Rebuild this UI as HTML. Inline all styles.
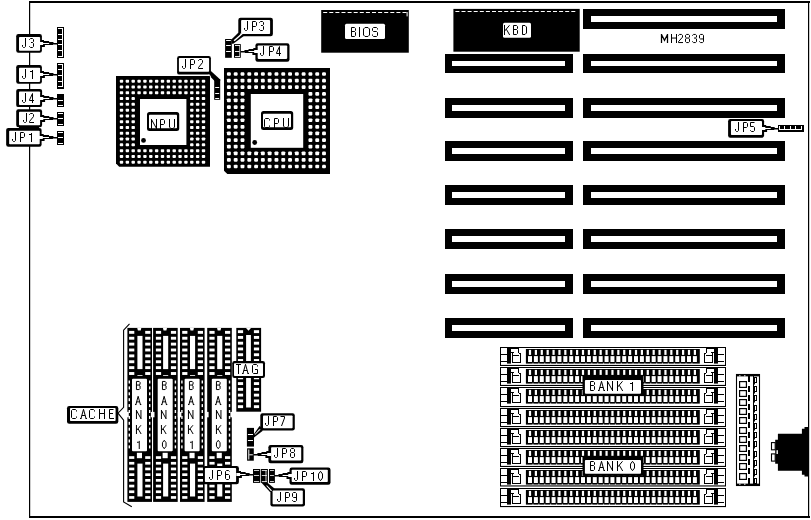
<!DOCTYPE html>
<html><head><meta charset="utf-8"><style>
html,body{margin:0;padding:0;background:#fff;width:811px;height:520px;overflow:hidden}
svg{display:block}
</style></head><body>
<svg width="811" height="520" viewBox="0 0 811 520">
<rect x="0" y="0" width="811" height="520" fill="#fff"/>
<rect x="29" y="1" width="781" height="2" fill="#000" />
<rect x="29" y="1" width="1.2" height="517" fill="#000" />
<rect x="808" y="1" width="1.2" height="517" fill="#000" />
<rect x="29" y="516" width="781" height="2" fill="#000" />
<rect x="57" y="27" width="7" height="31" fill="#000" />
<rect x="62" y="28" width="1" height="29" fill="#fff" />
<rect x="58" y="28" width="5" height="1" fill="#fff" />
<rect x="58" y="34" width="5" height="1" fill="#fff" />
<rect x="58" y="39" width="5" height="1" fill="#fff" />
<rect x="58" y="44" width="5" height="1" fill="#fff" />
<rect x="58" y="50" width="5" height="1" fill="#fff" />
<rect x="58" y="56" width="5" height="1" fill="#fff" />
<rect x="57" y="63" width="7" height="26" fill="#000" />
<rect x="62" y="64" width="1" height="23" fill="#fff" />
<rect x="58" y="64" width="5" height="1" fill="#fff" />
<rect x="58" y="69" width="5" height="1" fill="#fff" />
<rect x="58" y="75" width="5" height="1" fill="#fff" />
<rect x="58" y="81" width="5" height="1" fill="#fff" />
<rect x="58" y="86" width="5" height="1" fill="#fff" />
<rect x="57" y="94" width="7" height="13" fill="#000" />
<rect x="58" y="100" width="5" height="1" fill="#fff" />
<rect x="58" y="105" width="5" height="1" fill="#fff" />
<rect x="57" y="112" width="7" height="14" fill="#000" />
<rect x="58" y="113" width="5" height="1" fill="#fff" />
<rect x="58" y="118" width="5" height="1" fill="#fff" />
<rect x="58" y="124" width="5" height="1" fill="#fff" />
<rect x="57" y="131" width="7" height="14" fill="#000" />
<rect x="58" y="132" width="5" height="1" fill="#fff" />
<rect x="58" y="137" width="5" height="1" fill="#fff" />
<rect x="58" y="143" width="5" height="1" fill="#fff" />
<path d="M40.9 40 L44 40 L44 41 L49.14 41 L49.14 42 L53.45 42 L53.45 42.9 L57.3 42.9 L57.3 44.4 L52.99 44.4 L52.99 45 L44.9 45 L44.9 47 L40.9 47 Z" fill="#000"/>
<rect x="16.2" y="34.1" width="25.7" height="18.6" rx="2.2" fill="#000"/>
<rect x="19" y="36.9" width="21.1" height="13.9" rx="0.8" fill="#fff"/>
<path d="M3.5 0 V8.5 L2.5 9.5 H1.5 L0.5 8.5 V7" transform="translate(22 38) scale(1)" fill="none" stroke="#000" stroke-width="1" stroke-linecap="butt" stroke-linejoin="miter"/>
<path d="M0.5 2 V1.5 L1.5 0.5 H3.5 L4.5 1.5 V3.5 L3.5 4.5 H2 M3.5 4.5 L4.5 5.5 V8.5 L3.5 9.5 H1.5 L0.5 8.5 V8" transform="translate(29 38) scale(1)" fill="none" stroke="#000" stroke-width="1" stroke-linecap="butt" stroke-linejoin="miter"/>
<path d="M39.3 42 L43.1 42 L43.1 43 L49.14 43 L49.14 44 L43.1 44 L43.1 45 L39.3 45 Z" fill="#fff"/>
<path d="M40.9 71 L44 71 L44 72 L49.14 72 L49.14 73 L53.45 73 L53.45 73.9 L57.3 73.9 L57.3 75.4 L52.99 75.4 L52.99 76 L44.9 76 L44.9 78 L40.9 78 Z" fill="#000"/>
<rect x="16.2" y="65" width="25.7" height="18.8" rx="2.2" fill="#000"/>
<rect x="19" y="67.8" width="21.1" height="14.1" rx="0.8" fill="#fff"/>
<path d="M3.5 0 V8.5 L2.5 9.5 H1.5 L0.5 8.5 V7" transform="translate(22 69) scale(1)" fill="none" stroke="#000" stroke-width="1" stroke-linecap="butt" stroke-linejoin="miter"/>
<path d="M0 2.5 H2 M2.5 1 V10" transform="translate(30 69) scale(1)" fill="none" stroke="#000" stroke-width="1" stroke-linecap="butt" stroke-linejoin="miter"/>
<path d="M39.3 73 L43.1 73 L43.1 74 L49.14 74 L49.14 75 L43.1 75 L43.1 76 L39.3 76 Z" fill="#fff"/>
<path d="M41.1 95 L44.2 95 L44.2 96 L49.24 96 L49.24 97 L53.5 97 L53.5 97.9 L57.3 97.9 L57.3 99.4 L53.04 99.4 L53.04 100 L45.1 100 L45.1 102 L41.1 102 Z" fill="#000"/>
<rect x="16.2" y="88.9" width="25.9" height="18.2" rx="2.2" fill="#000"/>
<rect x="19" y="91.5" width="21.1" height="13.6" rx="0.8" fill="#fff"/>
<path d="M3.5 0 V8.5 L2.5 9.5 H1.5 L0.5 8.5 V7" transform="translate(22 93) scale(1)" fill="none" stroke="#000" stroke-width="1" stroke-linecap="butt" stroke-linejoin="miter"/>
<path d="M3.5 10 V0.5 L0.5 7 V7.5 H5" transform="translate(29 93) scale(1)" fill="none" stroke="#000" stroke-width="1" stroke-linecap="butt" stroke-linejoin="miter"/>
<path d="M39.5 97 L43.3 97 L43.3 98 L49.24 98 L49.24 99 L43.3 99 L43.3 100 L39.5 100 Z" fill="#fff"/>
<rect x="19" y="125" width="20" height="3.5" fill="#000" />
<path d="M41.1 115 L44.2 115 L44.2 116 L49.24 116 L49.24 117 L53.5 117 L53.5 117.9 L57.3 117.9 L57.3 119.4 L53.04 119.4 L53.04 120 L45.1 120 L45.1 122 L41.1 122 Z" fill="#000"/>
<rect x="16.2" y="109.2" width="25.9" height="18" rx="2.2" fill="#000"/>
<rect x="19" y="111.8" width="21.1" height="13.4" rx="0.8" fill="#fff"/>
<path d="M3.5 0 V8.5 L2.5 9.5 H1.5 L0.5 8.5 V7" transform="translate(23 113) scale(1)" fill="none" stroke="#000" stroke-width="1" stroke-linecap="butt" stroke-linejoin="miter"/>
<path d="M0.5 2 V1.5 L1.5 0.5 H3.5 L4.5 1.5 V3.5 L0.5 8.5 V9.5 H5" transform="translate(29 113) scale(1)" fill="none" stroke="#000" stroke-width="1" stroke-linecap="butt" stroke-linejoin="miter"/>
<path d="M39.5 117 L43.3 117 L43.3 118 L49.24 118 L49.24 119 L43.3 119 L43.3 120 L39.5 120 Z" fill="#fff"/>
<path d="M40.6 134 L43.7 134 L43.7 135 L48.98 135 L48.98 136 L53.38 136 L53.38 136.9 L57.3 136.9 L57.3 138.4 L52.9 138.4 L52.9 139 L44.6 139 L44.6 141 L40.6 141 Z" fill="#000"/>
<rect x="6.15" y="127.9" width="35.45" height="18.8" rx="2.2" fill="#000"/>
<rect x="9.15" y="130.8" width="30.55" height="13.5" rx="0.8" fill="#fff"/>
<path d="M3.5 0 V8.5 L2.5 9.5 H1.5 L0.5 8.5 V7" transform="translate(12 132) scale(1)" fill="none" stroke="#000" stroke-width="1" stroke-linecap="butt" stroke-linejoin="miter"/>
<path d="M0.5 10 V0.5 H3.5 L4.5 1.5 V4.5 L3.5 5.5 H0.5" transform="translate(20 132) scale(1)" fill="none" stroke="#000" stroke-width="1" stroke-linecap="butt" stroke-linejoin="miter"/>
<path d="M0 2.5 H2 M2.5 1 V10" transform="translate(29 132) scale(1)" fill="none" stroke="#000" stroke-width="1" stroke-linecap="butt" stroke-linejoin="miter"/>
<path d="M39 136 L42.8 136 L42.8 137 L48.98 137 L48.98 138 L42.8 138 L42.8 139 L39 139 Z" fill="#fff"/>
<path d="M116 76 L210 76 L210 166.8 L119.2 166.8 L116 163.6 Z" fill="#000"/>
<path d="M120.4 79.7 L122.6 79.7 L123.2 80.3 L123.2 82.1 L122.6 82.7 L120.4 82.7 L119.8 82.1 L119.8 80.3 Z" fill="#fff"/>
<path d="M120.4 85.49 L122.6 85.49 L123.2 86.09 L123.2 87.89 L122.6 88.49 L120.4 88.49 L119.8 87.89 L119.8 86.09 Z" fill="#fff"/>
<path d="M120.4 91.27 L122.6 91.27 L123.2 91.87 L123.2 93.67 L122.6 94.27 L120.4 94.27 L119.8 93.67 L119.8 91.87 Z" fill="#fff"/>
<path d="M120.4 97.06 L122.6 97.06 L123.2 97.66 L123.2 99.46 L122.6 100.06 L120.4 100.06 L119.8 99.46 L119.8 97.66 Z" fill="#fff"/>
<path d="M120.4 102.84 L122.6 102.84 L123.2 103.44 L123.2 105.24 L122.6 105.84 L120.4 105.84 L119.8 105.24 L119.8 103.44 Z" fill="#fff"/>
<path d="M120.4 108.63 L122.6 108.63 L123.2 109.23 L123.2 111.03 L122.6 111.63 L120.4 111.63 L119.8 111.03 L119.8 109.23 Z" fill="#fff"/>
<path d="M120.4 114.41 L122.6 114.41 L123.2 115.01 L123.2 116.81 L122.6 117.41 L120.4 117.41 L119.8 116.81 L119.8 115.01 Z" fill="#fff"/>
<path d="M120.4 120.2 L122.6 120.2 L123.2 120.8 L123.2 122.6 L122.6 123.2 L120.4 123.2 L119.8 122.6 L119.8 120.8 Z" fill="#fff"/>
<path d="M120.4 125.99 L122.6 125.99 L123.2 126.59 L123.2 128.39 L122.6 128.99 L120.4 128.99 L119.8 128.39 L119.8 126.59 Z" fill="#fff"/>
<path d="M120.4 131.77 L122.6 131.77 L123.2 132.37 L123.2 134.17 L122.6 134.77 L120.4 134.77 L119.8 134.17 L119.8 132.37 Z" fill="#fff"/>
<path d="M120.4 137.56 L122.6 137.56 L123.2 138.16 L123.2 139.96 L122.6 140.56 L120.4 140.56 L119.8 139.96 L119.8 138.16 Z" fill="#fff"/>
<path d="M120.4 143.34 L122.6 143.34 L123.2 143.94 L123.2 145.74 L122.6 146.34 L120.4 146.34 L119.8 145.74 L119.8 143.94 Z" fill="#fff"/>
<path d="M120.4 149.13 L122.6 149.13 L123.2 149.73 L123.2 151.53 L122.6 152.13 L120.4 152.13 L119.8 151.53 L119.8 149.73 Z" fill="#fff"/>
<path d="M120.4 154.91 L122.6 154.91 L123.2 155.51 L123.2 157.31 L122.6 157.91 L120.4 157.91 L119.8 157.31 L119.8 155.51 Z" fill="#fff"/>
<path d="M120.4 160.7 L122.6 160.7 L123.2 161.3 L123.2 163.1 L122.6 163.7 L120.4 163.7 L119.8 163.1 L119.8 161.3 Z" fill="#fff"/>
<path d="M126.26 79.7 L128.46 79.7 L129.06 80.3 L129.06 82.1 L128.46 82.7 L126.26 82.7 L125.66 82.1 L125.66 80.3 Z" fill="#fff"/>
<path d="M126.26 85.49 L128.46 85.49 L129.06 86.09 L129.06 87.89 L128.46 88.49 L126.26 88.49 L125.66 87.89 L125.66 86.09 Z" fill="#fff"/>
<path d="M126.26 91.27 L128.46 91.27 L129.06 91.87 L129.06 93.67 L128.46 94.27 L126.26 94.27 L125.66 93.67 L125.66 91.87 Z" fill="#fff"/>
<path d="M126.26 97.06 L128.46 97.06 L129.06 97.66 L129.06 99.46 L128.46 100.06 L126.26 100.06 L125.66 99.46 L125.66 97.66 Z" fill="#fff"/>
<path d="M126.26 102.84 L128.46 102.84 L129.06 103.44 L129.06 105.24 L128.46 105.84 L126.26 105.84 L125.66 105.24 L125.66 103.44 Z" fill="#fff"/>
<path d="M126.26 108.63 L128.46 108.63 L129.06 109.23 L129.06 111.03 L128.46 111.63 L126.26 111.63 L125.66 111.03 L125.66 109.23 Z" fill="#fff"/>
<path d="M126.26 114.41 L128.46 114.41 L129.06 115.01 L129.06 116.81 L128.46 117.41 L126.26 117.41 L125.66 116.81 L125.66 115.01 Z" fill="#fff"/>
<path d="M126.26 120.2 L128.46 120.2 L129.06 120.8 L129.06 122.6 L128.46 123.2 L126.26 123.2 L125.66 122.6 L125.66 120.8 Z" fill="#fff"/>
<path d="M126.26 125.99 L128.46 125.99 L129.06 126.59 L129.06 128.39 L128.46 128.99 L126.26 128.99 L125.66 128.39 L125.66 126.59 Z" fill="#fff"/>
<path d="M126.26 131.77 L128.46 131.77 L129.06 132.37 L129.06 134.17 L128.46 134.77 L126.26 134.77 L125.66 134.17 L125.66 132.37 Z" fill="#fff"/>
<path d="M126.26 137.56 L128.46 137.56 L129.06 138.16 L129.06 139.96 L128.46 140.56 L126.26 140.56 L125.66 139.96 L125.66 138.16 Z" fill="#fff"/>
<path d="M126.26 143.34 L128.46 143.34 L129.06 143.94 L129.06 145.74 L128.46 146.34 L126.26 146.34 L125.66 145.74 L125.66 143.94 Z" fill="#fff"/>
<path d="M126.26 149.13 L128.46 149.13 L129.06 149.73 L129.06 151.53 L128.46 152.13 L126.26 152.13 L125.66 151.53 L125.66 149.73 Z" fill="#fff"/>
<path d="M126.26 154.91 L128.46 154.91 L129.06 155.51 L129.06 157.31 L128.46 157.91 L126.26 157.91 L125.66 157.31 L125.66 155.51 Z" fill="#fff"/>
<path d="M126.26 160.7 L128.46 160.7 L129.06 161.3 L129.06 163.1 L128.46 163.7 L126.26 163.7 L125.66 163.1 L125.66 161.3 Z" fill="#fff"/>
<path d="M132.11 79.7 L134.31 79.7 L134.91 80.3 L134.91 82.1 L134.31 82.7 L132.11 82.7 L131.51 82.1 L131.51 80.3 Z" fill="#fff"/>
<path d="M132.11 85.49 L134.31 85.49 L134.91 86.09 L134.91 87.89 L134.31 88.49 L132.11 88.49 L131.51 87.89 L131.51 86.09 Z" fill="#fff"/>
<path d="M132.11 91.27 L134.31 91.27 L134.91 91.87 L134.91 93.67 L134.31 94.27 L132.11 94.27 L131.51 93.67 L131.51 91.87 Z" fill="#fff"/>
<path d="M132.11 97.06 L134.31 97.06 L134.91 97.66 L134.91 99.46 L134.31 100.06 L132.11 100.06 L131.51 99.46 L131.51 97.66 Z" fill="#fff"/>
<path d="M132.11 102.84 L134.31 102.84 L134.91 103.44 L134.91 105.24 L134.31 105.84 L132.11 105.84 L131.51 105.24 L131.51 103.44 Z" fill="#fff"/>
<path d="M132.11 108.63 L134.31 108.63 L134.91 109.23 L134.91 111.03 L134.31 111.63 L132.11 111.63 L131.51 111.03 L131.51 109.23 Z" fill="#fff"/>
<path d="M132.11 114.41 L134.31 114.41 L134.91 115.01 L134.91 116.81 L134.31 117.41 L132.11 117.41 L131.51 116.81 L131.51 115.01 Z" fill="#fff"/>
<path d="M132.11 120.2 L134.31 120.2 L134.91 120.8 L134.91 122.6 L134.31 123.2 L132.11 123.2 L131.51 122.6 L131.51 120.8 Z" fill="#fff"/>
<path d="M132.11 125.99 L134.31 125.99 L134.91 126.59 L134.91 128.39 L134.31 128.99 L132.11 128.99 L131.51 128.39 L131.51 126.59 Z" fill="#fff"/>
<path d="M132.11 131.77 L134.31 131.77 L134.91 132.37 L134.91 134.17 L134.31 134.77 L132.11 134.77 L131.51 134.17 L131.51 132.37 Z" fill="#fff"/>
<path d="M132.11 137.56 L134.31 137.56 L134.91 138.16 L134.91 139.96 L134.31 140.56 L132.11 140.56 L131.51 139.96 L131.51 138.16 Z" fill="#fff"/>
<path d="M132.11 143.34 L134.31 143.34 L134.91 143.94 L134.91 145.74 L134.31 146.34 L132.11 146.34 L131.51 145.74 L131.51 143.94 Z" fill="#fff"/>
<path d="M132.11 149.13 L134.31 149.13 L134.91 149.73 L134.91 151.53 L134.31 152.13 L132.11 152.13 L131.51 151.53 L131.51 149.73 Z" fill="#fff"/>
<path d="M132.11 154.91 L134.31 154.91 L134.91 155.51 L134.91 157.31 L134.31 157.91 L132.11 157.91 L131.51 157.31 L131.51 155.51 Z" fill="#fff"/>
<path d="M132.11 160.7 L134.31 160.7 L134.91 161.3 L134.91 163.1 L134.31 163.7 L132.11 163.7 L131.51 163.1 L131.51 161.3 Z" fill="#fff"/>
<path d="M137.97 79.7 L140.17 79.7 L140.77 80.3 L140.77 82.1 L140.17 82.7 L137.97 82.7 L137.37 82.1 L137.37 80.3 Z" fill="#fff"/>
<path d="M137.97 85.49 L140.17 85.49 L140.77 86.09 L140.77 87.89 L140.17 88.49 L137.97 88.49 L137.37 87.89 L137.37 86.09 Z" fill="#fff"/>
<path d="M137.97 91.27 L140.17 91.27 L140.77 91.87 L140.77 93.67 L140.17 94.27 L137.97 94.27 L137.37 93.67 L137.37 91.87 Z" fill="#fff"/>
<path d="M137.97 149.13 L140.17 149.13 L140.77 149.73 L140.77 151.53 L140.17 152.13 L137.97 152.13 L137.37 151.53 L137.37 149.73 Z" fill="#fff"/>
<path d="M137.97 154.91 L140.17 154.91 L140.77 155.51 L140.77 157.31 L140.17 157.91 L137.97 157.91 L137.37 157.31 L137.37 155.51 Z" fill="#fff"/>
<path d="M137.97 160.7 L140.17 160.7 L140.77 161.3 L140.77 163.1 L140.17 163.7 L137.97 163.7 L137.37 163.1 L137.37 161.3 Z" fill="#fff"/>
<path d="M143.83 79.7 L146.03 79.7 L146.63 80.3 L146.63 82.1 L146.03 82.7 L143.83 82.7 L143.23 82.1 L143.23 80.3 Z" fill="#fff"/>
<path d="M143.83 85.49 L146.03 85.49 L146.63 86.09 L146.63 87.89 L146.03 88.49 L143.83 88.49 L143.23 87.89 L143.23 86.09 Z" fill="#fff"/>
<path d="M143.83 91.27 L146.03 91.27 L146.63 91.87 L146.63 93.67 L146.03 94.27 L143.83 94.27 L143.23 93.67 L143.23 91.87 Z" fill="#fff"/>
<path d="M143.83 149.13 L146.03 149.13 L146.63 149.73 L146.63 151.53 L146.03 152.13 L143.83 152.13 L143.23 151.53 L143.23 149.73 Z" fill="#fff"/>
<path d="M143.83 154.91 L146.03 154.91 L146.63 155.51 L146.63 157.31 L146.03 157.91 L143.83 157.91 L143.23 157.31 L143.23 155.51 Z" fill="#fff"/>
<path d="M143.83 160.7 L146.03 160.7 L146.63 161.3 L146.63 163.1 L146.03 163.7 L143.83 163.7 L143.23 163.1 L143.23 161.3 Z" fill="#fff"/>
<path d="M149.69 79.7 L151.89 79.7 L152.49 80.3 L152.49 82.1 L151.89 82.7 L149.69 82.7 L149.09 82.1 L149.09 80.3 Z" fill="#fff"/>
<path d="M149.69 85.49 L151.89 85.49 L152.49 86.09 L152.49 87.89 L151.89 88.49 L149.69 88.49 L149.09 87.89 L149.09 86.09 Z" fill="#fff"/>
<path d="M149.69 91.27 L151.89 91.27 L152.49 91.87 L152.49 93.67 L151.89 94.27 L149.69 94.27 L149.09 93.67 L149.09 91.87 Z" fill="#fff"/>
<path d="M149.69 149.13 L151.89 149.13 L152.49 149.73 L152.49 151.53 L151.89 152.13 L149.69 152.13 L149.09 151.53 L149.09 149.73 Z" fill="#fff"/>
<path d="M149.69 154.91 L151.89 154.91 L152.49 155.51 L152.49 157.31 L151.89 157.91 L149.69 157.91 L149.09 157.31 L149.09 155.51 Z" fill="#fff"/>
<path d="M149.69 160.7 L151.89 160.7 L152.49 161.3 L152.49 163.1 L151.89 163.7 L149.69 163.7 L149.09 163.1 L149.09 161.3 Z" fill="#fff"/>
<path d="M155.54 79.7 L157.74 79.7 L158.34 80.3 L158.34 82.1 L157.74 82.7 L155.54 82.7 L154.94 82.1 L154.94 80.3 Z" fill="#fff"/>
<path d="M155.54 85.49 L157.74 85.49 L158.34 86.09 L158.34 87.89 L157.74 88.49 L155.54 88.49 L154.94 87.89 L154.94 86.09 Z" fill="#fff"/>
<path d="M155.54 91.27 L157.74 91.27 L158.34 91.87 L158.34 93.67 L157.74 94.27 L155.54 94.27 L154.94 93.67 L154.94 91.87 Z" fill="#fff"/>
<path d="M155.54 149.13 L157.74 149.13 L158.34 149.73 L158.34 151.53 L157.74 152.13 L155.54 152.13 L154.94 151.53 L154.94 149.73 Z" fill="#fff"/>
<path d="M155.54 154.91 L157.74 154.91 L158.34 155.51 L158.34 157.31 L157.74 157.91 L155.54 157.91 L154.94 157.31 L154.94 155.51 Z" fill="#fff"/>
<path d="M155.54 160.7 L157.74 160.7 L158.34 161.3 L158.34 163.1 L157.74 163.7 L155.54 163.7 L154.94 163.1 L154.94 161.3 Z" fill="#fff"/>
<path d="M161.4 79.7 L163.6 79.7 L164.2 80.3 L164.2 82.1 L163.6 82.7 L161.4 82.7 L160.8 82.1 L160.8 80.3 Z" fill="#fff"/>
<path d="M161.4 85.49 L163.6 85.49 L164.2 86.09 L164.2 87.89 L163.6 88.49 L161.4 88.49 L160.8 87.89 L160.8 86.09 Z" fill="#fff"/>
<path d="M161.4 91.27 L163.6 91.27 L164.2 91.87 L164.2 93.67 L163.6 94.27 L161.4 94.27 L160.8 93.67 L160.8 91.87 Z" fill="#fff"/>
<path d="M161.4 149.13 L163.6 149.13 L164.2 149.73 L164.2 151.53 L163.6 152.13 L161.4 152.13 L160.8 151.53 L160.8 149.73 Z" fill="#fff"/>
<path d="M161.4 154.91 L163.6 154.91 L164.2 155.51 L164.2 157.31 L163.6 157.91 L161.4 157.91 L160.8 157.31 L160.8 155.51 Z" fill="#fff"/>
<path d="M161.4 160.7 L163.6 160.7 L164.2 161.3 L164.2 163.1 L163.6 163.7 L161.4 163.7 L160.8 163.1 L160.8 161.3 Z" fill="#fff"/>
<path d="M167.26 79.7 L169.46 79.7 L170.06 80.3 L170.06 82.1 L169.46 82.7 L167.26 82.7 L166.66 82.1 L166.66 80.3 Z" fill="#fff"/>
<path d="M167.26 85.49 L169.46 85.49 L170.06 86.09 L170.06 87.89 L169.46 88.49 L167.26 88.49 L166.66 87.89 L166.66 86.09 Z" fill="#fff"/>
<path d="M167.26 91.27 L169.46 91.27 L170.06 91.87 L170.06 93.67 L169.46 94.27 L167.26 94.27 L166.66 93.67 L166.66 91.87 Z" fill="#fff"/>
<path d="M167.26 149.13 L169.46 149.13 L170.06 149.73 L170.06 151.53 L169.46 152.13 L167.26 152.13 L166.66 151.53 L166.66 149.73 Z" fill="#fff"/>
<path d="M167.26 154.91 L169.46 154.91 L170.06 155.51 L170.06 157.31 L169.46 157.91 L167.26 157.91 L166.66 157.31 L166.66 155.51 Z" fill="#fff"/>
<path d="M167.26 160.7 L169.46 160.7 L170.06 161.3 L170.06 163.1 L169.46 163.7 L167.26 163.7 L166.66 163.1 L166.66 161.3 Z" fill="#fff"/>
<path d="M173.11 79.7 L175.31 79.7 L175.91 80.3 L175.91 82.1 L175.31 82.7 L173.11 82.7 L172.51 82.1 L172.51 80.3 Z" fill="#fff"/>
<path d="M173.11 85.49 L175.31 85.49 L175.91 86.09 L175.91 87.89 L175.31 88.49 L173.11 88.49 L172.51 87.89 L172.51 86.09 Z" fill="#fff"/>
<path d="M173.11 91.27 L175.31 91.27 L175.91 91.87 L175.91 93.67 L175.31 94.27 L173.11 94.27 L172.51 93.67 L172.51 91.87 Z" fill="#fff"/>
<path d="M173.11 149.13 L175.31 149.13 L175.91 149.73 L175.91 151.53 L175.31 152.13 L173.11 152.13 L172.51 151.53 L172.51 149.73 Z" fill="#fff"/>
<path d="M173.11 154.91 L175.31 154.91 L175.91 155.51 L175.91 157.31 L175.31 157.91 L173.11 157.91 L172.51 157.31 L172.51 155.51 Z" fill="#fff"/>
<path d="M173.11 160.7 L175.31 160.7 L175.91 161.3 L175.91 163.1 L175.31 163.7 L173.11 163.7 L172.51 163.1 L172.51 161.3 Z" fill="#fff"/>
<path d="M178.97 79.7 L181.17 79.7 L181.77 80.3 L181.77 82.1 L181.17 82.7 L178.97 82.7 L178.37 82.1 L178.37 80.3 Z" fill="#fff"/>
<path d="M178.97 85.49 L181.17 85.49 L181.77 86.09 L181.77 87.89 L181.17 88.49 L178.97 88.49 L178.37 87.89 L178.37 86.09 Z" fill="#fff"/>
<path d="M178.97 91.27 L181.17 91.27 L181.77 91.87 L181.77 93.67 L181.17 94.27 L178.97 94.27 L178.37 93.67 L178.37 91.87 Z" fill="#fff"/>
<path d="M178.97 149.13 L181.17 149.13 L181.77 149.73 L181.77 151.53 L181.17 152.13 L178.97 152.13 L178.37 151.53 L178.37 149.73 Z" fill="#fff"/>
<path d="M178.97 154.91 L181.17 154.91 L181.77 155.51 L181.77 157.31 L181.17 157.91 L178.97 157.91 L178.37 157.31 L178.37 155.51 Z" fill="#fff"/>
<path d="M178.97 160.7 L181.17 160.7 L181.77 161.3 L181.77 163.1 L181.17 163.7 L178.97 163.7 L178.37 163.1 L178.37 161.3 Z" fill="#fff"/>
<path d="M184.83 79.7 L187.03 79.7 L187.63 80.3 L187.63 82.1 L187.03 82.7 L184.83 82.7 L184.23 82.1 L184.23 80.3 Z" fill="#fff"/>
<path d="M184.83 85.49 L187.03 85.49 L187.63 86.09 L187.63 87.89 L187.03 88.49 L184.83 88.49 L184.23 87.89 L184.23 86.09 Z" fill="#fff"/>
<path d="M184.83 91.27 L187.03 91.27 L187.63 91.87 L187.63 93.67 L187.03 94.27 L184.83 94.27 L184.23 93.67 L184.23 91.87 Z" fill="#fff"/>
<path d="M184.83 149.13 L187.03 149.13 L187.63 149.73 L187.63 151.53 L187.03 152.13 L184.83 152.13 L184.23 151.53 L184.23 149.73 Z" fill="#fff"/>
<path d="M184.83 154.91 L187.03 154.91 L187.63 155.51 L187.63 157.31 L187.03 157.91 L184.83 157.91 L184.23 157.31 L184.23 155.51 Z" fill="#fff"/>
<path d="M184.83 160.7 L187.03 160.7 L187.63 161.3 L187.63 163.1 L187.03 163.7 L184.83 163.7 L184.23 163.1 L184.23 161.3 Z" fill="#fff"/>
<path d="M190.69 79.7 L192.89 79.7 L193.49 80.3 L193.49 82.1 L192.89 82.7 L190.69 82.7 L190.09 82.1 L190.09 80.3 Z" fill="#fff"/>
<path d="M190.69 85.49 L192.89 85.49 L193.49 86.09 L193.49 87.89 L192.89 88.49 L190.69 88.49 L190.09 87.89 L190.09 86.09 Z" fill="#fff"/>
<path d="M190.69 91.27 L192.89 91.27 L193.49 91.87 L193.49 93.67 L192.89 94.27 L190.69 94.27 L190.09 93.67 L190.09 91.87 Z" fill="#fff"/>
<path d="M190.69 97.06 L192.89 97.06 L193.49 97.66 L193.49 99.46 L192.89 100.06 L190.69 100.06 L190.09 99.46 L190.09 97.66 Z" fill="#fff"/>
<path d="M190.69 102.84 L192.89 102.84 L193.49 103.44 L193.49 105.24 L192.89 105.84 L190.69 105.84 L190.09 105.24 L190.09 103.44 Z" fill="#fff"/>
<path d="M190.69 108.63 L192.89 108.63 L193.49 109.23 L193.49 111.03 L192.89 111.63 L190.69 111.63 L190.09 111.03 L190.09 109.23 Z" fill="#fff"/>
<path d="M190.69 114.41 L192.89 114.41 L193.49 115.01 L193.49 116.81 L192.89 117.41 L190.69 117.41 L190.09 116.81 L190.09 115.01 Z" fill="#fff"/>
<path d="M190.69 120.2 L192.89 120.2 L193.49 120.8 L193.49 122.6 L192.89 123.2 L190.69 123.2 L190.09 122.6 L190.09 120.8 Z" fill="#fff"/>
<path d="M190.69 125.99 L192.89 125.99 L193.49 126.59 L193.49 128.39 L192.89 128.99 L190.69 128.99 L190.09 128.39 L190.09 126.59 Z" fill="#fff"/>
<path d="M190.69 131.77 L192.89 131.77 L193.49 132.37 L193.49 134.17 L192.89 134.77 L190.69 134.77 L190.09 134.17 L190.09 132.37 Z" fill="#fff"/>
<path d="M190.69 137.56 L192.89 137.56 L193.49 138.16 L193.49 139.96 L192.89 140.56 L190.69 140.56 L190.09 139.96 L190.09 138.16 Z" fill="#fff"/>
<path d="M190.69 143.34 L192.89 143.34 L193.49 143.94 L193.49 145.74 L192.89 146.34 L190.69 146.34 L190.09 145.74 L190.09 143.94 Z" fill="#fff"/>
<path d="M190.69 149.13 L192.89 149.13 L193.49 149.73 L193.49 151.53 L192.89 152.13 L190.69 152.13 L190.09 151.53 L190.09 149.73 Z" fill="#fff"/>
<path d="M190.69 154.91 L192.89 154.91 L193.49 155.51 L193.49 157.31 L192.89 157.91 L190.69 157.91 L190.09 157.31 L190.09 155.51 Z" fill="#fff"/>
<path d="M190.69 160.7 L192.89 160.7 L193.49 161.3 L193.49 163.1 L192.89 163.7 L190.69 163.7 L190.09 163.1 L190.09 161.3 Z" fill="#fff"/>
<path d="M196.54 79.7 L198.74 79.7 L199.34 80.3 L199.34 82.1 L198.74 82.7 L196.54 82.7 L195.94 82.1 L195.94 80.3 Z" fill="#fff"/>
<path d="M196.54 85.49 L198.74 85.49 L199.34 86.09 L199.34 87.89 L198.74 88.49 L196.54 88.49 L195.94 87.89 L195.94 86.09 Z" fill="#fff"/>
<path d="M196.54 91.27 L198.74 91.27 L199.34 91.87 L199.34 93.67 L198.74 94.27 L196.54 94.27 L195.94 93.67 L195.94 91.87 Z" fill="#fff"/>
<path d="M196.54 97.06 L198.74 97.06 L199.34 97.66 L199.34 99.46 L198.74 100.06 L196.54 100.06 L195.94 99.46 L195.94 97.66 Z" fill="#fff"/>
<path d="M196.54 102.84 L198.74 102.84 L199.34 103.44 L199.34 105.24 L198.74 105.84 L196.54 105.84 L195.94 105.24 L195.94 103.44 Z" fill="#fff"/>
<path d="M196.54 108.63 L198.74 108.63 L199.34 109.23 L199.34 111.03 L198.74 111.63 L196.54 111.63 L195.94 111.03 L195.94 109.23 Z" fill="#fff"/>
<path d="M196.54 114.41 L198.74 114.41 L199.34 115.01 L199.34 116.81 L198.74 117.41 L196.54 117.41 L195.94 116.81 L195.94 115.01 Z" fill="#fff"/>
<path d="M196.54 120.2 L198.74 120.2 L199.34 120.8 L199.34 122.6 L198.74 123.2 L196.54 123.2 L195.94 122.6 L195.94 120.8 Z" fill="#fff"/>
<path d="M196.54 125.99 L198.74 125.99 L199.34 126.59 L199.34 128.39 L198.74 128.99 L196.54 128.99 L195.94 128.39 L195.94 126.59 Z" fill="#fff"/>
<path d="M196.54 131.77 L198.74 131.77 L199.34 132.37 L199.34 134.17 L198.74 134.77 L196.54 134.77 L195.94 134.17 L195.94 132.37 Z" fill="#fff"/>
<path d="M196.54 137.56 L198.74 137.56 L199.34 138.16 L199.34 139.96 L198.74 140.56 L196.54 140.56 L195.94 139.96 L195.94 138.16 Z" fill="#fff"/>
<path d="M196.54 143.34 L198.74 143.34 L199.34 143.94 L199.34 145.74 L198.74 146.34 L196.54 146.34 L195.94 145.74 L195.94 143.94 Z" fill="#fff"/>
<path d="M196.54 149.13 L198.74 149.13 L199.34 149.73 L199.34 151.53 L198.74 152.13 L196.54 152.13 L195.94 151.53 L195.94 149.73 Z" fill="#fff"/>
<path d="M196.54 154.91 L198.74 154.91 L199.34 155.51 L199.34 157.31 L198.74 157.91 L196.54 157.91 L195.94 157.31 L195.94 155.51 Z" fill="#fff"/>
<path d="M196.54 160.7 L198.74 160.7 L199.34 161.3 L199.34 163.1 L198.74 163.7 L196.54 163.7 L195.94 163.1 L195.94 161.3 Z" fill="#fff"/>
<path d="M202.4 79.7 L204.6 79.7 L205.2 80.3 L205.2 82.1 L204.6 82.7 L202.4 82.7 L201.8 82.1 L201.8 80.3 Z" fill="#fff"/>
<path d="M202.4 85.49 L204.6 85.49 L205.2 86.09 L205.2 87.89 L204.6 88.49 L202.4 88.49 L201.8 87.89 L201.8 86.09 Z" fill="#fff"/>
<path d="M202.4 91.27 L204.6 91.27 L205.2 91.87 L205.2 93.67 L204.6 94.27 L202.4 94.27 L201.8 93.67 L201.8 91.87 Z" fill="#fff"/>
<path d="M202.4 97.06 L204.6 97.06 L205.2 97.66 L205.2 99.46 L204.6 100.06 L202.4 100.06 L201.8 99.46 L201.8 97.66 Z" fill="#fff"/>
<path d="M202.4 102.84 L204.6 102.84 L205.2 103.44 L205.2 105.24 L204.6 105.84 L202.4 105.84 L201.8 105.24 L201.8 103.44 Z" fill="#fff"/>
<path d="M202.4 108.63 L204.6 108.63 L205.2 109.23 L205.2 111.03 L204.6 111.63 L202.4 111.63 L201.8 111.03 L201.8 109.23 Z" fill="#fff"/>
<path d="M202.4 114.41 L204.6 114.41 L205.2 115.01 L205.2 116.81 L204.6 117.41 L202.4 117.41 L201.8 116.81 L201.8 115.01 Z" fill="#fff"/>
<path d="M202.4 120.2 L204.6 120.2 L205.2 120.8 L205.2 122.6 L204.6 123.2 L202.4 123.2 L201.8 122.6 L201.8 120.8 Z" fill="#fff"/>
<path d="M202.4 125.99 L204.6 125.99 L205.2 126.59 L205.2 128.39 L204.6 128.99 L202.4 128.99 L201.8 128.39 L201.8 126.59 Z" fill="#fff"/>
<path d="M202.4 131.77 L204.6 131.77 L205.2 132.37 L205.2 134.17 L204.6 134.77 L202.4 134.77 L201.8 134.17 L201.8 132.37 Z" fill="#fff"/>
<path d="M202.4 137.56 L204.6 137.56 L205.2 138.16 L205.2 139.96 L204.6 140.56 L202.4 140.56 L201.8 139.96 L201.8 138.16 Z" fill="#fff"/>
<path d="M202.4 143.34 L204.6 143.34 L205.2 143.94 L205.2 145.74 L204.6 146.34 L202.4 146.34 L201.8 145.74 L201.8 143.94 Z" fill="#fff"/>
<path d="M202.4 149.13 L204.6 149.13 L205.2 149.73 L205.2 151.53 L204.6 152.13 L202.4 152.13 L201.8 151.53 L201.8 149.73 Z" fill="#fff"/>
<path d="M202.4 154.91 L204.6 154.91 L205.2 155.51 L205.2 157.31 L204.6 157.91 L202.4 157.91 L201.8 157.31 L201.8 155.51 Z" fill="#fff"/>
<path d="M202.4 160.7 L204.6 160.7 L205.2 161.3 L205.2 163.1 L204.6 163.7 L202.4 163.7 L201.8 163.1 L201.8 161.3 Z" fill="#fff"/>
<rect x="140" y="99" width="46.4" height="46" fill="#fff" />
<rect x="147" y="112" width="32.2" height="18.9" rx="2.5" fill="#000"/>
<rect x="149" y="114.8" width="28" height="13.5" rx="0.8" fill="#fff"/>
<path d="M0.5 10 V0 M0.5 0.5 L5.5 9.5 M5.5 10 V0" transform="translate(151 119) scale(1)" fill="none" stroke="#000" stroke-width="1" stroke-linecap="butt" stroke-linejoin="miter"/>
<path d="M0.5 10 V0.5 H3.5 L4.5 1.5 V4.5 L3.5 5.5 H0.5" transform="translate(160 119) scale(1)" fill="none" stroke="#000" stroke-width="1" stroke-linecap="butt" stroke-linejoin="miter"/>
<path d="M0.5 0 V8 L1.8 9.5 H4.2 L5.5 8 V0" transform="translate(169 119) scale(1)" fill="none" stroke="#000" stroke-width="1" stroke-linecap="butt" stroke-linejoin="miter"/>
<circle cx="143.5" cy="140.4" r="2.4" fill="#000"/>
<path d="M224 68 L330 68 L330 174 L227.3 174 L224 170.7 Z" fill="#000"/>
<path d="M227.69 72.15 L230.11 72.15 L230.85 72.89 L230.85 75.11 L230.11 75.85 L227.69 75.85 L226.95 75.11 L226.95 72.89 Z" fill="#fff"/>
<path d="M227.69 78.76 L230.11 78.76 L230.85 79.5 L230.85 81.72 L230.11 82.46 L227.69 82.46 L226.95 81.72 L226.95 79.5 Z" fill="#fff"/>
<path d="M227.69 85.36 L230.11 85.36 L230.85 86.1 L230.85 88.32 L230.11 89.06 L227.69 89.06 L226.95 88.32 L226.95 86.1 Z" fill="#fff"/>
<path d="M227.69 91.97 L230.11 91.97 L230.85 92.71 L230.85 94.93 L230.11 95.67 L227.69 95.67 L226.95 94.93 L226.95 92.71 Z" fill="#fff"/>
<path d="M227.69 98.58 L230.11 98.58 L230.85 99.32 L230.85 101.54 L230.11 102.28 L227.69 102.28 L226.95 101.54 L226.95 99.32 Z" fill="#fff"/>
<path d="M227.69 105.19 L230.11 105.19 L230.85 105.93 L230.85 108.15 L230.11 108.89 L227.69 108.89 L226.95 108.15 L226.95 105.93 Z" fill="#fff"/>
<path d="M227.69 111.79 L230.11 111.79 L230.85 112.53 L230.85 114.75 L230.11 115.49 L227.69 115.49 L226.95 114.75 L226.95 112.53 Z" fill="#fff"/>
<path d="M227.69 118.4 L230.11 118.4 L230.85 119.14 L230.85 121.36 L230.11 122.1 L227.69 122.1 L226.95 121.36 L226.95 119.14 Z" fill="#fff"/>
<path d="M227.69 125.01 L230.11 125.01 L230.85 125.75 L230.85 127.97 L230.11 128.71 L227.69 128.71 L226.95 127.97 L226.95 125.75 Z" fill="#fff"/>
<path d="M227.69 131.61 L230.11 131.61 L230.85 132.35 L230.85 134.57 L230.11 135.31 L227.69 135.31 L226.95 134.57 L226.95 132.35 Z" fill="#fff"/>
<path d="M227.69 138.22 L230.11 138.22 L230.85 138.96 L230.85 141.18 L230.11 141.92 L227.69 141.92 L226.95 141.18 L226.95 138.96 Z" fill="#fff"/>
<path d="M227.69 144.83 L230.11 144.83 L230.85 145.57 L230.85 147.79 L230.11 148.53 L227.69 148.53 L226.95 147.79 L226.95 145.57 Z" fill="#fff"/>
<path d="M227.69 151.44 L230.11 151.44 L230.85 152.18 L230.85 154.4 L230.11 155.14 L227.69 155.14 L226.95 154.4 L226.95 152.18 Z" fill="#fff"/>
<path d="M227.69 158.04 L230.11 158.04 L230.85 158.78 L230.85 161 L230.11 161.74 L227.69 161.74 L226.95 161 L226.95 158.78 Z" fill="#fff"/>
<path d="M227.69 164.65 L230.11 164.65 L230.85 165.39 L230.85 167.61 L230.11 168.35 L227.69 168.35 L226.95 167.61 L226.95 165.39 Z" fill="#fff"/>
<path d="M234.48 72.15 L236.9 72.15 L237.64 72.89 L237.64 75.11 L236.9 75.85 L234.48 75.85 L233.74 75.11 L233.74 72.89 Z" fill="#fff"/>
<path d="M234.48 78.76 L236.9 78.76 L237.64 79.5 L237.64 81.72 L236.9 82.46 L234.48 82.46 L233.74 81.72 L233.74 79.5 Z" fill="#fff"/>
<path d="M234.48 85.36 L236.9 85.36 L237.64 86.1 L237.64 88.32 L236.9 89.06 L234.48 89.06 L233.74 88.32 L233.74 86.1 Z" fill="#fff"/>
<path d="M234.48 91.97 L236.9 91.97 L237.64 92.71 L237.64 94.93 L236.9 95.67 L234.48 95.67 L233.74 94.93 L233.74 92.71 Z" fill="#fff"/>
<path d="M234.48 98.58 L236.9 98.58 L237.64 99.32 L237.64 101.54 L236.9 102.28 L234.48 102.28 L233.74 101.54 L233.74 99.32 Z" fill="#fff"/>
<path d="M234.48 105.19 L236.9 105.19 L237.64 105.93 L237.64 108.15 L236.9 108.89 L234.48 108.89 L233.74 108.15 L233.74 105.93 Z" fill="#fff"/>
<path d="M234.48 111.79 L236.9 111.79 L237.64 112.53 L237.64 114.75 L236.9 115.49 L234.48 115.49 L233.74 114.75 L233.74 112.53 Z" fill="#fff"/>
<path d="M234.48 118.4 L236.9 118.4 L237.64 119.14 L237.64 121.36 L236.9 122.1 L234.48 122.1 L233.74 121.36 L233.74 119.14 Z" fill="#fff"/>
<path d="M234.48 125.01 L236.9 125.01 L237.64 125.75 L237.64 127.97 L236.9 128.71 L234.48 128.71 L233.74 127.97 L233.74 125.75 Z" fill="#fff"/>
<path d="M234.48 131.61 L236.9 131.61 L237.64 132.35 L237.64 134.57 L236.9 135.31 L234.48 135.31 L233.74 134.57 L233.74 132.35 Z" fill="#fff"/>
<path d="M234.48 138.22 L236.9 138.22 L237.64 138.96 L237.64 141.18 L236.9 141.92 L234.48 141.92 L233.74 141.18 L233.74 138.96 Z" fill="#fff"/>
<path d="M234.48 144.83 L236.9 144.83 L237.64 145.57 L237.64 147.79 L236.9 148.53 L234.48 148.53 L233.74 147.79 L233.74 145.57 Z" fill="#fff"/>
<path d="M234.48 151.44 L236.9 151.44 L237.64 152.18 L237.64 154.4 L236.9 155.14 L234.48 155.14 L233.74 154.4 L233.74 152.18 Z" fill="#fff"/>
<path d="M234.48 158.04 L236.9 158.04 L237.64 158.78 L237.64 161 L236.9 161.74 L234.48 161.74 L233.74 161 L233.74 158.78 Z" fill="#fff"/>
<path d="M234.48 164.65 L236.9 164.65 L237.64 165.39 L237.64 167.61 L236.9 168.35 L234.48 168.35 L233.74 167.61 L233.74 165.39 Z" fill="#fff"/>
<path d="M241.28 72.15 L243.7 72.15 L244.44 72.89 L244.44 75.11 L243.7 75.85 L241.28 75.85 L240.54 75.11 L240.54 72.89 Z" fill="#fff"/>
<path d="M241.28 78.76 L243.7 78.76 L244.44 79.5 L244.44 81.72 L243.7 82.46 L241.28 82.46 L240.54 81.72 L240.54 79.5 Z" fill="#fff"/>
<path d="M241.28 85.36 L243.7 85.36 L244.44 86.1 L244.44 88.32 L243.7 89.06 L241.28 89.06 L240.54 88.32 L240.54 86.1 Z" fill="#fff"/>
<path d="M241.28 91.97 L243.7 91.97 L244.44 92.71 L244.44 94.93 L243.7 95.67 L241.28 95.67 L240.54 94.93 L240.54 92.71 Z" fill="#fff"/>
<path d="M241.28 98.58 L243.7 98.58 L244.44 99.32 L244.44 101.54 L243.7 102.28 L241.28 102.28 L240.54 101.54 L240.54 99.32 Z" fill="#fff"/>
<path d="M241.28 105.19 L243.7 105.19 L244.44 105.93 L244.44 108.15 L243.7 108.89 L241.28 108.89 L240.54 108.15 L240.54 105.93 Z" fill="#fff"/>
<path d="M241.28 111.79 L243.7 111.79 L244.44 112.53 L244.44 114.75 L243.7 115.49 L241.28 115.49 L240.54 114.75 L240.54 112.53 Z" fill="#fff"/>
<path d="M241.28 118.4 L243.7 118.4 L244.44 119.14 L244.44 121.36 L243.7 122.1 L241.28 122.1 L240.54 121.36 L240.54 119.14 Z" fill="#fff"/>
<path d="M241.28 125.01 L243.7 125.01 L244.44 125.75 L244.44 127.97 L243.7 128.71 L241.28 128.71 L240.54 127.97 L240.54 125.75 Z" fill="#fff"/>
<path d="M241.28 131.61 L243.7 131.61 L244.44 132.35 L244.44 134.57 L243.7 135.31 L241.28 135.31 L240.54 134.57 L240.54 132.35 Z" fill="#fff"/>
<path d="M241.28 138.22 L243.7 138.22 L244.44 138.96 L244.44 141.18 L243.7 141.92 L241.28 141.92 L240.54 141.18 L240.54 138.96 Z" fill="#fff"/>
<path d="M241.28 144.83 L243.7 144.83 L244.44 145.57 L244.44 147.79 L243.7 148.53 L241.28 148.53 L240.54 147.79 L240.54 145.57 Z" fill="#fff"/>
<path d="M241.28 151.44 L243.7 151.44 L244.44 152.18 L244.44 154.4 L243.7 155.14 L241.28 155.14 L240.54 154.4 L240.54 152.18 Z" fill="#fff"/>
<path d="M241.28 158.04 L243.7 158.04 L244.44 158.78 L244.44 161 L243.7 161.74 L241.28 161.74 L240.54 161 L240.54 158.78 Z" fill="#fff"/>
<path d="M241.28 164.65 L243.7 164.65 L244.44 165.39 L244.44 167.61 L243.7 168.35 L241.28 168.35 L240.54 167.61 L240.54 165.39 Z" fill="#fff"/>
<path d="M248.07 72.15 L250.49 72.15 L251.23 72.89 L251.23 75.11 L250.49 75.85 L248.07 75.85 L247.33 75.11 L247.33 72.89 Z" fill="#fff"/>
<path d="M248.07 78.76 L250.49 78.76 L251.23 79.5 L251.23 81.72 L250.49 82.46 L248.07 82.46 L247.33 81.72 L247.33 79.5 Z" fill="#fff"/>
<path d="M248.07 85.36 L250.49 85.36 L251.23 86.1 L251.23 88.32 L250.49 89.06 L248.07 89.06 L247.33 88.32 L247.33 86.1 Z" fill="#fff"/>
<path d="M248.07 151.44 L250.49 151.44 L251.23 152.18 L251.23 154.4 L250.49 155.14 L248.07 155.14 L247.33 154.4 L247.33 152.18 Z" fill="#fff"/>
<path d="M248.07 158.04 L250.49 158.04 L251.23 158.78 L251.23 161 L250.49 161.74 L248.07 161.74 L247.33 161 L247.33 158.78 Z" fill="#fff"/>
<path d="M248.07 164.65 L250.49 164.65 L251.23 165.39 L251.23 167.61 L250.49 168.35 L248.07 168.35 L247.33 167.61 L247.33 165.39 Z" fill="#fff"/>
<path d="M254.86 72.15 L257.28 72.15 L258.02 72.89 L258.02 75.11 L257.28 75.85 L254.86 75.85 L254.12 75.11 L254.12 72.89 Z" fill="#fff"/>
<path d="M254.86 78.76 L257.28 78.76 L258.02 79.5 L258.02 81.72 L257.28 82.46 L254.86 82.46 L254.12 81.72 L254.12 79.5 Z" fill="#fff"/>
<path d="M254.86 85.36 L257.28 85.36 L258.02 86.1 L258.02 88.32 L257.28 89.06 L254.86 89.06 L254.12 88.32 L254.12 86.1 Z" fill="#fff"/>
<path d="M254.86 151.44 L257.28 151.44 L258.02 152.18 L258.02 154.4 L257.28 155.14 L254.86 155.14 L254.12 154.4 L254.12 152.18 Z" fill="#fff"/>
<path d="M254.86 158.04 L257.28 158.04 L258.02 158.78 L258.02 161 L257.28 161.74 L254.86 161.74 L254.12 161 L254.12 158.78 Z" fill="#fff"/>
<path d="M254.86 164.65 L257.28 164.65 L258.02 165.39 L258.02 167.61 L257.28 168.35 L254.86 168.35 L254.12 167.61 L254.12 165.39 Z" fill="#fff"/>
<path d="M261.65 72.15 L264.07 72.15 L264.81 72.89 L264.81 75.11 L264.07 75.85 L261.65 75.85 L260.91 75.11 L260.91 72.89 Z" fill="#fff"/>
<path d="M261.65 78.76 L264.07 78.76 L264.81 79.5 L264.81 81.72 L264.07 82.46 L261.65 82.46 L260.91 81.72 L260.91 79.5 Z" fill="#fff"/>
<path d="M261.65 85.36 L264.07 85.36 L264.81 86.1 L264.81 88.32 L264.07 89.06 L261.65 89.06 L260.91 88.32 L260.91 86.1 Z" fill="#fff"/>
<path d="M261.65 151.44 L264.07 151.44 L264.81 152.18 L264.81 154.4 L264.07 155.14 L261.65 155.14 L260.91 154.4 L260.91 152.18 Z" fill="#fff"/>
<path d="M261.65 158.04 L264.07 158.04 L264.81 158.78 L264.81 161 L264.07 161.74 L261.65 161.74 L260.91 161 L260.91 158.78 Z" fill="#fff"/>
<path d="M261.65 164.65 L264.07 164.65 L264.81 165.39 L264.81 167.61 L264.07 168.35 L261.65 168.35 L260.91 167.61 L260.91 165.39 Z" fill="#fff"/>
<path d="M268.45 72.15 L270.87 72.15 L271.61 72.89 L271.61 75.11 L270.87 75.85 L268.45 75.85 L267.71 75.11 L267.71 72.89 Z" fill="#fff"/>
<path d="M268.45 78.76 L270.87 78.76 L271.61 79.5 L271.61 81.72 L270.87 82.46 L268.45 82.46 L267.71 81.72 L267.71 79.5 Z" fill="#fff"/>
<path d="M268.45 85.36 L270.87 85.36 L271.61 86.1 L271.61 88.32 L270.87 89.06 L268.45 89.06 L267.71 88.32 L267.71 86.1 Z" fill="#fff"/>
<path d="M268.45 151.44 L270.87 151.44 L271.61 152.18 L271.61 154.4 L270.87 155.14 L268.45 155.14 L267.71 154.4 L267.71 152.18 Z" fill="#fff"/>
<path d="M268.45 158.04 L270.87 158.04 L271.61 158.78 L271.61 161 L270.87 161.74 L268.45 161.74 L267.71 161 L267.71 158.78 Z" fill="#fff"/>
<path d="M268.45 164.65 L270.87 164.65 L271.61 165.39 L271.61 167.61 L270.87 168.35 L268.45 168.35 L267.71 167.61 L267.71 165.39 Z" fill="#fff"/>
<path d="M275.24 72.15 L277.66 72.15 L278.4 72.89 L278.4 75.11 L277.66 75.85 L275.24 75.85 L274.5 75.11 L274.5 72.89 Z" fill="#fff"/>
<path d="M275.24 78.76 L277.66 78.76 L278.4 79.5 L278.4 81.72 L277.66 82.46 L275.24 82.46 L274.5 81.72 L274.5 79.5 Z" fill="#fff"/>
<path d="M275.24 85.36 L277.66 85.36 L278.4 86.1 L278.4 88.32 L277.66 89.06 L275.24 89.06 L274.5 88.32 L274.5 86.1 Z" fill="#fff"/>
<path d="M275.24 151.44 L277.66 151.44 L278.4 152.18 L278.4 154.4 L277.66 155.14 L275.24 155.14 L274.5 154.4 L274.5 152.18 Z" fill="#fff"/>
<path d="M275.24 158.04 L277.66 158.04 L278.4 158.78 L278.4 161 L277.66 161.74 L275.24 161.74 L274.5 161 L274.5 158.78 Z" fill="#fff"/>
<path d="M275.24 164.65 L277.66 164.65 L278.4 165.39 L278.4 167.61 L277.66 168.35 L275.24 168.35 L274.5 167.61 L274.5 165.39 Z" fill="#fff"/>
<path d="M282.03 72.15 L284.45 72.15 L285.19 72.89 L285.19 75.11 L284.45 75.85 L282.03 75.85 L281.29 75.11 L281.29 72.89 Z" fill="#fff"/>
<path d="M282.03 78.76 L284.45 78.76 L285.19 79.5 L285.19 81.72 L284.45 82.46 L282.03 82.46 L281.29 81.72 L281.29 79.5 Z" fill="#fff"/>
<path d="M282.03 85.36 L284.45 85.36 L285.19 86.1 L285.19 88.32 L284.45 89.06 L282.03 89.06 L281.29 88.32 L281.29 86.1 Z" fill="#fff"/>
<path d="M282.03 151.44 L284.45 151.44 L285.19 152.18 L285.19 154.4 L284.45 155.14 L282.03 155.14 L281.29 154.4 L281.29 152.18 Z" fill="#fff"/>
<path d="M282.03 158.04 L284.45 158.04 L285.19 158.78 L285.19 161 L284.45 161.74 L282.03 161.74 L281.29 161 L281.29 158.78 Z" fill="#fff"/>
<path d="M282.03 164.65 L284.45 164.65 L285.19 165.39 L285.19 167.61 L284.45 168.35 L282.03 168.35 L281.29 167.61 L281.29 165.39 Z" fill="#fff"/>
<path d="M288.83 72.15 L291.25 72.15 L291.99 72.89 L291.99 75.11 L291.25 75.85 L288.83 75.85 L288.09 75.11 L288.09 72.89 Z" fill="#fff"/>
<path d="M288.83 78.76 L291.25 78.76 L291.99 79.5 L291.99 81.72 L291.25 82.46 L288.83 82.46 L288.09 81.72 L288.09 79.5 Z" fill="#fff"/>
<path d="M288.83 85.36 L291.25 85.36 L291.99 86.1 L291.99 88.32 L291.25 89.06 L288.83 89.06 L288.09 88.32 L288.09 86.1 Z" fill="#fff"/>
<path d="M288.83 151.44 L291.25 151.44 L291.99 152.18 L291.99 154.4 L291.25 155.14 L288.83 155.14 L288.09 154.4 L288.09 152.18 Z" fill="#fff"/>
<path d="M288.83 158.04 L291.25 158.04 L291.99 158.78 L291.99 161 L291.25 161.74 L288.83 161.74 L288.09 161 L288.09 158.78 Z" fill="#fff"/>
<path d="M288.83 164.65 L291.25 164.65 L291.99 165.39 L291.99 167.61 L291.25 168.35 L288.83 168.35 L288.09 167.61 L288.09 165.39 Z" fill="#fff"/>
<path d="M295.62 72.15 L298.04 72.15 L298.78 72.89 L298.78 75.11 L298.04 75.85 L295.62 75.85 L294.88 75.11 L294.88 72.89 Z" fill="#fff"/>
<path d="M295.62 78.76 L298.04 78.76 L298.78 79.5 L298.78 81.72 L298.04 82.46 L295.62 82.46 L294.88 81.72 L294.88 79.5 Z" fill="#fff"/>
<path d="M295.62 85.36 L298.04 85.36 L298.78 86.1 L298.78 88.32 L298.04 89.06 L295.62 89.06 L294.88 88.32 L294.88 86.1 Z" fill="#fff"/>
<path d="M295.62 151.44 L298.04 151.44 L298.78 152.18 L298.78 154.4 L298.04 155.14 L295.62 155.14 L294.88 154.4 L294.88 152.18 Z" fill="#fff"/>
<path d="M295.62 158.04 L298.04 158.04 L298.78 158.78 L298.78 161 L298.04 161.74 L295.62 161.74 L294.88 161 L294.88 158.78 Z" fill="#fff"/>
<path d="M295.62 164.65 L298.04 164.65 L298.78 165.39 L298.78 167.61 L298.04 168.35 L295.62 168.35 L294.88 167.61 L294.88 165.39 Z" fill="#fff"/>
<path d="M302.41 72.15 L304.83 72.15 L305.57 72.89 L305.57 75.11 L304.83 75.85 L302.41 75.85 L301.67 75.11 L301.67 72.89 Z" fill="#fff"/>
<path d="M302.41 78.76 L304.83 78.76 L305.57 79.5 L305.57 81.72 L304.83 82.46 L302.41 82.46 L301.67 81.72 L301.67 79.5 Z" fill="#fff"/>
<path d="M302.41 85.36 L304.83 85.36 L305.57 86.1 L305.57 88.32 L304.83 89.06 L302.41 89.06 L301.67 88.32 L301.67 86.1 Z" fill="#fff"/>
<path d="M302.41 151.44 L304.83 151.44 L305.57 152.18 L305.57 154.4 L304.83 155.14 L302.41 155.14 L301.67 154.4 L301.67 152.18 Z" fill="#fff"/>
<path d="M302.41 158.04 L304.83 158.04 L305.57 158.78 L305.57 161 L304.83 161.74 L302.41 161.74 L301.67 161 L301.67 158.78 Z" fill="#fff"/>
<path d="M302.41 164.65 L304.83 164.65 L305.57 165.39 L305.57 167.61 L304.83 168.35 L302.41 168.35 L301.67 167.61 L301.67 165.39 Z" fill="#fff"/>
<path d="M309.2 72.15 L311.62 72.15 L312.36 72.89 L312.36 75.11 L311.62 75.85 L309.2 75.85 L308.46 75.11 L308.46 72.89 Z" fill="#fff"/>
<path d="M309.2 78.76 L311.62 78.76 L312.36 79.5 L312.36 81.72 L311.62 82.46 L309.2 82.46 L308.46 81.72 L308.46 79.5 Z" fill="#fff"/>
<path d="M309.2 85.36 L311.62 85.36 L312.36 86.1 L312.36 88.32 L311.62 89.06 L309.2 89.06 L308.46 88.32 L308.46 86.1 Z" fill="#fff"/>
<path d="M309.2 91.97 L311.62 91.97 L312.36 92.71 L312.36 94.93 L311.62 95.67 L309.2 95.67 L308.46 94.93 L308.46 92.71 Z" fill="#fff"/>
<path d="M309.2 98.58 L311.62 98.58 L312.36 99.32 L312.36 101.54 L311.62 102.28 L309.2 102.28 L308.46 101.54 L308.46 99.32 Z" fill="#fff"/>
<path d="M309.2 105.19 L311.62 105.19 L312.36 105.93 L312.36 108.15 L311.62 108.89 L309.2 108.89 L308.46 108.15 L308.46 105.93 Z" fill="#fff"/>
<path d="M309.2 111.79 L311.62 111.79 L312.36 112.53 L312.36 114.75 L311.62 115.49 L309.2 115.49 L308.46 114.75 L308.46 112.53 Z" fill="#fff"/>
<path d="M309.2 118.4 L311.62 118.4 L312.36 119.14 L312.36 121.36 L311.62 122.1 L309.2 122.1 L308.46 121.36 L308.46 119.14 Z" fill="#fff"/>
<path d="M309.2 125.01 L311.62 125.01 L312.36 125.75 L312.36 127.97 L311.62 128.71 L309.2 128.71 L308.46 127.97 L308.46 125.75 Z" fill="#fff"/>
<path d="M309.2 131.61 L311.62 131.61 L312.36 132.35 L312.36 134.57 L311.62 135.31 L309.2 135.31 L308.46 134.57 L308.46 132.35 Z" fill="#fff"/>
<path d="M309.2 138.22 L311.62 138.22 L312.36 138.96 L312.36 141.18 L311.62 141.92 L309.2 141.92 L308.46 141.18 L308.46 138.96 Z" fill="#fff"/>
<path d="M309.2 144.83 L311.62 144.83 L312.36 145.57 L312.36 147.79 L311.62 148.53 L309.2 148.53 L308.46 147.79 L308.46 145.57 Z" fill="#fff"/>
<path d="M309.2 151.44 L311.62 151.44 L312.36 152.18 L312.36 154.4 L311.62 155.14 L309.2 155.14 L308.46 154.4 L308.46 152.18 Z" fill="#fff"/>
<path d="M309.2 158.04 L311.62 158.04 L312.36 158.78 L312.36 161 L311.62 161.74 L309.2 161.74 L308.46 161 L308.46 158.78 Z" fill="#fff"/>
<path d="M309.2 164.65 L311.62 164.65 L312.36 165.39 L312.36 167.61 L311.62 168.35 L309.2 168.35 L308.46 167.61 L308.46 165.39 Z" fill="#fff"/>
<path d="M316 72.15 L318.42 72.15 L319.16 72.89 L319.16 75.11 L318.42 75.85 L316 75.85 L315.26 75.11 L315.26 72.89 Z" fill="#fff"/>
<path d="M316 78.76 L318.42 78.76 L319.16 79.5 L319.16 81.72 L318.42 82.46 L316 82.46 L315.26 81.72 L315.26 79.5 Z" fill="#fff"/>
<path d="M316 85.36 L318.42 85.36 L319.16 86.1 L319.16 88.32 L318.42 89.06 L316 89.06 L315.26 88.32 L315.26 86.1 Z" fill="#fff"/>
<path d="M316 91.97 L318.42 91.97 L319.16 92.71 L319.16 94.93 L318.42 95.67 L316 95.67 L315.26 94.93 L315.26 92.71 Z" fill="#fff"/>
<path d="M316 98.58 L318.42 98.58 L319.16 99.32 L319.16 101.54 L318.42 102.28 L316 102.28 L315.26 101.54 L315.26 99.32 Z" fill="#fff"/>
<path d="M316 105.19 L318.42 105.19 L319.16 105.93 L319.16 108.15 L318.42 108.89 L316 108.89 L315.26 108.15 L315.26 105.93 Z" fill="#fff"/>
<path d="M316 111.79 L318.42 111.79 L319.16 112.53 L319.16 114.75 L318.42 115.49 L316 115.49 L315.26 114.75 L315.26 112.53 Z" fill="#fff"/>
<path d="M316 118.4 L318.42 118.4 L319.16 119.14 L319.16 121.36 L318.42 122.1 L316 122.1 L315.26 121.36 L315.26 119.14 Z" fill="#fff"/>
<path d="M316 125.01 L318.42 125.01 L319.16 125.75 L319.16 127.97 L318.42 128.71 L316 128.71 L315.26 127.97 L315.26 125.75 Z" fill="#fff"/>
<path d="M316 131.61 L318.42 131.61 L319.16 132.35 L319.16 134.57 L318.42 135.31 L316 135.31 L315.26 134.57 L315.26 132.35 Z" fill="#fff"/>
<path d="M316 138.22 L318.42 138.22 L319.16 138.96 L319.16 141.18 L318.42 141.92 L316 141.92 L315.26 141.18 L315.26 138.96 Z" fill="#fff"/>
<path d="M316 144.83 L318.42 144.83 L319.16 145.57 L319.16 147.79 L318.42 148.53 L316 148.53 L315.26 147.79 L315.26 145.57 Z" fill="#fff"/>
<path d="M316 151.44 L318.42 151.44 L319.16 152.18 L319.16 154.4 L318.42 155.14 L316 155.14 L315.26 154.4 L315.26 152.18 Z" fill="#fff"/>
<path d="M316 158.04 L318.42 158.04 L319.16 158.78 L319.16 161 L318.42 161.74 L316 161.74 L315.26 161 L315.26 158.78 Z" fill="#fff"/>
<path d="M316 164.65 L318.42 164.65 L319.16 165.39 L319.16 167.61 L318.42 168.35 L316 168.35 L315.26 167.61 L315.26 165.39 Z" fill="#fff"/>
<path d="M322.79 72.15 L325.21 72.15 L325.95 72.89 L325.95 75.11 L325.21 75.85 L322.79 75.85 L322.05 75.11 L322.05 72.89 Z" fill="#fff"/>
<path d="M322.79 78.76 L325.21 78.76 L325.95 79.5 L325.95 81.72 L325.21 82.46 L322.79 82.46 L322.05 81.72 L322.05 79.5 Z" fill="#fff"/>
<path d="M322.79 85.36 L325.21 85.36 L325.95 86.1 L325.95 88.32 L325.21 89.06 L322.79 89.06 L322.05 88.32 L322.05 86.1 Z" fill="#fff"/>
<path d="M322.79 91.97 L325.21 91.97 L325.95 92.71 L325.95 94.93 L325.21 95.67 L322.79 95.67 L322.05 94.93 L322.05 92.71 Z" fill="#fff"/>
<path d="M322.79 98.58 L325.21 98.58 L325.95 99.32 L325.95 101.54 L325.21 102.28 L322.79 102.28 L322.05 101.54 L322.05 99.32 Z" fill="#fff"/>
<path d="M322.79 105.19 L325.21 105.19 L325.95 105.93 L325.95 108.15 L325.21 108.89 L322.79 108.89 L322.05 108.15 L322.05 105.93 Z" fill="#fff"/>
<path d="M322.79 111.79 L325.21 111.79 L325.95 112.53 L325.95 114.75 L325.21 115.49 L322.79 115.49 L322.05 114.75 L322.05 112.53 Z" fill="#fff"/>
<path d="M322.79 118.4 L325.21 118.4 L325.95 119.14 L325.95 121.36 L325.21 122.1 L322.79 122.1 L322.05 121.36 L322.05 119.14 Z" fill="#fff"/>
<path d="M322.79 125.01 L325.21 125.01 L325.95 125.75 L325.95 127.97 L325.21 128.71 L322.79 128.71 L322.05 127.97 L322.05 125.75 Z" fill="#fff"/>
<path d="M322.79 131.61 L325.21 131.61 L325.95 132.35 L325.95 134.57 L325.21 135.31 L322.79 135.31 L322.05 134.57 L322.05 132.35 Z" fill="#fff"/>
<path d="M322.79 138.22 L325.21 138.22 L325.95 138.96 L325.95 141.18 L325.21 141.92 L322.79 141.92 L322.05 141.18 L322.05 138.96 Z" fill="#fff"/>
<path d="M322.79 144.83 L325.21 144.83 L325.95 145.57 L325.95 147.79 L325.21 148.53 L322.79 148.53 L322.05 147.79 L322.05 145.57 Z" fill="#fff"/>
<path d="M322.79 151.44 L325.21 151.44 L325.95 152.18 L325.95 154.4 L325.21 155.14 L322.79 155.14 L322.05 154.4 L322.05 152.18 Z" fill="#fff"/>
<path d="M322.79 158.04 L325.21 158.04 L325.95 158.78 L325.95 161 L325.21 161.74 L322.79 161.74 L322.05 161 L322.05 158.78 Z" fill="#fff"/>
<path d="M322.79 164.65 L325.21 164.65 L325.95 165.39 L325.95 167.61 L325.21 168.35 L322.79 168.35 L322.05 167.61 L322.05 165.39 Z" fill="#fff"/>
<rect x="250.8" y="94" width="52.4" height="53.8" fill="#fff" />
<rect x="261" y="111" width="32.2" height="18.9" rx="2.5" fill="#000"/>
<rect x="263" y="113.8" width="28" height="13.5" rx="0.8" fill="#fff"/>
<path d="M5.5 2.5 V1.5 L4.5 0.5 H1.5 L0.5 1.5 V8.5 L1.5 9.5 H4.5 L5.5 8.5 V7.5" transform="translate(264 118) scale(1)" fill="none" stroke="#000" stroke-width="1" stroke-linecap="butt" stroke-linejoin="miter"/>
<path d="M0.5 10 V0.5 H3.5 L4.5 1.5 V4.5 L3.5 5.5 H0.5" transform="translate(274 118) scale(1)" fill="none" stroke="#000" stroke-width="1" stroke-linecap="butt" stroke-linejoin="miter"/>
<path d="M0.5 0 V8 L1.8 9.5 H4.2 L5.5 8 V0" transform="translate(283 118) scale(1)" fill="none" stroke="#000" stroke-width="1" stroke-linecap="butt" stroke-linejoin="miter"/>
<circle cx="254.7" cy="142.5" r="2.4" fill="#000"/>
<rect x="214.2" y="79" width="6" height="20.8" fill="#000" />
<rect x="215.2" y="87" width="4" height="1" fill="#fff" />
<rect x="215.2" y="93" width="4" height="1" fill="#fff" />
<rect x="215.2" y="98" width="4" height="1" fill="#fff" />
<path d="M208.9 71.2 L211.2 71.2 L220.2 79.4 L220.2 81 L214.6 81 L209.5 75.8 Z" fill="#000"/>
<rect x="177.1" y="56" width="33.8" height="18.6" rx="2.2" fill="#000"/>
<rect x="178.9" y="58" width="30.2" height="13.8" rx="0.8" fill="#fff"/>
<path d="M3.5 0 V8.5 L2.5 9.5 H1.5 L0.5 8.5 V7" transform="translate(182 59) scale(1)" fill="none" stroke="#000" stroke-width="1" stroke-linecap="butt" stroke-linejoin="miter"/>
<path d="M0.5 10 V0.5 H3.5 L4.5 1.5 V4.5 L3.5 5.5 H0.5" transform="translate(190 59) scale(1)" fill="none" stroke="#000" stroke-width="1" stroke-linecap="butt" stroke-linejoin="miter"/>
<path d="M0.5 2 V1.5 L1.5 0.5 H3.5 L4.5 1.5 V3.5 L0.5 8.5 V9.5 H5" transform="translate(198 59) scale(1)" fill="none" stroke="#000" stroke-width="1" stroke-linecap="butt" stroke-linejoin="miter"/>
<path d="M208.3 74.6 L209.4 74.6 L211.2 76.4 L210.4 76.9 Z" fill="#fff"/>
<rect x="225.1" y="39" width="6.7" height="18.8" fill="#000" />
<rect x="226.1" y="40" width="4.7" height="1" fill="#fff" />
<rect x="226.1" y="45" width="4.7" height="1" fill="#fff" />
<rect x="226.1" y="51" width="4.7" height="1" fill="#fff" />
<path d="M238.3 32.8 L231.6 39.2 L231.8 43.8 L233.2 43.8 L243.5 36.3 L243.5 33.5 Z" fill="#000"/>
<rect x="238.3" y="17.8" width="34.6" height="18.5" rx="2.2" fill="#000"/>
<rect x="241.1" y="20.1" width="29" height="13.9" rx="0.8" fill="#fff"/>
<path d="M3.5 0 V8.5 L2.5 9.5 H1.5 L0.5 8.5 V7" transform="translate(244 21) scale(1)" fill="none" stroke="#000" stroke-width="1" stroke-linecap="butt" stroke-linejoin="miter"/>
<path d="M0.5 10 V0.5 H3.5 L4.5 1.5 V4.5 L3.5 5.5 H0.5" transform="translate(252 21) scale(1)" fill="none" stroke="#000" stroke-width="1" stroke-linecap="butt" stroke-linejoin="miter"/>
<path d="M0.5 2 V1.5 L1.5 0.5 H3.5 L4.5 1.5 V3.5 L3.5 4.5 H2 M3.5 4.5 L4.5 5.5 V8.5 L3.5 9.5 H1.5 L0.5 8.5 V8" transform="translate(259 21) scale(1)" fill="none" stroke="#000" stroke-width="1" stroke-linecap="butt" stroke-linejoin="miter"/>
<path d="M240.2 33.5 L242.5 33.5 L242.5 34.2 L234.6 41.3 L233.6 40.3 L240.2 34.5 Z" fill="#fff"/>
<rect x="234" y="44.1" width="6.8" height="13.7" fill="#000" />
<rect x="235" y="45" width="5" height="0.9" fill="#fff" />
<rect x="235" y="51" width="4.5" height="0.9" fill="#fff" />
<rect x="235" y="56" width="5" height="0.9" fill="#fff" />
<rect x="239.4" y="45" width="0.6" height="11.9" fill="#fff" />
<path d="M256.4 48 L253.3 48 L253.3 49 L248.54 49 L248.54 50 L244.45 50 L244.45 50.9 L240.8 50.9 L240.8 52.4 L244.89 52.4 L244.89 53 L252.4 53 L252.4 55 L256.4 55 Z" fill="#000"/>
<rect x="255.4" y="43.2" width="34.1" height="18.5" rx="2.2" fill="#000"/>
<rect x="257.7" y="45.5" width="29.5" height="13.4" rx="0.8" fill="#fff"/>
<path d="M3.5 0 V8.5 L2.5 9.5 H1.5 L0.5 8.5 V7" transform="translate(260 46) scale(1)" fill="none" stroke="#000" stroke-width="1" stroke-linecap="butt" stroke-linejoin="miter"/>
<path d="M0.5 10 V0.5 H3.5 L4.5 1.5 V4.5 L3.5 5.5 H0.5" transform="translate(269 46) scale(1)" fill="none" stroke="#000" stroke-width="1" stroke-linecap="butt" stroke-linejoin="miter"/>
<path d="M3.5 10 V0.5 L0.5 7 V7.5 H5" transform="translate(276 46) scale(1)" fill="none" stroke="#000" stroke-width="1" stroke-linecap="butt" stroke-linejoin="miter"/>
<path d="M258 50 L254.2 50 L254.2 51 L248.54 51 L248.54 52 L254.2 52 L254.2 53 L258 53 Z" fill="#fff"/>
<rect x="321.2" y="10" width="87.6" height="42.7" fill="#000" />
<rect x="323.2" y="12" width="4" height="1" fill="#fff" />
<rect x="329.3" y="12" width="4" height="1" fill="#fff" />
<rect x="335.4" y="12" width="4" height="1" fill="#fff" />
<rect x="341.5" y="12" width="4" height="1" fill="#fff" />
<rect x="347.6" y="12" width="4" height="1" fill="#fff" />
<rect x="353.7" y="12" width="4" height="1" fill="#fff" />
<rect x="359.8" y="12" width="4" height="1" fill="#fff" />
<rect x="365.9" y="12" width="4" height="1" fill="#fff" />
<rect x="372" y="12" width="4" height="1" fill="#fff" />
<rect x="378.1" y="12" width="4" height="1" fill="#fff" />
<rect x="384.2" y="12" width="4" height="1" fill="#fff" />
<rect x="390.3" y="12" width="4" height="1" fill="#fff" />
<rect x="396.4" y="12" width="4" height="1" fill="#fff" />
<rect x="402.5" y="12" width="4" height="1" fill="#fff" />
<rect x="345" y="23.8" width="40" height="15.1" fill="#fff"  rx="1.5"/>
<path d="M0.5 0.5 H3.5 L4.5 1.5 V3.5 L3.5 4.5 H0.5 M3.5 4.5 L4.5 5.5 V8.5 L3.5 9.5 H0.5 V0.5" transform="translate(351 27) scale(1)" fill="none" stroke="#000" stroke-width="1" stroke-linecap="butt" stroke-linejoin="miter"/>
<path d="M0.5 0 V10" transform="translate(359 27) scale(1)" fill="none" stroke="#000" stroke-width="1" stroke-linecap="butt" stroke-linejoin="miter"/>
<path d="M2 0.5 H5 L6.5 2 V8 L5 9.5 H2 L0.5 8 V2 Z" transform="translate(363 27) scale(1)" fill="none" stroke="#000" stroke-width="1" stroke-linecap="butt" stroke-linejoin="miter"/>
<path d="M5.5 2.5 V1.5 L4.5 0.5 H1.5 L0.5 1.5 V3.5 L1.5 4.5 H4.5 L5.5 5.5 V8.5 L4.5 9.5 H1.5 L0.5 8.5 V7.5" transform="translate(372 27) scale(1)" fill="none" stroke="#000" stroke-width="1" stroke-linecap="butt" stroke-linejoin="miter"/>
<rect x="406.6" y="12" width="1" height="4.4" fill="#fff" />
<rect x="453.4" y="8.9" width="126.3" height="42.8" fill="#000" />
<rect x="455.4" y="11" width="4" height="1" fill="#fff" />
<rect x="461.5" y="11" width="4" height="1" fill="#fff" />
<rect x="467.6" y="11" width="4" height="1" fill="#fff" />
<rect x="473.7" y="11" width="4" height="1" fill="#fff" />
<rect x="479.8" y="11" width="4" height="1" fill="#fff" />
<rect x="485.9" y="11" width="4" height="1" fill="#fff" />
<rect x="492" y="11" width="4" height="1" fill="#fff" />
<rect x="498.1" y="11" width="4" height="1" fill="#fff" />
<rect x="504.2" y="11" width="4" height="1" fill="#fff" />
<rect x="510.3" y="11" width="4" height="1" fill="#fff" />
<rect x="516.4" y="11" width="4" height="1" fill="#fff" />
<rect x="522.5" y="11" width="4" height="1" fill="#fff" />
<rect x="528.6" y="11" width="4" height="1" fill="#fff" />
<rect x="534.7" y="11" width="4" height="1" fill="#fff" />
<rect x="540.8" y="11" width="4" height="1" fill="#fff" />
<rect x="546.9" y="11" width="4" height="1" fill="#fff" />
<rect x="553" y="11" width="4" height="1" fill="#fff" />
<rect x="559.1" y="11" width="4" height="1" fill="#fff" />
<rect x="565.2" y="11" width="4" height="1" fill="#fff" />
<rect x="571.3" y="11" width="4" height="1" fill="#fff" />
<rect x="503" y="22.8" width="28" height="14.9" fill="#fff"  rx="1.5"/>
<path d="M0.5 0 V10 M5.5 0.3 L0.5 6.2 M2.3 4.2 L5.7 10" transform="translate(504 25) scale(1)" fill="none" stroke="#000" stroke-width="1" stroke-linecap="butt" stroke-linejoin="miter"/>
<path d="M0.5 0.5 H3.5 L4.5 1.5 V3.5 L3.5 4.5 H0.5 M3.5 4.5 L4.5 5.5 V8.5 L3.5 9.5 H0.5 V0.5" transform="translate(513 25) scale(1)" fill="none" stroke="#000" stroke-width="1" stroke-linecap="butt" stroke-linejoin="miter"/>
<path d="M0.5 0.5 H3 L4.5 2 V8 L3 9.5 H0.5 Z" transform="translate(522 25) scale(1)" fill="none" stroke="#000" stroke-width="1" stroke-linecap="butt" stroke-linejoin="miter"/>
<rect x="583" y="9" width="202" height="20" fill="#000" />
<rect x="591" y="16" width="186" height="6" fill="#fff" />
<rect x="583" y="54" width="202" height="19" fill="#000" />
<rect x="591" y="61" width="186" height="5" fill="#fff" />
<rect x="583" y="98" width="202" height="20" fill="#000" />
<rect x="591" y="105" width="186" height="6" fill="#fff" />
<rect x="583" y="141" width="202" height="20" fill="#000" />
<rect x="591" y="148" width="186" height="6" fill="#fff" />
<rect x="583" y="185" width="202" height="20" fill="#000" />
<rect x="591" y="192" width="186" height="6" fill="#fff" />
<rect x="583" y="229" width="202" height="20" fill="#000" />
<rect x="591" y="236" width="186" height="6" fill="#fff" />
<rect x="583" y="274" width="202" height="20" fill="#000" />
<rect x="591" y="281" width="186" height="6" fill="#fff" />
<rect x="583" y="318" width="202" height="20" fill="#000" />
<rect x="591" y="325" width="186" height="6" fill="#fff" />
<rect x="445" y="54" width="128" height="19" fill="#000" />
<rect x="452" y="61" width="113" height="5" fill="#fff" />
<rect x="445" y="98" width="128" height="20" fill="#000" />
<rect x="452" y="105" width="113" height="6" fill="#fff" />
<rect x="445" y="141" width="128" height="20" fill="#000" />
<rect x="452" y="148" width="113" height="6" fill="#fff" />
<rect x="445" y="185" width="128" height="20" fill="#000" />
<rect x="452" y="192" width="113" height="6" fill="#fff" />
<rect x="445" y="229" width="128" height="20" fill="#000" />
<rect x="452" y="236" width="113" height="6" fill="#fff" />
<rect x="445" y="274" width="128" height="20" fill="#000" />
<rect x="452" y="281" width="113" height="6" fill="#fff" />
<rect x="445" y="318" width="128" height="20" fill="#000" />
<rect x="452" y="325" width="113" height="6" fill="#fff" />
<path d="M0.5 10 V0 M6.5 10 V0 M0.5 0.5 L3.5 7 L6.5 0.5" transform="translate(661 34) scale(1 0.9)" fill="none" stroke="#000" stroke-width="1.25" vector-effect="non-scaling-stroke" stroke-linecap="butt" stroke-linejoin="miter"/>
<path d="M0.5 0 V10 M5.5 0 V10 M0.5 4.5 H5.5" transform="translate(671 34) scale(1 0.9)" fill="none" stroke="#000" stroke-width="1" vector-effect="non-scaling-stroke" stroke-linecap="butt" stroke-linejoin="miter"/>
<path d="M0.5 2 V1.5 L1.5 0.5 H3.5 L4.5 1.5 V3.5 L0.5 8.5 V9.5 H5" transform="translate(678 34) scale(1 0.9)" fill="none" stroke="#000" stroke-width="1" vector-effect="non-scaling-stroke" stroke-linecap="butt" stroke-linejoin="miter"/>
<path d="M1.5 0.5 H3.5 L4.5 1.5 V3.5 L3.5 4.5 H1.5 L0.5 3.5 V1.5 Z M1.5 4.5 L0.5 5.5 V8.5 L1.5 9.5 H3.5 L4.5 8.5 V5.5 L3.5 4.5" transform="translate(685 34) scale(1 0.9)" fill="none" stroke="#000" stroke-width="1" vector-effect="non-scaling-stroke" stroke-linecap="butt" stroke-linejoin="miter"/>
<path d="M0.5 2 V1.5 L1.5 0.5 H3.5 L4.5 1.5 V3.5 L3.5 4.5 H2 M3.5 4.5 L4.5 5.5 V8.5 L3.5 9.5 H1.5 L0.5 8.5 V8" transform="translate(692 34) scale(1 0.9)" fill="none" stroke="#000" stroke-width="1" vector-effect="non-scaling-stroke" stroke-linecap="butt" stroke-linejoin="miter"/>
<path d="M0.5 8 V8.5 L1.5 9.5 H3.5 L4.5 8.5 V1.5 L3.5 0.5 H1.5 L0.5 1.5 V4.5 L1.5 5.5 H4.5" transform="translate(699 34) scale(1 0.9)" fill="none" stroke="#000" stroke-width="1" vector-effect="non-scaling-stroke" stroke-linecap="butt" stroke-linejoin="miter"/>
<rect x="778" y="125" width="26" height="7" fill="#000" />
<rect x="779" y="126" width="1" height="4" fill="#fff" />
<rect x="784" y="126" width="1" height="4" fill="#fff" />
<rect x="790" y="126" width="1" height="4" fill="#fff" />
<rect x="795" y="126" width="1" height="4" fill="#fff" />
<rect x="801" y="126" width="1" height="4" fill="#fff" />
<rect x="779" y="129" width="23" height="1" fill="#fff" />
<path d="M763.1 125 L766.2 125 L766.2 126 L770.73 126 L770.73 127 L774.68 127 L774.68 127.9 L778.2 127.9 L778.2 129.4 L774.25 129.4 L774.25 130 L767.1 130 L767.1 132 L763.1 132 Z" fill="#000"/>
<rect x="728.1" y="119.1" width="36" height="18.7" rx="2.2" fill="#000"/>
<rect x="730.95" y="120.9" width="31.05" height="14.05" rx="0.8" fill="#fff"/>
<path d="M3.5 0 V8.5 L2.5 9.5 H1.5 L0.5 8.5 V7" transform="translate(735 122) scale(1)" fill="none" stroke="#000" stroke-width="1" stroke-linecap="butt" stroke-linejoin="miter"/>
<path d="M0.5 10 V0.5 H3.5 L4.5 1.5 V4.5 L3.5 5.5 H0.5" transform="translate(743 122) scale(1)" fill="none" stroke="#000" stroke-width="1" stroke-linecap="butt" stroke-linejoin="miter"/>
<path d="M4.5 0.5 H0.5 V4.5 H3.5 L4.5 5.5 V8.5 L3.5 9.5 H1.5 L0.5 8.5 V8" transform="translate(750 122) scale(1)" fill="none" stroke="#000" stroke-width="1" stroke-linecap="butt" stroke-linejoin="miter"/>
<path d="M761.5 127 L765.3 127 L765.3 128 L770.73 128 L770.73 129 L765.3 129 L765.3 130 L761.5 130 Z" fill="#fff"/>
<rect x="127.4" y="327.9" width="24.6" height="174" fill="#000" />
<path d="M137.2 327.8 L137.9 330.5 L140.7 330.5 L141.4 327.8 Z" fill="#fff"/>
<rect x="129.1" y="330.9" width="5.2" height="2.9" fill="#fff" />
<rect x="145.2" y="330.9" width="5.2" height="2.9" fill="#fff" />
<rect x="129.1" y="336.78" width="5.2" height="2.9" fill="#fff" />
<rect x="145.2" y="336.78" width="5.2" height="2.9" fill="#fff" />
<rect x="129.1" y="342.66" width="5.2" height="2.9" fill="#fff" />
<rect x="145.2" y="342.66" width="5.2" height="2.9" fill="#fff" />
<rect x="129.1" y="348.54" width="5.2" height="2.9" fill="#fff" />
<rect x="145.2" y="348.54" width="5.2" height="2.9" fill="#fff" />
<rect x="129.1" y="354.42" width="5.2" height="2.9" fill="#fff" />
<rect x="145.2" y="354.42" width="5.2" height="2.9" fill="#fff" />
<rect x="129.1" y="360.3" width="5.2" height="2.9" fill="#fff" />
<rect x="145.2" y="360.3" width="5.2" height="2.9" fill="#fff" />
<rect x="129.1" y="366.18" width="5.2" height="2.9" fill="#fff" />
<rect x="145.2" y="366.18" width="5.2" height="2.9" fill="#fff" />
<rect x="129.1" y="372.06" width="5.2" height="2.9" fill="#fff" />
<rect x="145.2" y="372.06" width="5.2" height="2.9" fill="#fff" />
<rect x="137.4" y="335.9" width="5.1" height="33.2" fill="#fff" />
<rect x="137.4" y="375.2" width="5.1" height="0.8" fill="#fff" />
<rect x="132" y="378.8" width="15" height="72.4" fill="#fff"  rx="1"/>
<rect x="128.6" y="380.5" width="1.4" height="3" fill="#fff" />
<rect x="149" y="380.5" width="1.4" height="3" fill="#fff" />
<rect x="128.6" y="386.4" width="1.4" height="3" fill="#fff" />
<rect x="149" y="386.4" width="1.4" height="3" fill="#fff" />
<rect x="128.6" y="392.3" width="1.4" height="3" fill="#fff" />
<rect x="149" y="392.3" width="1.4" height="3" fill="#fff" />
<rect x="128.6" y="398.2" width="1.4" height="3" fill="#fff" />
<rect x="149" y="398.2" width="1.4" height="3" fill="#fff" />
<rect x="128.6" y="404.1" width="1.4" height="3" fill="#fff" />
<rect x="149" y="404.1" width="1.4" height="3" fill="#fff" />
<rect x="128.6" y="410" width="1.4" height="3" fill="#fff" />
<rect x="149" y="410" width="1.4" height="3" fill="#fff" />
<rect x="128.6" y="415.9" width="1.4" height="3" fill="#fff" />
<rect x="149" y="415.9" width="1.4" height="3" fill="#fff" />
<rect x="128.6" y="421.8" width="1.4" height="3" fill="#fff" />
<rect x="149" y="421.8" width="1.4" height="3" fill="#fff" />
<rect x="128.6" y="427.7" width="1.4" height="3" fill="#fff" />
<rect x="149" y="427.7" width="1.4" height="3" fill="#fff" />
<rect x="128.6" y="433.6" width="1.4" height="3" fill="#fff" />
<rect x="149" y="433.6" width="1.4" height="3" fill="#fff" />
<rect x="128.6" y="439.5" width="1.4" height="3" fill="#fff" />
<rect x="149" y="439.5" width="1.4" height="3" fill="#fff" />
<rect x="128.6" y="445.4" width="1.4" height="3" fill="#fff" />
<rect x="149" y="445.4" width="1.4" height="3" fill="#fff" />
<rect x="136.9" y="452.8" width="5.1" height="5.4" fill="#fff" />
<rect x="129.1" y="456.2" width="5.2" height="2.7" fill="#fff" />
<rect x="145.2" y="456.2" width="5.2" height="2.7" fill="#fff" />
<rect x="129.1" y="461.9" width="5.2" height="2.7" fill="#fff" />
<rect x="145.2" y="461.9" width="5.2" height="2.7" fill="#fff" />
<rect x="129.1" y="467.6" width="5.2" height="2.7" fill="#fff" />
<rect x="145.2" y="467.6" width="5.2" height="2.7" fill="#fff" />
<rect x="129.1" y="473.3" width="5.2" height="2.7" fill="#fff" />
<rect x="145.2" y="473.3" width="5.2" height="2.7" fill="#fff" />
<rect x="129.1" y="479" width="5.2" height="2.7" fill="#fff" />
<rect x="145.2" y="479" width="5.2" height="2.7" fill="#fff" />
<rect x="129.1" y="484.7" width="5.2" height="2.7" fill="#fff" />
<rect x="145.2" y="484.7" width="5.2" height="2.7" fill="#fff" />
<rect x="129.1" y="490.4" width="5.2" height="2.7" fill="#fff" />
<rect x="145.2" y="490.4" width="5.2" height="2.7" fill="#fff" />
<rect x="129.1" y="496.1" width="5.2" height="2.7" fill="#fff" />
<rect x="145.2" y="496.1" width="5.2" height="2.7" fill="#fff" />
<rect x="137.4" y="463.6" width="5.1" height="32.9" fill="#fff" />
<path d="M0.5 0.5 H3.5 L4.5 1.5 V3.5 L3.5 4.5 H0.5 M3.5 4.5 L4.5 5.5 V8.5 L3.5 9.5 H0.5 V0.5" transform="translate(136 381) scale(0.9)" fill="none" stroke="#000" stroke-width="1.11" stroke-linecap="butt" stroke-linejoin="miter"/>
<path d="M0 9.5 H1.5 M1 9.5 L3.5 0.3 L6 9.5 M5.5 9.5 H7 M1.8 6.5 H5.2" transform="translate(135 396) scale(0.9)" fill="none" stroke="#000" stroke-width="1.11" stroke-linecap="butt" stroke-linejoin="miter"/>
<path d="M0.5 10 V0 M0.5 0.5 L5.5 9.5 M5.5 10 V0" transform="translate(136 410) scale(0.9)" fill="none" stroke="#000" stroke-width="1.11" stroke-linecap="butt" stroke-linejoin="miter"/>
<path d="M0.5 0 V10 M5.5 0.3 L0.5 6.2 M2.3 4.2 L5.7 10" transform="translate(136 425) scale(0.9)" fill="none" stroke="#000" stroke-width="1.11" stroke-linecap="butt" stroke-linejoin="miter"/>
<path d="M0 2.5 H2 M2.5 1 V10" transform="translate(137 440) scale(0.9)" fill="none" stroke="#000" stroke-width="1.11" stroke-linecap="butt" stroke-linejoin="miter"/>
<rect x="153.1" y="327.9" width="24.6" height="174" fill="#000" />
<path d="M162.9 327.8 L163.6 330.5 L166.4 330.5 L167.1 327.8 Z" fill="#fff"/>
<rect x="155.9" y="330.9" width="5.2" height="2.9" fill="#fff" />
<rect x="170.9" y="330.9" width="5.2" height="2.9" fill="#fff" />
<rect x="155.9" y="336.78" width="5.2" height="2.9" fill="#fff" />
<rect x="170.9" y="336.78" width="5.2" height="2.9" fill="#fff" />
<rect x="155.9" y="342.66" width="5.2" height="2.9" fill="#fff" />
<rect x="170.9" y="342.66" width="5.2" height="2.9" fill="#fff" />
<rect x="155.9" y="348.54" width="5.2" height="2.9" fill="#fff" />
<rect x="170.9" y="348.54" width="5.2" height="2.9" fill="#fff" />
<rect x="155.9" y="354.42" width="5.2" height="2.9" fill="#fff" />
<rect x="170.9" y="354.42" width="5.2" height="2.9" fill="#fff" />
<rect x="155.9" y="360.3" width="5.2" height="2.9" fill="#fff" />
<rect x="170.9" y="360.3" width="5.2" height="2.9" fill="#fff" />
<rect x="155.9" y="366.18" width="5.2" height="2.9" fill="#fff" />
<rect x="170.9" y="366.18" width="5.2" height="2.9" fill="#fff" />
<rect x="155.9" y="372.06" width="5.2" height="2.9" fill="#fff" />
<rect x="170.9" y="372.06" width="5.2" height="2.9" fill="#fff" />
<rect x="163.1" y="335.9" width="5.1" height="33.2" fill="#fff" />
<rect x="163.1" y="375.2" width="5.1" height="0.8" fill="#fff" />
<rect x="157.7" y="378.8" width="15" height="72.4" fill="#fff"  rx="1"/>
<rect x="174.7" y="380.5" width="1.4" height="3" fill="#fff" />
<rect x="174.7" y="386.4" width="1.4" height="3" fill="#fff" />
<rect x="174.7" y="392.3" width="1.4" height="3" fill="#fff" />
<rect x="174.7" y="398.2" width="1.4" height="3" fill="#fff" />
<rect x="174.7" y="404.1" width="1.4" height="3" fill="#fff" />
<rect x="174.7" y="410" width="1.4" height="3" fill="#fff" />
<rect x="174.7" y="415.9" width="1.4" height="3" fill="#fff" />
<rect x="174.7" y="421.8" width="1.4" height="3" fill="#fff" />
<rect x="174.7" y="427.7" width="1.4" height="3" fill="#fff" />
<rect x="174.7" y="433.6" width="1.4" height="3" fill="#fff" />
<rect x="174.7" y="439.5" width="1.4" height="3" fill="#fff" />
<rect x="174.7" y="445.4" width="1.4" height="3" fill="#fff" />
<rect x="162.6" y="452.8" width="5.1" height="5.4" fill="#fff" />
<rect x="155.9" y="456.2" width="5.2" height="2.7" fill="#fff" />
<rect x="170.9" y="456.2" width="5.2" height="2.7" fill="#fff" />
<rect x="155.9" y="461.9" width="5.2" height="2.7" fill="#fff" />
<rect x="170.9" y="461.9" width="5.2" height="2.7" fill="#fff" />
<rect x="155.9" y="467.6" width="5.2" height="2.7" fill="#fff" />
<rect x="170.9" y="467.6" width="5.2" height="2.7" fill="#fff" />
<rect x="155.9" y="473.3" width="5.2" height="2.7" fill="#fff" />
<rect x="170.9" y="473.3" width="5.2" height="2.7" fill="#fff" />
<rect x="155.9" y="479" width="5.2" height="2.7" fill="#fff" />
<rect x="170.9" y="479" width="5.2" height="2.7" fill="#fff" />
<rect x="155.9" y="484.7" width="5.2" height="2.7" fill="#fff" />
<rect x="170.9" y="484.7" width="5.2" height="2.7" fill="#fff" />
<rect x="155.9" y="490.4" width="5.2" height="2.7" fill="#fff" />
<rect x="170.9" y="490.4" width="5.2" height="2.7" fill="#fff" />
<rect x="155.9" y="496.1" width="5.2" height="2.7" fill="#fff" />
<rect x="170.9" y="496.1" width="5.2" height="2.7" fill="#fff" />
<rect x="163.1" y="463.6" width="5.1" height="32.9" fill="#fff" />
<path d="M0.5 0.5 H3.5 L4.5 1.5 V3.5 L3.5 4.5 H0.5 M3.5 4.5 L4.5 5.5 V8.5 L3.5 9.5 H0.5 V0.5" transform="translate(162 381) scale(0.9)" fill="none" stroke="#000" stroke-width="1.11" stroke-linecap="butt" stroke-linejoin="miter"/>
<path d="M0 9.5 H1.5 M1 9.5 L3.5 0.3 L6 9.5 M5.5 9.5 H7 M1.8 6.5 H5.2" transform="translate(161 396) scale(0.9)" fill="none" stroke="#000" stroke-width="1.11" stroke-linecap="butt" stroke-linejoin="miter"/>
<path d="M0.5 10 V0 M0.5 0.5 L5.5 9.5 M5.5 10 V0" transform="translate(161 410) scale(0.9)" fill="none" stroke="#000" stroke-width="1.11" stroke-linecap="butt" stroke-linejoin="miter"/>
<path d="M0.5 0 V10 M5.5 0.3 L0.5 6.2 M2.3 4.2 L5.7 10" transform="translate(161 425) scale(0.9)" fill="none" stroke="#000" stroke-width="1.11" stroke-linecap="butt" stroke-linejoin="miter"/>
<path d="M2.5 0.3 L4.5 3 V7 L2.5 9.7 L0.5 7 V3 Z" transform="translate(162 440) scale(0.9)" fill="none" stroke="#000" stroke-width="1.11" stroke-linecap="butt" stroke-linejoin="miter"/>
<rect x="180" y="327.9" width="24.6" height="174" fill="#000" />
<path d="M189.8 327.8 L190.5 330.5 L193.3 330.5 L194 327.8 Z" fill="#fff"/>
<rect x="182.2" y="330.9" width="5.2" height="2.9" fill="#fff" />
<rect x="197.8" y="330.9" width="5.2" height="2.9" fill="#fff" />
<rect x="182.2" y="336.78" width="5.2" height="2.9" fill="#fff" />
<rect x="197.8" y="336.78" width="5.2" height="2.9" fill="#fff" />
<rect x="182.2" y="342.66" width="5.2" height="2.9" fill="#fff" />
<rect x="197.8" y="342.66" width="5.2" height="2.9" fill="#fff" />
<rect x="182.2" y="348.54" width="5.2" height="2.9" fill="#fff" />
<rect x="197.8" y="348.54" width="5.2" height="2.9" fill="#fff" />
<rect x="182.2" y="354.42" width="5.2" height="2.9" fill="#fff" />
<rect x="197.8" y="354.42" width="5.2" height="2.9" fill="#fff" />
<rect x="182.2" y="360.3" width="5.2" height="2.9" fill="#fff" />
<rect x="197.8" y="360.3" width="5.2" height="2.9" fill="#fff" />
<rect x="182.2" y="366.18" width="5.2" height="2.9" fill="#fff" />
<rect x="197.8" y="366.18" width="5.2" height="2.9" fill="#fff" />
<rect x="182.2" y="372.06" width="5.2" height="2.9" fill="#fff" />
<rect x="197.8" y="372.06" width="5.2" height="2.9" fill="#fff" />
<rect x="190" y="335.9" width="5.1" height="33.2" fill="#fff" />
<rect x="190" y="375.2" width="5.1" height="0.8" fill="#fff" />
<rect x="184.6" y="378.8" width="15" height="72.4" fill="#fff"  rx="1"/>
<rect x="181.2" y="380.5" width="1.4" height="3" fill="#fff" />
<rect x="201.6" y="380.5" width="1.4" height="3" fill="#fff" />
<rect x="181.2" y="386.4" width="1.4" height="3" fill="#fff" />
<rect x="201.6" y="386.4" width="1.4" height="3" fill="#fff" />
<rect x="181.2" y="392.3" width="1.4" height="3" fill="#fff" />
<rect x="201.6" y="392.3" width="1.4" height="3" fill="#fff" />
<rect x="181.2" y="398.2" width="1.4" height="3" fill="#fff" />
<rect x="201.6" y="398.2" width="1.4" height="3" fill="#fff" />
<rect x="181.2" y="404.1" width="1.4" height="3" fill="#fff" />
<rect x="201.6" y="404.1" width="1.4" height="3" fill="#fff" />
<rect x="181.2" y="410" width="1.4" height="3" fill="#fff" />
<rect x="201.6" y="410" width="1.4" height="3" fill="#fff" />
<rect x="181.2" y="415.9" width="1.4" height="3" fill="#fff" />
<rect x="201.6" y="415.9" width="1.4" height="3" fill="#fff" />
<rect x="181.2" y="421.8" width="1.4" height="3" fill="#fff" />
<rect x="201.6" y="421.8" width="1.4" height="3" fill="#fff" />
<rect x="181.2" y="427.7" width="1.4" height="3" fill="#fff" />
<rect x="201.6" y="427.7" width="1.4" height="3" fill="#fff" />
<rect x="181.2" y="433.6" width="1.4" height="3" fill="#fff" />
<rect x="201.6" y="433.6" width="1.4" height="3" fill="#fff" />
<rect x="181.2" y="439.5" width="1.4" height="3" fill="#fff" />
<rect x="201.6" y="439.5" width="1.4" height="3" fill="#fff" />
<rect x="181.2" y="445.4" width="1.4" height="3" fill="#fff" />
<rect x="201.6" y="445.4" width="1.4" height="3" fill="#fff" />
<rect x="189.5" y="452.8" width="5.1" height="5.4" fill="#fff" />
<rect x="182.2" y="456.2" width="5.2" height="2.7" fill="#fff" />
<rect x="197.8" y="456.2" width="5.2" height="2.7" fill="#fff" />
<rect x="182.2" y="461.9" width="5.2" height="2.7" fill="#fff" />
<rect x="197.8" y="461.9" width="5.2" height="2.7" fill="#fff" />
<rect x="182.2" y="467.6" width="5.2" height="2.7" fill="#fff" />
<rect x="197.8" y="467.6" width="5.2" height="2.7" fill="#fff" />
<rect x="182.2" y="473.3" width="5.2" height="2.7" fill="#fff" />
<rect x="197.8" y="473.3" width="5.2" height="2.7" fill="#fff" />
<rect x="182.2" y="479" width="5.2" height="2.7" fill="#fff" />
<rect x="197.8" y="479" width="5.2" height="2.7" fill="#fff" />
<rect x="182.2" y="484.7" width="5.2" height="2.7" fill="#fff" />
<rect x="197.8" y="484.7" width="5.2" height="2.7" fill="#fff" />
<rect x="182.2" y="490.4" width="5.2" height="2.7" fill="#fff" />
<rect x="197.8" y="490.4" width="5.2" height="2.7" fill="#fff" />
<rect x="182.2" y="496.1" width="5.2" height="2.7" fill="#fff" />
<rect x="197.8" y="496.1" width="5.2" height="2.7" fill="#fff" />
<rect x="190" y="463.6" width="5.1" height="32.9" fill="#fff" />
<path d="M0.5 0.5 H3.5 L4.5 1.5 V3.5 L3.5 4.5 H0.5 M3.5 4.5 L4.5 5.5 V8.5 L3.5 9.5 H0.5 V0.5" transform="translate(189 381) scale(0.9)" fill="none" stroke="#000" stroke-width="1.11" stroke-linecap="butt" stroke-linejoin="miter"/>
<path d="M0 9.5 H1.5 M1 9.5 L3.5 0.3 L6 9.5 M5.5 9.5 H7 M1.8 6.5 H5.2" transform="translate(188 396) scale(0.9)" fill="none" stroke="#000" stroke-width="1.11" stroke-linecap="butt" stroke-linejoin="miter"/>
<path d="M0.5 10 V0 M0.5 0.5 L5.5 9.5 M5.5 10 V0" transform="translate(188 410) scale(0.9)" fill="none" stroke="#000" stroke-width="1.11" stroke-linecap="butt" stroke-linejoin="miter"/>
<path d="M0.5 0 V10 M5.5 0.3 L0.5 6.2 M2.3 4.2 L5.7 10" transform="translate(188 425) scale(0.9)" fill="none" stroke="#000" stroke-width="1.11" stroke-linecap="butt" stroke-linejoin="miter"/>
<path d="M0 2.5 H2 M2.5 1 V10" transform="translate(190 440) scale(0.9)" fill="none" stroke="#000" stroke-width="1.11" stroke-linecap="butt" stroke-linejoin="miter"/>
<rect x="207.2" y="327.9" width="24.6" height="174" fill="#000" />
<path d="M217 327.8 L217.7 330.5 L220.5 330.5 L221.2 327.8 Z" fill="#fff"/>
<rect x="209.4" y="330.9" width="5.2" height="2.9" fill="#fff" />
<rect x="225" y="330.9" width="5.2" height="2.9" fill="#fff" />
<rect x="209.4" y="336.78" width="5.2" height="2.9" fill="#fff" />
<rect x="225" y="336.78" width="5.2" height="2.9" fill="#fff" />
<rect x="209.4" y="342.66" width="5.2" height="2.9" fill="#fff" />
<rect x="225" y="342.66" width="5.2" height="2.9" fill="#fff" />
<rect x="209.4" y="348.54" width="5.2" height="2.9" fill="#fff" />
<rect x="225" y="348.54" width="5.2" height="2.9" fill="#fff" />
<rect x="209.4" y="354.42" width="5.2" height="2.9" fill="#fff" />
<rect x="225" y="354.42" width="5.2" height="2.9" fill="#fff" />
<rect x="209.4" y="360.3" width="5.2" height="2.9" fill="#fff" />
<rect x="225" y="360.3" width="5.2" height="2.9" fill="#fff" />
<rect x="209.4" y="366.18" width="5.2" height="2.9" fill="#fff" />
<rect x="225" y="366.18" width="5.2" height="2.9" fill="#fff" />
<rect x="209.4" y="372.06" width="5.2" height="2.9" fill="#fff" />
<rect x="225" y="372.06" width="5.2" height="2.9" fill="#fff" />
<rect x="217.2" y="335.9" width="5.1" height="33.2" fill="#fff" />
<rect x="217.2" y="375.2" width="5.1" height="0.8" fill="#fff" />
<rect x="211.8" y="378.8" width="15" height="72.4" fill="#fff"  rx="1"/>
<rect x="228.8" y="380.5" width="1.4" height="3" fill="#fff" />
<rect x="228.8" y="386.4" width="1.4" height="3" fill="#fff" />
<rect x="228.8" y="392.3" width="1.4" height="3" fill="#fff" />
<rect x="228.8" y="398.2" width="1.4" height="3" fill="#fff" />
<rect x="228.8" y="404.1" width="1.4" height="3" fill="#fff" />
<rect x="228.8" y="410" width="1.4" height="3" fill="#fff" />
<rect x="228.8" y="415.9" width="1.4" height="3" fill="#fff" />
<rect x="228.8" y="421.8" width="1.4" height="3" fill="#fff" />
<rect x="228.8" y="427.7" width="1.4" height="3" fill="#fff" />
<rect x="228.8" y="433.6" width="1.4" height="3" fill="#fff" />
<rect x="228.8" y="439.5" width="1.4" height="3" fill="#fff" />
<rect x="228.8" y="445.4" width="1.4" height="3" fill="#fff" />
<rect x="216.7" y="452.8" width="5.1" height="5.4" fill="#fff" />
<rect x="209.4" y="456.2" width="5.2" height="2.7" fill="#fff" />
<rect x="225" y="456.2" width="5.2" height="2.7" fill="#fff" />
<rect x="209.4" y="461.9" width="5.2" height="2.7" fill="#fff" />
<rect x="225" y="461.9" width="5.2" height="2.7" fill="#fff" />
<rect x="209.4" y="467.6" width="5.2" height="2.7" fill="#fff" />
<rect x="225" y="467.6" width="5.2" height="2.7" fill="#fff" />
<rect x="209.4" y="473.3" width="5.2" height="2.7" fill="#fff" />
<rect x="225" y="473.3" width="5.2" height="2.7" fill="#fff" />
<rect x="209.4" y="479" width="5.2" height="2.7" fill="#fff" />
<rect x="225" y="479" width="5.2" height="2.7" fill="#fff" />
<rect x="209.4" y="484.7" width="5.2" height="2.7" fill="#fff" />
<rect x="225" y="484.7" width="5.2" height="2.7" fill="#fff" />
<rect x="209.4" y="490.4" width="5.2" height="2.7" fill="#fff" />
<rect x="225" y="490.4" width="5.2" height="2.7" fill="#fff" />
<rect x="209.4" y="496.1" width="5.2" height="2.7" fill="#fff" />
<rect x="225" y="496.1" width="5.2" height="2.7" fill="#fff" />
<rect x="217.2" y="463.6" width="5.1" height="32.9" fill="#fff" />
<path d="M0.5 0.5 H3.5 L4.5 1.5 V3.5 L3.5 4.5 H0.5 M3.5 4.5 L4.5 5.5 V8.5 L3.5 9.5 H0.5 V0.5" transform="translate(216 381) scale(0.9)" fill="none" stroke="#000" stroke-width="1.11" stroke-linecap="butt" stroke-linejoin="miter"/>
<path d="M0 9.5 H1.5 M1 9.5 L3.5 0.3 L6 9.5 M5.5 9.5 H7 M1.8 6.5 H5.2" transform="translate(215 396) scale(0.9)" fill="none" stroke="#000" stroke-width="1.11" stroke-linecap="butt" stroke-linejoin="miter"/>
<path d="M0.5 10 V0 M0.5 0.5 L5.5 9.5 M5.5 10 V0" transform="translate(216 410) scale(0.9)" fill="none" stroke="#000" stroke-width="1.11" stroke-linecap="butt" stroke-linejoin="miter"/>
<path d="M0.5 0 V10 M5.5 0.3 L0.5 6.2 M2.3 4.2 L5.7 10" transform="translate(216 425) scale(0.9)" fill="none" stroke="#000" stroke-width="1.11" stroke-linecap="butt" stroke-linejoin="miter"/>
<path d="M2.5 0.3 L4.5 3 V7 L2.5 9.7 L0.5 7 V3 Z" transform="translate(216 440) scale(0.9)" fill="none" stroke="#000" stroke-width="1.11" stroke-linecap="butt" stroke-linejoin="miter"/>
<rect x="125.2" y="411.9" width="3.6" height="5.4" fill="#fff" />
<rect x="150.9" y="411.9" width="3.6" height="5.4" fill="#fff" />
<rect x="177.8" y="411.9" width="3.6" height="5.4" fill="#fff" />
<rect x="205" y="411.9" width="3.6" height="5.4" fill="#fff" />
<rect x="230.4" y="411.9" width="3.1" height="5.4" fill="#fff" />
<rect x="236.3" y="327.9" width="24.8" height="83.8" fill="#000" />
<path d="M245.8 327.8 L248.5 330.8 L251.2 327.8 Z" fill="#fff"/>
<rect x="237.9" y="330.2" width="5.2" height="2.9" fill="#fff" />
<rect x="253.9" y="330.2" width="5.2" height="2.9" fill="#fff" />
<rect x="237.9" y="335.97" width="5.2" height="2.9" fill="#fff" />
<rect x="253.9" y="335.97" width="5.2" height="2.9" fill="#fff" />
<rect x="237.9" y="341.74" width="5.2" height="2.9" fill="#fff" />
<rect x="253.9" y="341.74" width="5.2" height="2.9" fill="#fff" />
<rect x="237.9" y="347.51" width="5.2" height="2.9" fill="#fff" />
<rect x="253.9" y="347.51" width="5.2" height="2.9" fill="#fff" />
<rect x="237.9" y="353.28" width="5.2" height="2.9" fill="#fff" />
<rect x="253.9" y="353.28" width="5.2" height="2.9" fill="#fff" />
<rect x="237.9" y="359.05" width="5.2" height="2.9" fill="#fff" />
<rect x="253.9" y="359.05" width="5.2" height="2.9" fill="#fff" />
<rect x="237.9" y="364.82" width="5.2" height="2.9" fill="#fff" />
<rect x="253.9" y="364.82" width="5.2" height="2.9" fill="#fff" />
<rect x="237.9" y="370.59" width="5.2" height="2.9" fill="#fff" />
<rect x="253.9" y="370.59" width="5.2" height="2.9" fill="#fff" />
<rect x="237.9" y="376.36" width="5.2" height="2.9" fill="#fff" />
<rect x="253.9" y="376.36" width="5.2" height="2.9" fill="#fff" />
<rect x="237.9" y="382.13" width="5.2" height="2.9" fill="#fff" />
<rect x="253.9" y="382.13" width="5.2" height="2.9" fill="#fff" />
<rect x="237.9" y="387.9" width="5.2" height="2.9" fill="#fff" />
<rect x="253.9" y="387.9" width="5.2" height="2.9" fill="#fff" />
<rect x="237.9" y="393.67" width="5.2" height="2.9" fill="#fff" />
<rect x="253.9" y="393.67" width="5.2" height="2.9" fill="#fff" />
<rect x="237.9" y="399.44" width="5.2" height="2.9" fill="#fff" />
<rect x="253.9" y="399.44" width="5.2" height="2.9" fill="#fff" />
<rect x="237.9" y="405.21" width="5.2" height="2.9" fill="#fff" />
<rect x="253.9" y="405.21" width="5.2" height="2.9" fill="#fff" />
<rect x="246.1" y="335" width="4.8" height="72.5" fill="#fff" />
<rect x="232.25" y="361" width="32.75" height="17" rx="2.2" fill="#000"/>
<rect x="234" y="363.25" width="29" height="12.75" rx="0.8" fill="#fff"/>
<path d="M0 0.5 H5 M2.5 0.5 V10" transform="translate(236 364) scale(1)" fill="none" stroke="#000" stroke-width="1" stroke-linecap="butt" stroke-linejoin="miter"/>
<path d="M0 9.5 H1.5 M1 9.5 L3.5 0.3 L6 9.5 M5.5 9.5 H7 M1.8 6.5 H5.2" transform="translate(242 364) scale(1)" fill="none" stroke="#000" stroke-width="1" stroke-linecap="butt" stroke-linejoin="miter"/>
<path d="M5.5 2.5 V1.5 L4.5 0.5 H1.5 L0.5 1.5 V8.5 L1.5 9.5 H5.5 V5.5 H3" transform="translate(252 364) scale(1)" fill="none" stroke="#000" stroke-width="1" stroke-linecap="butt" stroke-linejoin="miter"/>
<path d="M129.5 323.8 L123.6 330.2 L123.6 407.3 L118 413.2 L123.6 420.1 L123.6 501.9 L131.8 506.8" fill="none" stroke="#000" stroke-width="1.1" stroke-linejoin="miter"/>
<rect x="67" y="406" width="51.3" height="17.7" rx="2.2" fill="#000"/>
<rect x="70" y="408" width="45.6" height="13" rx="0.8" fill="#fff"/>
<path d="M5.5 2.5 V1.5 L4.5 0.5 H1.5 L0.5 1.5 V8.5 L1.5 9.5 H4.5 L5.5 8.5 V7.5" transform="translate(71 409) scale(1)" fill="none" stroke="#000" stroke-width="1" stroke-linecap="butt" stroke-linejoin="miter"/>
<path d="M0 9.5 H1.5 M1 9.5 L3.5 0.3 L6 9.5 M5.5 9.5 H7 M1.8 6.5 H5.2" transform="translate(80 409) scale(1)" fill="none" stroke="#000" stroke-width="1" stroke-linecap="butt" stroke-linejoin="miter"/>
<path d="M5.5 2.5 V1.5 L4.5 0.5 H1.5 L0.5 1.5 V8.5 L1.5 9.5 H4.5 L5.5 8.5 V7.5" transform="translate(89 409) scale(1)" fill="none" stroke="#000" stroke-width="1" stroke-linecap="butt" stroke-linejoin="miter"/>
<path d="M0.5 0 V10 M5.5 0 V10 M0.5 4.5 H5.5" transform="translate(99 409) scale(1)" fill="none" stroke="#000" stroke-width="1" stroke-linecap="butt" stroke-linejoin="miter"/>
<path d="M4.5 0.5 H0.5 V9.5 H5 M0.5 4.5 H4" transform="translate(109 409) scale(1)" fill="none" stroke="#000" stroke-width="1" stroke-linecap="butt" stroke-linejoin="miter"/>
<rect x="246.9" y="427.9" width="7.1" height="18.7" fill="#000" />
<rect x="247.9" y="434" width="5.1" height="1" fill="#fff" />
<rect x="247.9" y="440" width="5.1" height="1" fill="#fff" />
<path d="M259.5 426 L262.5 428 L262.5 431 L254 437.5 L254 434 Z" fill="#000"/>
<rect x="260.3" y="413.2" width="34.5" height="17.3" rx="2.2" fill="#000"/>
<rect x="263" y="415.4" width="29.6" height="12.9" rx="0.8" fill="#fff"/>
<path d="M3.5 0 V8.5 L2.5 9.5 H1.5 L0.5 8.5 V7" transform="translate(265 416) scale(1)" fill="none" stroke="#000" stroke-width="1" stroke-linecap="butt" stroke-linejoin="miter"/>
<path d="M0.5 10 V0.5 H3.5 L4.5 1.5 V4.5 L3.5 5.5 H0.5" transform="translate(273 416) scale(1)" fill="none" stroke="#000" stroke-width="1" stroke-linecap="butt" stroke-linejoin="miter"/>
<path d="M0.5 0.5 H4.5 V2 L1.5 10" transform="translate(280 416) scale(1)" fill="none" stroke="#000" stroke-width="1" stroke-linecap="butt" stroke-linejoin="miter"/>
<path d="M259.2 429.2 L260.6 429.6 L255.2 434.8 L254.6 434.4 Z" fill="#fff"/>
<rect x="247.1" y="448.3" width="6.7" height="12.4" fill="#000" />
<rect x="248.3" y="449.5" width="1" height="10" fill="#fff" />
<rect x="249.3" y="454.3" width="3.5" height="1" fill="#fff" />
<path d="M269.4 451 L266.3 451 L266.3 452 L261.49 452 L261.49 453 L257.38 453 L257.38 453.9 L253.7 453.9 L253.7 455.4 L257.82 455.4 L257.82 456 L265.4 456 L265.4 458 L269.4 458 Z" fill="#000"/>
<rect x="268.4" y="445" width="35" height="18.3" rx="2.2" fill="#000"/>
<rect x="271.1" y="447.2" width="30.1" height="13.4" rx="0.8" fill="#fff"/>
<path d="M3.5 0 V8.5 L2.5 9.5 H1.5 L0.5 8.5 V7" transform="translate(274 448) scale(1)" fill="none" stroke="#000" stroke-width="1" stroke-linecap="butt" stroke-linejoin="miter"/>
<path d="M0.5 10 V0.5 H3.5 L4.5 1.5 V4.5 L3.5 5.5 H0.5" transform="translate(282 448) scale(1)" fill="none" stroke="#000" stroke-width="1" stroke-linecap="butt" stroke-linejoin="miter"/>
<path d="M1.5 0.5 H3.5 L4.5 1.5 V3.5 L3.5 4.5 H1.5 L0.5 3.5 V1.5 Z M1.5 4.5 L0.5 5.5 V8.5 L1.5 9.5 H3.5 L4.5 8.5 V5.5 L3.5 4.5" transform="translate(290 448) scale(1)" fill="none" stroke="#000" stroke-width="1" stroke-linecap="butt" stroke-linejoin="miter"/>
<path d="M271 453 L267.2 453 L267.2 454 L261.49 454 L261.49 455 L267.2 455 L267.2 456 L271 456 Z" fill="#fff"/>
<rect x="253" y="469" width="7.1" height="13.9" fill="#000" />
<rect x="254" y="470.1" width="5.1" height="0.8" fill="#fff" />
<rect x="254" y="475.1" width="5.1" height="0.8" fill="#fff" />
<rect x="254" y="481.2" width="5.1" height="0.8" fill="#fff" />
<rect x="260.8" y="469" width="7.1" height="13.9" fill="#000" />
<rect x="261.8" y="470.1" width="5.1" height="0.8" fill="#fff" />
<rect x="261.8" y="475.1" width="5.1" height="0.8" fill="#fff" />
<rect x="261.8" y="481.2" width="5.1" height="0.8" fill="#fff" />
<rect x="269" y="469" width="5.9" height="13.9" fill="#000" />
<rect x="270" y="470.1" width="3.9" height="0.8" fill="#fff" />
<rect x="270" y="475.1" width="3.9" height="0.8" fill="#fff" />
<rect x="270" y="481.2" width="3.9" height="0.8" fill="#fff" />
<rect x="265.6" y="470.1" width="0.8" height="11.8" fill="#fff" />
<path d="M237.9 471 L241 471 L241 472 L245.62 472 L245.62 473 L249.62 473 L249.62 473.9 L253.2 473.9 L253.2 475.4 L249.2 475.4 L249.2 476 L241.9 476 L241.9 478 L237.9 478 Z" fill="#000"/>
<rect x="203" y="466.1" width="35.9" height="18.2" rx="2.2" fill="#000"/>
<rect x="204.9" y="468" width="31.2" height="14.1" rx="0.8" fill="#fff"/>
<path d="M3.5 0 V8.5 L2.5 9.5 H1.5 L0.5 8.5 V7" transform="translate(209 470) scale(1)" fill="none" stroke="#000" stroke-width="1" stroke-linecap="butt" stroke-linejoin="miter"/>
<path d="M0.5 10 V0.5 H3.5 L4.5 1.5 V4.5 L3.5 5.5 H0.5" transform="translate(217 470) scale(1)" fill="none" stroke="#000" stroke-width="1" stroke-linecap="butt" stroke-linejoin="miter"/>
<path d="M4.5 1.5 L3.5 0.5 H1.5 L0.5 1.5 V8.5 L1.5 9.5 H3.5 L4.5 8.5 V5.5 L3.5 4.5 H0.5" transform="translate(225 470) scale(1)" fill="none" stroke="#000" stroke-width="1" stroke-linecap="butt" stroke-linejoin="miter"/>
<path d="M236.3 473 L240.1 473 L240.1 474 L245.62 474 L245.62 475 L240.1 475 L240.1 476 L236.3 476 Z" fill="#fff"/>
<path d="M290.5 472 L287.4 472 L287.4 473 L282.59 473 L282.59 474 L278.48 474 L278.48 474.9 L274.8 474.9 L274.8 476.4 L278.92 476.4 L278.92 477 L286.5 477 L286.5 479 L290.5 479 Z" fill="#000"/>
<rect x="289.5" y="467.5" width="41" height="17.3" rx="2.2" fill="#000"/>
<rect x="291.7" y="469.7" width="36.1" height="12.4" rx="0.8" fill="#fff"/>
<path d="M3.5 0 V8.5 L2.5 9.5 H1.5 L0.5 8.5 V7" transform="translate(294 471) scale(1)" fill="none" stroke="#000" stroke-width="1" stroke-linecap="butt" stroke-linejoin="miter"/>
<path d="M0.5 10 V0.5 H3.5 L4.5 1.5 V4.5 L3.5 5.5 H0.5" transform="translate(302 471) scale(1)" fill="none" stroke="#000" stroke-width="1" stroke-linecap="butt" stroke-linejoin="miter"/>
<path d="M0 2.5 H2 M2.5 1 V10" transform="translate(311 471) scale(1)" fill="none" stroke="#000" stroke-width="1" stroke-linecap="butt" stroke-linejoin="miter"/>
<path d="M2.5 0.3 L4.5 3 V7 L2.5 9.7 L0.5 7 V3 Z" transform="translate(318 471) scale(1)" fill="none" stroke="#000" stroke-width="1" stroke-linecap="butt" stroke-linejoin="miter"/>
<path d="M292.1 474 L288.3 474 L288.3 475 L282.59 475 L282.59 476 L288.3 476 L288.3 477 L292.1 477 Z" fill="#fff"/>
<path d="M261.5 482.7 L267.5 482.7 L274.5 488.5 L274.5 491 L272 492 L270 492 Z" fill="#000"/>
<rect x="270.4" y="488.3" width="34.6" height="18.2" rx="2.2" fill="#000"/>
<rect x="272.6" y="490.5" width="30.2" height="13.8" rx="0.8" fill="#fff"/>
<path d="M3.5 0 V8.5 L2.5 9.5 H1.5 L0.5 8.5 V7" transform="translate(277 492) scale(1)" fill="none" stroke="#000" stroke-width="1" stroke-linecap="butt" stroke-linejoin="miter"/>
<path d="M0.5 10 V0.5 H3.5 L4.5 1.5 V4.5 L3.5 5.5 H0.5" transform="translate(285 492) scale(1)" fill="none" stroke="#000" stroke-width="1" stroke-linecap="butt" stroke-linejoin="miter"/>
<path d="M0.5 8 V8.5 L1.5 9.5 H3.5 L4.5 8.5 V1.5 L3.5 0.5 H1.5 L0.5 1.5 V4.5 L1.5 5.5 H4.5" transform="translate(292 492) scale(1)" fill="none" stroke="#000" stroke-width="1" stroke-linecap="butt" stroke-linejoin="miter"/>
<path d="M266 485.6 L267.2 485.4 L272 490.6 L271 491.2 Z" fill="#fff"/>
<rect x="500" y="347" width="226" height="19" fill="#000" />
<rect x="501" y="348" width="224" height="16.9" fill="#fff" />
<rect x="501" y="354" width="6" height="1" fill="#000" />
<rect x="718" y="354" width="6" height="1" fill="#000" />
<rect x="501" y="361" width="6" height="1" fill="#000" />
<rect x="718" y="361" width="6" height="1" fill="#000" />
<rect x="507" y="348" width="4" height="15.6" fill="#000" />
<rect x="714" y="348" width="4" height="15.6" fill="#000" />
<rect x="511" y="348" width="8" height="1" fill="#000" />
<rect x="706" y="348" width="8" height="1" fill="#000" />
<rect x="518" y="349" width="1" height="4" fill="#000" />
<rect x="706" y="349" width="1" height="4" fill="#000" />
<rect x="511" y="352" width="3" height="1" fill="#000" />
<rect x="711" y="352" width="3" height="1" fill="#000" />
<rect x="519" y="353" width="2" height="1" fill="#000" />
<rect x="704" y="353" width="2" height="1" fill="#000" />
<rect x="512" y="353" width="1" height="10" fill="#000" />
<rect x="712" y="353" width="1" height="10" fill="#000" />
<rect x="520" y="353" width="1" height="10" fill="#000" />
<rect x="704" y="353" width="1" height="10" fill="#000" />
<rect x="512" y="362" width="9" height="1" fill="#000" />
<rect x="704" y="362" width="9" height="1" fill="#000" />
<rect x="513" y="355" width="6" height="1" fill="#000" />
<rect x="706" y="355" width="6" height="1" fill="#000" />
<rect x="525.9" y="349" width="173.9" height="14.6" fill="#000" />
<rect x="528.9" y="349.9" width="2.2" height="5" fill="#fff" />
<rect x="528" y="356.1" width="4" height="5.9" fill="#fff" />
<rect x="532.4" y="362.8" width="1.1" height="0.8" fill="#fff" />
<rect x="534.79" y="349.9" width="2.2" height="5" fill="#fff" />
<rect x="533.89" y="356.1" width="4" height="5.9" fill="#fff" />
<rect x="538.29" y="362.8" width="1.1" height="0.8" fill="#fff" />
<rect x="540.68" y="349.9" width="2.2" height="5" fill="#fff" />
<rect x="539.78" y="356.1" width="4" height="5.9" fill="#fff" />
<rect x="544.18" y="362.8" width="1.1" height="0.8" fill="#fff" />
<rect x="546.57" y="349.9" width="2.2" height="5" fill="#fff" />
<rect x="545.67" y="356.1" width="4" height="5.9" fill="#fff" />
<rect x="550.07" y="362.8" width="1.1" height="0.8" fill="#fff" />
<rect x="552.46" y="349.9" width="2.2" height="5" fill="#fff" />
<rect x="551.56" y="356.1" width="4" height="5.9" fill="#fff" />
<rect x="555.96" y="362.8" width="1.1" height="0.8" fill="#fff" />
<rect x="558.35" y="349.9" width="2.2" height="5" fill="#fff" />
<rect x="557.45" y="356.1" width="4" height="5.9" fill="#fff" />
<rect x="561.85" y="362.8" width="1.1" height="0.8" fill="#fff" />
<rect x="564.23" y="349.9" width="2.2" height="5" fill="#fff" />
<rect x="563.33" y="356.1" width="4" height="5.9" fill="#fff" />
<rect x="567.73" y="362.8" width="1.1" height="0.8" fill="#fff" />
<rect x="570.12" y="349.9" width="2.2" height="5" fill="#fff" />
<rect x="569.22" y="356.1" width="4" height="5.9" fill="#fff" />
<rect x="573.62" y="362.8" width="1.1" height="0.8" fill="#fff" />
<rect x="576.01" y="349.9" width="2.2" height="5" fill="#fff" />
<rect x="575.11" y="356.1" width="4" height="5.9" fill="#fff" />
<rect x="579.51" y="362.8" width="1.1" height="0.8" fill="#fff" />
<rect x="581.9" y="349.9" width="2.2" height="5" fill="#fff" />
<rect x="581" y="356.1" width="4" height="5.9" fill="#fff" />
<rect x="585.4" y="362.8" width="1.1" height="0.8" fill="#fff" />
<rect x="587.79" y="349.9" width="2.2" height="5" fill="#fff" />
<rect x="586.89" y="356.1" width="4" height="5.9" fill="#fff" />
<rect x="591.29" y="362.8" width="1.1" height="0.8" fill="#fff" />
<rect x="593.68" y="349.9" width="2.2" height="5" fill="#fff" />
<rect x="592.78" y="356.1" width="4" height="5.9" fill="#fff" />
<rect x="597.18" y="362.8" width="1.1" height="0.8" fill="#fff" />
<rect x="599.57" y="349.9" width="2.2" height="5" fill="#fff" />
<rect x="598.67" y="356.1" width="4" height="5.9" fill="#fff" />
<rect x="603.07" y="362.8" width="1.1" height="0.8" fill="#fff" />
<rect x="605.46" y="349.9" width="2.2" height="5" fill="#fff" />
<rect x="604.56" y="356.1" width="4" height="5.9" fill="#fff" />
<rect x="608.96" y="362.8" width="1.1" height="0.8" fill="#fff" />
<rect x="611.35" y="349.9" width="2.2" height="5" fill="#fff" />
<rect x="610.45" y="356.1" width="4" height="5.9" fill="#fff" />
<rect x="614.85" y="362.8" width="1.1" height="0.8" fill="#fff" />
<rect x="617.24" y="349.9" width="2.2" height="5" fill="#fff" />
<rect x="616.34" y="356.1" width="4" height="5.9" fill="#fff" />
<rect x="620.74" y="362.8" width="1.1" height="0.8" fill="#fff" />
<rect x="623.12" y="349.9" width="2.2" height="5" fill="#fff" />
<rect x="622.22" y="356.1" width="4" height="5.9" fill="#fff" />
<rect x="626.62" y="362.8" width="1.1" height="0.8" fill="#fff" />
<rect x="629.01" y="349.9" width="2.2" height="5" fill="#fff" />
<rect x="628.11" y="356.1" width="4" height="5.9" fill="#fff" />
<rect x="632.51" y="362.8" width="1.1" height="0.8" fill="#fff" />
<rect x="634.9" y="349.9" width="2.2" height="5" fill="#fff" />
<rect x="634" y="356.1" width="4" height="5.9" fill="#fff" />
<rect x="638.4" y="362.8" width="1.1" height="0.8" fill="#fff" />
<rect x="640.79" y="349.9" width="2.2" height="5" fill="#fff" />
<rect x="639.89" y="356.1" width="4" height="5.9" fill="#fff" />
<rect x="644.29" y="362.8" width="1.1" height="0.8" fill="#fff" />
<rect x="646.68" y="349.9" width="2.2" height="5" fill="#fff" />
<rect x="645.78" y="356.1" width="4" height="5.9" fill="#fff" />
<rect x="650.18" y="362.8" width="1.1" height="0.8" fill="#fff" />
<rect x="652.57" y="349.9" width="2.2" height="5" fill="#fff" />
<rect x="651.67" y="356.1" width="4" height="5.9" fill="#fff" />
<rect x="656.07" y="362.8" width="1.1" height="0.8" fill="#fff" />
<rect x="658.46" y="349.9" width="2.2" height="5" fill="#fff" />
<rect x="657.56" y="356.1" width="4" height="5.9" fill="#fff" />
<rect x="661.96" y="362.8" width="1.1" height="0.8" fill="#fff" />
<rect x="664.35" y="349.9" width="2.2" height="5" fill="#fff" />
<rect x="663.45" y="356.1" width="4" height="5.9" fill="#fff" />
<rect x="667.85" y="362.8" width="1.1" height="0.8" fill="#fff" />
<rect x="670.24" y="349.9" width="2.2" height="5" fill="#fff" />
<rect x="669.34" y="356.1" width="4" height="5.9" fill="#fff" />
<rect x="673.74" y="362.8" width="1.1" height="0.8" fill="#fff" />
<rect x="676.12" y="349.9" width="2.2" height="5" fill="#fff" />
<rect x="675.23" y="356.1" width="4" height="5.9" fill="#fff" />
<rect x="679.62" y="362.8" width="1.1" height="0.8" fill="#fff" />
<rect x="682.01" y="349.9" width="2.2" height="5" fill="#fff" />
<rect x="681.11" y="356.1" width="4" height="5.9" fill="#fff" />
<rect x="685.51" y="362.8" width="1.1" height="0.8" fill="#fff" />
<rect x="687.9" y="349.9" width="2.2" height="5" fill="#fff" />
<rect x="687" y="356.1" width="4" height="5.9" fill="#fff" />
<rect x="691.4" y="362.8" width="1.1" height="0.8" fill="#fff" />
<rect x="693.79" y="349.9" width="2.2" height="5" fill="#fff" />
<rect x="692.89" y="356.1" width="4" height="5.9" fill="#fff" />
<rect x="500" y="367" width="226" height="19" fill="#000" />
<rect x="501" y="368" width="224" height="16.9" fill="#fff" />
<rect x="501" y="374" width="6" height="1" fill="#000" />
<rect x="718" y="374" width="6" height="1" fill="#000" />
<rect x="501" y="381" width="6" height="1" fill="#000" />
<rect x="718" y="381" width="6" height="1" fill="#000" />
<rect x="507" y="368" width="4" height="15.6" fill="#000" />
<rect x="714" y="368" width="4" height="15.6" fill="#000" />
<rect x="511" y="368" width="8" height="1" fill="#000" />
<rect x="706" y="368" width="8" height="1" fill="#000" />
<rect x="518" y="369" width="1" height="4" fill="#000" />
<rect x="706" y="369" width="1" height="4" fill="#000" />
<rect x="511" y="372" width="3" height="1" fill="#000" />
<rect x="711" y="372" width="3" height="1" fill="#000" />
<rect x="519" y="373" width="2" height="1" fill="#000" />
<rect x="704" y="373" width="2" height="1" fill="#000" />
<rect x="512" y="373" width="1" height="10" fill="#000" />
<rect x="712" y="373" width="1" height="10" fill="#000" />
<rect x="520" y="373" width="1" height="10" fill="#000" />
<rect x="704" y="373" width="1" height="10" fill="#000" />
<rect x="512" y="382" width="9" height="1" fill="#000" />
<rect x="704" y="382" width="9" height="1" fill="#000" />
<rect x="513" y="375" width="6" height="1" fill="#000" />
<rect x="706" y="375" width="6" height="1" fill="#000" />
<rect x="525.9" y="369" width="173.9" height="14.6" fill="#000" />
<rect x="528.9" y="369.9" width="2.2" height="5" fill="#fff" />
<rect x="528" y="376.1" width="4" height="5.9" fill="#fff" />
<rect x="532.4" y="382.8" width="1.1" height="0.8" fill="#fff" />
<rect x="534.79" y="369.9" width="2.2" height="5" fill="#fff" />
<rect x="533.89" y="376.1" width="4" height="5.9" fill="#fff" />
<rect x="538.29" y="382.8" width="1.1" height="0.8" fill="#fff" />
<rect x="540.68" y="369.9" width="2.2" height="5" fill="#fff" />
<rect x="539.78" y="376.1" width="4" height="5.9" fill="#fff" />
<rect x="544.18" y="382.8" width="1.1" height="0.8" fill="#fff" />
<rect x="546.57" y="369.9" width="2.2" height="5" fill="#fff" />
<rect x="545.67" y="376.1" width="4" height="5.9" fill="#fff" />
<rect x="550.07" y="382.8" width="1.1" height="0.8" fill="#fff" />
<rect x="552.46" y="369.9" width="2.2" height="5" fill="#fff" />
<rect x="551.56" y="376.1" width="4" height="5.9" fill="#fff" />
<rect x="555.96" y="382.8" width="1.1" height="0.8" fill="#fff" />
<rect x="558.35" y="369.9" width="2.2" height="5" fill="#fff" />
<rect x="557.45" y="376.1" width="4" height="5.9" fill="#fff" />
<rect x="561.85" y="382.8" width="1.1" height="0.8" fill="#fff" />
<rect x="564.23" y="369.9" width="2.2" height="5" fill="#fff" />
<rect x="563.33" y="376.1" width="4" height="5.9" fill="#fff" />
<rect x="567.73" y="382.8" width="1.1" height="0.8" fill="#fff" />
<rect x="570.12" y="369.9" width="2.2" height="5" fill="#fff" />
<rect x="569.22" y="376.1" width="4" height="5.9" fill="#fff" />
<rect x="573.62" y="382.8" width="1.1" height="0.8" fill="#fff" />
<rect x="576.01" y="369.9" width="2.2" height="5" fill="#fff" />
<rect x="575.11" y="376.1" width="4" height="5.9" fill="#fff" />
<rect x="579.51" y="382.8" width="1.1" height="0.8" fill="#fff" />
<rect x="581.9" y="369.9" width="2.2" height="5" fill="#fff" />
<rect x="581" y="376.1" width="4" height="5.9" fill="#fff" />
<rect x="585.4" y="382.8" width="1.1" height="0.8" fill="#fff" />
<rect x="587.79" y="369.9" width="2.2" height="5" fill="#fff" />
<rect x="586.89" y="376.1" width="4" height="5.9" fill="#fff" />
<rect x="591.29" y="382.8" width="1.1" height="0.8" fill="#fff" />
<rect x="593.68" y="369.9" width="2.2" height="5" fill="#fff" />
<rect x="592.78" y="376.1" width="4" height="5.9" fill="#fff" />
<rect x="597.18" y="382.8" width="1.1" height="0.8" fill="#fff" />
<rect x="599.57" y="369.9" width="2.2" height="5" fill="#fff" />
<rect x="598.67" y="376.1" width="4" height="5.9" fill="#fff" />
<rect x="603.07" y="382.8" width="1.1" height="0.8" fill="#fff" />
<rect x="605.46" y="369.9" width="2.2" height="5" fill="#fff" />
<rect x="604.56" y="376.1" width="4" height="5.9" fill="#fff" />
<rect x="608.96" y="382.8" width="1.1" height="0.8" fill="#fff" />
<rect x="611.35" y="369.9" width="2.2" height="5" fill="#fff" />
<rect x="610.45" y="376.1" width="4" height="5.9" fill="#fff" />
<rect x="614.85" y="382.8" width="1.1" height="0.8" fill="#fff" />
<rect x="617.24" y="369.9" width="2.2" height="5" fill="#fff" />
<rect x="616.34" y="376.1" width="4" height="5.9" fill="#fff" />
<rect x="620.74" y="382.8" width="1.1" height="0.8" fill="#fff" />
<rect x="623.12" y="369.9" width="2.2" height="5" fill="#fff" />
<rect x="622.22" y="376.1" width="4" height="5.9" fill="#fff" />
<rect x="626.62" y="382.8" width="1.1" height="0.8" fill="#fff" />
<rect x="629.01" y="369.9" width="2.2" height="5" fill="#fff" />
<rect x="628.11" y="376.1" width="4" height="5.9" fill="#fff" />
<rect x="632.51" y="382.8" width="1.1" height="0.8" fill="#fff" />
<rect x="634.9" y="369.9" width="2.2" height="5" fill="#fff" />
<rect x="634" y="376.1" width="4" height="5.9" fill="#fff" />
<rect x="638.4" y="382.8" width="1.1" height="0.8" fill="#fff" />
<rect x="640.79" y="369.9" width="2.2" height="5" fill="#fff" />
<rect x="639.89" y="376.1" width="4" height="5.9" fill="#fff" />
<rect x="644.29" y="382.8" width="1.1" height="0.8" fill="#fff" />
<rect x="646.68" y="369.9" width="2.2" height="5" fill="#fff" />
<rect x="645.78" y="376.1" width="4" height="5.9" fill="#fff" />
<rect x="650.18" y="382.8" width="1.1" height="0.8" fill="#fff" />
<rect x="652.57" y="369.9" width="2.2" height="5" fill="#fff" />
<rect x="651.67" y="376.1" width="4" height="5.9" fill="#fff" />
<rect x="656.07" y="382.8" width="1.1" height="0.8" fill="#fff" />
<rect x="658.46" y="369.9" width="2.2" height="5" fill="#fff" />
<rect x="657.56" y="376.1" width="4" height="5.9" fill="#fff" />
<rect x="661.96" y="382.8" width="1.1" height="0.8" fill="#fff" />
<rect x="664.35" y="369.9" width="2.2" height="5" fill="#fff" />
<rect x="663.45" y="376.1" width="4" height="5.9" fill="#fff" />
<rect x="667.85" y="382.8" width="1.1" height="0.8" fill="#fff" />
<rect x="670.24" y="369.9" width="2.2" height="5" fill="#fff" />
<rect x="669.34" y="376.1" width="4" height="5.9" fill="#fff" />
<rect x="673.74" y="382.8" width="1.1" height="0.8" fill="#fff" />
<rect x="676.12" y="369.9" width="2.2" height="5" fill="#fff" />
<rect x="675.23" y="376.1" width="4" height="5.9" fill="#fff" />
<rect x="679.62" y="382.8" width="1.1" height="0.8" fill="#fff" />
<rect x="682.01" y="369.9" width="2.2" height="5" fill="#fff" />
<rect x="681.11" y="376.1" width="4" height="5.9" fill="#fff" />
<rect x="685.51" y="382.8" width="1.1" height="0.8" fill="#fff" />
<rect x="687.9" y="369.9" width="2.2" height="5" fill="#fff" />
<rect x="687" y="376.1" width="4" height="5.9" fill="#fff" />
<rect x="691.4" y="382.8" width="1.1" height="0.8" fill="#fff" />
<rect x="693.79" y="369.9" width="2.2" height="5" fill="#fff" />
<rect x="692.89" y="376.1" width="4" height="5.9" fill="#fff" />
<rect x="500" y="387" width="226" height="20.1" fill="#000" />
<rect x="501" y="388" width="224" height="18" fill="#fff" />
<rect x="501" y="394" width="6" height="1" fill="#000" />
<rect x="718" y="394" width="6" height="1" fill="#000" />
<rect x="501" y="401" width="6" height="1" fill="#000" />
<rect x="718" y="401" width="6" height="1" fill="#000" />
<rect x="507" y="388" width="4" height="15.6" fill="#000" />
<rect x="714" y="388" width="4" height="15.6" fill="#000" />
<rect x="511" y="388" width="8" height="1" fill="#000" />
<rect x="706" y="388" width="8" height="1" fill="#000" />
<rect x="518" y="389" width="1" height="4" fill="#000" />
<rect x="706" y="389" width="1" height="4" fill="#000" />
<rect x="511" y="392" width="3" height="1" fill="#000" />
<rect x="711" y="392" width="3" height="1" fill="#000" />
<rect x="519" y="393" width="2" height="1" fill="#000" />
<rect x="704" y="393" width="2" height="1" fill="#000" />
<rect x="512" y="393" width="1" height="10" fill="#000" />
<rect x="712" y="393" width="1" height="10" fill="#000" />
<rect x="520" y="393" width="1" height="10" fill="#000" />
<rect x="704" y="393" width="1" height="10" fill="#000" />
<rect x="512" y="402" width="9" height="1" fill="#000" />
<rect x="704" y="402" width="9" height="1" fill="#000" />
<rect x="513" y="395" width="6" height="1" fill="#000" />
<rect x="706" y="395" width="6" height="1" fill="#000" />
<rect x="525.9" y="389" width="173.9" height="14.6" fill="#000" />
<rect x="528.9" y="389.9" width="2.2" height="5" fill="#fff" />
<rect x="528" y="396.1" width="4" height="5.9" fill="#fff" />
<rect x="532.4" y="402.8" width="1.1" height="0.8" fill="#fff" />
<rect x="534.79" y="389.9" width="2.2" height="5" fill="#fff" />
<rect x="533.89" y="396.1" width="4" height="5.9" fill="#fff" />
<rect x="538.29" y="402.8" width="1.1" height="0.8" fill="#fff" />
<rect x="540.68" y="389.9" width="2.2" height="5" fill="#fff" />
<rect x="539.78" y="396.1" width="4" height="5.9" fill="#fff" />
<rect x="544.18" y="402.8" width="1.1" height="0.8" fill="#fff" />
<rect x="546.57" y="389.9" width="2.2" height="5" fill="#fff" />
<rect x="545.67" y="396.1" width="4" height="5.9" fill="#fff" />
<rect x="550.07" y="402.8" width="1.1" height="0.8" fill="#fff" />
<rect x="552.46" y="389.9" width="2.2" height="5" fill="#fff" />
<rect x="551.56" y="396.1" width="4" height="5.9" fill="#fff" />
<rect x="555.96" y="402.8" width="1.1" height="0.8" fill="#fff" />
<rect x="558.35" y="389.9" width="2.2" height="5" fill="#fff" />
<rect x="557.45" y="396.1" width="4" height="5.9" fill="#fff" />
<rect x="561.85" y="402.8" width="1.1" height="0.8" fill="#fff" />
<rect x="564.23" y="389.9" width="2.2" height="5" fill="#fff" />
<rect x="563.33" y="396.1" width="4" height="5.9" fill="#fff" />
<rect x="567.73" y="402.8" width="1.1" height="0.8" fill="#fff" />
<rect x="570.12" y="389.9" width="2.2" height="5" fill="#fff" />
<rect x="569.22" y="396.1" width="4" height="5.9" fill="#fff" />
<rect x="573.62" y="402.8" width="1.1" height="0.8" fill="#fff" />
<rect x="576.01" y="389.9" width="2.2" height="5" fill="#fff" />
<rect x="575.11" y="396.1" width="4" height="5.9" fill="#fff" />
<rect x="579.51" y="402.8" width="1.1" height="0.8" fill="#fff" />
<rect x="581.9" y="389.9" width="2.2" height="5" fill="#fff" />
<rect x="581" y="396.1" width="4" height="5.9" fill="#fff" />
<rect x="585.4" y="402.8" width="1.1" height="0.8" fill="#fff" />
<rect x="587.79" y="389.9" width="2.2" height="5" fill="#fff" />
<rect x="586.89" y="396.1" width="4" height="5.9" fill="#fff" />
<rect x="591.29" y="402.8" width="1.1" height="0.8" fill="#fff" />
<rect x="593.68" y="389.9" width="2.2" height="5" fill="#fff" />
<rect x="592.78" y="396.1" width="4" height="5.9" fill="#fff" />
<rect x="597.18" y="402.8" width="1.1" height="0.8" fill="#fff" />
<rect x="599.57" y="389.9" width="2.2" height="5" fill="#fff" />
<rect x="598.67" y="396.1" width="4" height="5.9" fill="#fff" />
<rect x="603.07" y="402.8" width="1.1" height="0.8" fill="#fff" />
<rect x="605.46" y="389.9" width="2.2" height="5" fill="#fff" />
<rect x="604.56" y="396.1" width="4" height="5.9" fill="#fff" />
<rect x="608.96" y="402.8" width="1.1" height="0.8" fill="#fff" />
<rect x="611.35" y="389.9" width="2.2" height="5" fill="#fff" />
<rect x="610.45" y="396.1" width="4" height="5.9" fill="#fff" />
<rect x="614.85" y="402.8" width="1.1" height="0.8" fill="#fff" />
<rect x="617.24" y="389.9" width="2.2" height="5" fill="#fff" />
<rect x="616.34" y="396.1" width="4" height="5.9" fill="#fff" />
<rect x="620.74" y="402.8" width="1.1" height="0.8" fill="#fff" />
<rect x="623.12" y="389.9" width="2.2" height="5" fill="#fff" />
<rect x="622.22" y="396.1" width="4" height="5.9" fill="#fff" />
<rect x="626.62" y="402.8" width="1.1" height="0.8" fill="#fff" />
<rect x="629.01" y="389.9" width="2.2" height="5" fill="#fff" />
<rect x="628.11" y="396.1" width="4" height="5.9" fill="#fff" />
<rect x="632.51" y="402.8" width="1.1" height="0.8" fill="#fff" />
<rect x="634.9" y="389.9" width="2.2" height="5" fill="#fff" />
<rect x="634" y="396.1" width="4" height="5.9" fill="#fff" />
<rect x="638.4" y="402.8" width="1.1" height="0.8" fill="#fff" />
<rect x="640.79" y="389.9" width="2.2" height="5" fill="#fff" />
<rect x="639.89" y="396.1" width="4" height="5.9" fill="#fff" />
<rect x="644.29" y="402.8" width="1.1" height="0.8" fill="#fff" />
<rect x="646.68" y="389.9" width="2.2" height="5" fill="#fff" />
<rect x="645.78" y="396.1" width="4" height="5.9" fill="#fff" />
<rect x="650.18" y="402.8" width="1.1" height="0.8" fill="#fff" />
<rect x="652.57" y="389.9" width="2.2" height="5" fill="#fff" />
<rect x="651.67" y="396.1" width="4" height="5.9" fill="#fff" />
<rect x="656.07" y="402.8" width="1.1" height="0.8" fill="#fff" />
<rect x="658.46" y="389.9" width="2.2" height="5" fill="#fff" />
<rect x="657.56" y="396.1" width="4" height="5.9" fill="#fff" />
<rect x="661.96" y="402.8" width="1.1" height="0.8" fill="#fff" />
<rect x="664.35" y="389.9" width="2.2" height="5" fill="#fff" />
<rect x="663.45" y="396.1" width="4" height="5.9" fill="#fff" />
<rect x="667.85" y="402.8" width="1.1" height="0.8" fill="#fff" />
<rect x="670.24" y="389.9" width="2.2" height="5" fill="#fff" />
<rect x="669.34" y="396.1" width="4" height="5.9" fill="#fff" />
<rect x="673.74" y="402.8" width="1.1" height="0.8" fill="#fff" />
<rect x="676.12" y="389.9" width="2.2" height="5" fill="#fff" />
<rect x="675.23" y="396.1" width="4" height="5.9" fill="#fff" />
<rect x="679.62" y="402.8" width="1.1" height="0.8" fill="#fff" />
<rect x="682.01" y="389.9" width="2.2" height="5" fill="#fff" />
<rect x="681.11" y="396.1" width="4" height="5.9" fill="#fff" />
<rect x="685.51" y="402.8" width="1.1" height="0.8" fill="#fff" />
<rect x="687.9" y="389.9" width="2.2" height="5" fill="#fff" />
<rect x="687" y="396.1" width="4" height="5.9" fill="#fff" />
<rect x="691.4" y="402.8" width="1.1" height="0.8" fill="#fff" />
<rect x="693.79" y="389.9" width="2.2" height="5" fill="#fff" />
<rect x="692.89" y="396.1" width="4" height="5.9" fill="#fff" />
<rect x="500" y="408" width="226" height="19.1" fill="#000" />
<rect x="501" y="409" width="224" height="17" fill="#fff" />
<rect x="501" y="415" width="6" height="1" fill="#000" />
<rect x="718" y="415" width="6" height="1" fill="#000" />
<rect x="501" y="422" width="6" height="1" fill="#000" />
<rect x="718" y="422" width="6" height="1" fill="#000" />
<rect x="507" y="409" width="4" height="15.6" fill="#000" />
<rect x="714" y="409" width="4" height="15.6" fill="#000" />
<rect x="511" y="409" width="8" height="1" fill="#000" />
<rect x="706" y="409" width="8" height="1" fill="#000" />
<rect x="518" y="410" width="1" height="4" fill="#000" />
<rect x="706" y="410" width="1" height="4" fill="#000" />
<rect x="511" y="413" width="3" height="1" fill="#000" />
<rect x="711" y="413" width="3" height="1" fill="#000" />
<rect x="519" y="414" width="2" height="1" fill="#000" />
<rect x="704" y="414" width="2" height="1" fill="#000" />
<rect x="512" y="414" width="1" height="10" fill="#000" />
<rect x="712" y="414" width="1" height="10" fill="#000" />
<rect x="520" y="414" width="1" height="10" fill="#000" />
<rect x="704" y="414" width="1" height="10" fill="#000" />
<rect x="512" y="423" width="9" height="1" fill="#000" />
<rect x="704" y="423" width="9" height="1" fill="#000" />
<rect x="513" y="416" width="6" height="1" fill="#000" />
<rect x="706" y="416" width="6" height="1" fill="#000" />
<rect x="525.9" y="410" width="173.9" height="14.6" fill="#000" />
<rect x="528.9" y="410.9" width="2.2" height="5" fill="#fff" />
<rect x="528" y="417.1" width="4" height="5.9" fill="#fff" />
<rect x="532.4" y="423.8" width="1.1" height="0.8" fill="#fff" />
<rect x="534.79" y="410.9" width="2.2" height="5" fill="#fff" />
<rect x="533.89" y="417.1" width="4" height="5.9" fill="#fff" />
<rect x="538.29" y="423.8" width="1.1" height="0.8" fill="#fff" />
<rect x="540.68" y="410.9" width="2.2" height="5" fill="#fff" />
<rect x="539.78" y="417.1" width="4" height="5.9" fill="#fff" />
<rect x="544.18" y="423.8" width="1.1" height="0.8" fill="#fff" />
<rect x="546.57" y="410.9" width="2.2" height="5" fill="#fff" />
<rect x="545.67" y="417.1" width="4" height="5.9" fill="#fff" />
<rect x="550.07" y="423.8" width="1.1" height="0.8" fill="#fff" />
<rect x="552.46" y="410.9" width="2.2" height="5" fill="#fff" />
<rect x="551.56" y="417.1" width="4" height="5.9" fill="#fff" />
<rect x="555.96" y="423.8" width="1.1" height="0.8" fill="#fff" />
<rect x="558.35" y="410.9" width="2.2" height="5" fill="#fff" />
<rect x="557.45" y="417.1" width="4" height="5.9" fill="#fff" />
<rect x="561.85" y="423.8" width="1.1" height="0.8" fill="#fff" />
<rect x="564.23" y="410.9" width="2.2" height="5" fill="#fff" />
<rect x="563.33" y="417.1" width="4" height="5.9" fill="#fff" />
<rect x="567.73" y="423.8" width="1.1" height="0.8" fill="#fff" />
<rect x="570.12" y="410.9" width="2.2" height="5" fill="#fff" />
<rect x="569.22" y="417.1" width="4" height="5.9" fill="#fff" />
<rect x="573.62" y="423.8" width="1.1" height="0.8" fill="#fff" />
<rect x="576.01" y="410.9" width="2.2" height="5" fill="#fff" />
<rect x="575.11" y="417.1" width="4" height="5.9" fill="#fff" />
<rect x="579.51" y="423.8" width="1.1" height="0.8" fill="#fff" />
<rect x="581.9" y="410.9" width="2.2" height="5" fill="#fff" />
<rect x="581" y="417.1" width="4" height="5.9" fill="#fff" />
<rect x="585.4" y="423.8" width="1.1" height="0.8" fill="#fff" />
<rect x="587.79" y="410.9" width="2.2" height="5" fill="#fff" />
<rect x="586.89" y="417.1" width="4" height="5.9" fill="#fff" />
<rect x="591.29" y="423.8" width="1.1" height="0.8" fill="#fff" />
<rect x="593.68" y="410.9" width="2.2" height="5" fill="#fff" />
<rect x="592.78" y="417.1" width="4" height="5.9" fill="#fff" />
<rect x="597.18" y="423.8" width="1.1" height="0.8" fill="#fff" />
<rect x="599.57" y="410.9" width="2.2" height="5" fill="#fff" />
<rect x="598.67" y="417.1" width="4" height="5.9" fill="#fff" />
<rect x="603.07" y="423.8" width="1.1" height="0.8" fill="#fff" />
<rect x="605.46" y="410.9" width="2.2" height="5" fill="#fff" />
<rect x="604.56" y="417.1" width="4" height="5.9" fill="#fff" />
<rect x="608.96" y="423.8" width="1.1" height="0.8" fill="#fff" />
<rect x="611.35" y="410.9" width="2.2" height="5" fill="#fff" />
<rect x="610.45" y="417.1" width="4" height="5.9" fill="#fff" />
<rect x="614.85" y="423.8" width="1.1" height="0.8" fill="#fff" />
<rect x="617.24" y="410.9" width="2.2" height="5" fill="#fff" />
<rect x="616.34" y="417.1" width="4" height="5.9" fill="#fff" />
<rect x="620.74" y="423.8" width="1.1" height="0.8" fill="#fff" />
<rect x="623.12" y="410.9" width="2.2" height="5" fill="#fff" />
<rect x="622.22" y="417.1" width="4" height="5.9" fill="#fff" />
<rect x="626.62" y="423.8" width="1.1" height="0.8" fill="#fff" />
<rect x="629.01" y="410.9" width="2.2" height="5" fill="#fff" />
<rect x="628.11" y="417.1" width="4" height="5.9" fill="#fff" />
<rect x="632.51" y="423.8" width="1.1" height="0.8" fill="#fff" />
<rect x="634.9" y="410.9" width="2.2" height="5" fill="#fff" />
<rect x="634" y="417.1" width="4" height="5.9" fill="#fff" />
<rect x="638.4" y="423.8" width="1.1" height="0.8" fill="#fff" />
<rect x="640.79" y="410.9" width="2.2" height="5" fill="#fff" />
<rect x="639.89" y="417.1" width="4" height="5.9" fill="#fff" />
<rect x="644.29" y="423.8" width="1.1" height="0.8" fill="#fff" />
<rect x="646.68" y="410.9" width="2.2" height="5" fill="#fff" />
<rect x="645.78" y="417.1" width="4" height="5.9" fill="#fff" />
<rect x="650.18" y="423.8" width="1.1" height="0.8" fill="#fff" />
<rect x="652.57" y="410.9" width="2.2" height="5" fill="#fff" />
<rect x="651.67" y="417.1" width="4" height="5.9" fill="#fff" />
<rect x="656.07" y="423.8" width="1.1" height="0.8" fill="#fff" />
<rect x="658.46" y="410.9" width="2.2" height="5" fill="#fff" />
<rect x="657.56" y="417.1" width="4" height="5.9" fill="#fff" />
<rect x="661.96" y="423.8" width="1.1" height="0.8" fill="#fff" />
<rect x="664.35" y="410.9" width="2.2" height="5" fill="#fff" />
<rect x="663.45" y="417.1" width="4" height="5.9" fill="#fff" />
<rect x="667.85" y="423.8" width="1.1" height="0.8" fill="#fff" />
<rect x="670.24" y="410.9" width="2.2" height="5" fill="#fff" />
<rect x="669.34" y="417.1" width="4" height="5.9" fill="#fff" />
<rect x="673.74" y="423.8" width="1.1" height="0.8" fill="#fff" />
<rect x="676.12" y="410.9" width="2.2" height="5" fill="#fff" />
<rect x="675.23" y="417.1" width="4" height="5.9" fill="#fff" />
<rect x="679.62" y="423.8" width="1.1" height="0.8" fill="#fff" />
<rect x="682.01" y="410.9" width="2.2" height="5" fill="#fff" />
<rect x="681.11" y="417.1" width="4" height="5.9" fill="#fff" />
<rect x="685.51" y="423.8" width="1.1" height="0.8" fill="#fff" />
<rect x="687.9" y="410.9" width="2.2" height="5" fill="#fff" />
<rect x="687" y="417.1" width="4" height="5.9" fill="#fff" />
<rect x="691.4" y="423.8" width="1.1" height="0.8" fill="#fff" />
<rect x="693.79" y="410.9" width="2.2" height="5" fill="#fff" />
<rect x="692.89" y="417.1" width="4" height="5.9" fill="#fff" />
<rect x="500" y="428" width="226" height="19.1" fill="#000" />
<rect x="501" y="429" width="224" height="17" fill="#fff" />
<rect x="501" y="435" width="6" height="1" fill="#000" />
<rect x="718" y="435" width="6" height="1" fill="#000" />
<rect x="501" y="442" width="6" height="1" fill="#000" />
<rect x="718" y="442" width="6" height="1" fill="#000" />
<rect x="507" y="429" width="4" height="15.6" fill="#000" />
<rect x="714" y="429" width="4" height="15.6" fill="#000" />
<rect x="511" y="429" width="8" height="1" fill="#000" />
<rect x="706" y="429" width="8" height="1" fill="#000" />
<rect x="518" y="430" width="1" height="4" fill="#000" />
<rect x="706" y="430" width="1" height="4" fill="#000" />
<rect x="511" y="433" width="3" height="1" fill="#000" />
<rect x="711" y="433" width="3" height="1" fill="#000" />
<rect x="519" y="434" width="2" height="1" fill="#000" />
<rect x="704" y="434" width="2" height="1" fill="#000" />
<rect x="512" y="434" width="1" height="10" fill="#000" />
<rect x="712" y="434" width="1" height="10" fill="#000" />
<rect x="520" y="434" width="1" height="10" fill="#000" />
<rect x="704" y="434" width="1" height="10" fill="#000" />
<rect x="512" y="443" width="9" height="1" fill="#000" />
<rect x="704" y="443" width="9" height="1" fill="#000" />
<rect x="513" y="436" width="6" height="1" fill="#000" />
<rect x="706" y="436" width="6" height="1" fill="#000" />
<rect x="525.9" y="430" width="173.9" height="14.6" fill="#000" />
<rect x="528.9" y="430.9" width="2.2" height="5" fill="#fff" />
<rect x="528" y="437.1" width="4" height="5.9" fill="#fff" />
<rect x="532.4" y="443.8" width="1.1" height="0.8" fill="#fff" />
<rect x="534.79" y="430.9" width="2.2" height="5" fill="#fff" />
<rect x="533.89" y="437.1" width="4" height="5.9" fill="#fff" />
<rect x="538.29" y="443.8" width="1.1" height="0.8" fill="#fff" />
<rect x="540.68" y="430.9" width="2.2" height="5" fill="#fff" />
<rect x="539.78" y="437.1" width="4" height="5.9" fill="#fff" />
<rect x="544.18" y="443.8" width="1.1" height="0.8" fill="#fff" />
<rect x="546.57" y="430.9" width="2.2" height="5" fill="#fff" />
<rect x="545.67" y="437.1" width="4" height="5.9" fill="#fff" />
<rect x="550.07" y="443.8" width="1.1" height="0.8" fill="#fff" />
<rect x="552.46" y="430.9" width="2.2" height="5" fill="#fff" />
<rect x="551.56" y="437.1" width="4" height="5.9" fill="#fff" />
<rect x="555.96" y="443.8" width="1.1" height="0.8" fill="#fff" />
<rect x="558.35" y="430.9" width="2.2" height="5" fill="#fff" />
<rect x="557.45" y="437.1" width="4" height="5.9" fill="#fff" />
<rect x="561.85" y="443.8" width="1.1" height="0.8" fill="#fff" />
<rect x="564.23" y="430.9" width="2.2" height="5" fill="#fff" />
<rect x="563.33" y="437.1" width="4" height="5.9" fill="#fff" />
<rect x="567.73" y="443.8" width="1.1" height="0.8" fill="#fff" />
<rect x="570.12" y="430.9" width="2.2" height="5" fill="#fff" />
<rect x="569.22" y="437.1" width="4" height="5.9" fill="#fff" />
<rect x="573.62" y="443.8" width="1.1" height="0.8" fill="#fff" />
<rect x="576.01" y="430.9" width="2.2" height="5" fill="#fff" />
<rect x="575.11" y="437.1" width="4" height="5.9" fill="#fff" />
<rect x="579.51" y="443.8" width="1.1" height="0.8" fill="#fff" />
<rect x="581.9" y="430.9" width="2.2" height="5" fill="#fff" />
<rect x="581" y="437.1" width="4" height="5.9" fill="#fff" />
<rect x="585.4" y="443.8" width="1.1" height="0.8" fill="#fff" />
<rect x="587.79" y="430.9" width="2.2" height="5" fill="#fff" />
<rect x="586.89" y="437.1" width="4" height="5.9" fill="#fff" />
<rect x="591.29" y="443.8" width="1.1" height="0.8" fill="#fff" />
<rect x="593.68" y="430.9" width="2.2" height="5" fill="#fff" />
<rect x="592.78" y="437.1" width="4" height="5.9" fill="#fff" />
<rect x="597.18" y="443.8" width="1.1" height="0.8" fill="#fff" />
<rect x="599.57" y="430.9" width="2.2" height="5" fill="#fff" />
<rect x="598.67" y="437.1" width="4" height="5.9" fill="#fff" />
<rect x="603.07" y="443.8" width="1.1" height="0.8" fill="#fff" />
<rect x="605.46" y="430.9" width="2.2" height="5" fill="#fff" />
<rect x="604.56" y="437.1" width="4" height="5.9" fill="#fff" />
<rect x="608.96" y="443.8" width="1.1" height="0.8" fill="#fff" />
<rect x="611.35" y="430.9" width="2.2" height="5" fill="#fff" />
<rect x="610.45" y="437.1" width="4" height="5.9" fill="#fff" />
<rect x="614.85" y="443.8" width="1.1" height="0.8" fill="#fff" />
<rect x="617.24" y="430.9" width="2.2" height="5" fill="#fff" />
<rect x="616.34" y="437.1" width="4" height="5.9" fill="#fff" />
<rect x="620.74" y="443.8" width="1.1" height="0.8" fill="#fff" />
<rect x="623.12" y="430.9" width="2.2" height="5" fill="#fff" />
<rect x="622.22" y="437.1" width="4" height="5.9" fill="#fff" />
<rect x="626.62" y="443.8" width="1.1" height="0.8" fill="#fff" />
<rect x="629.01" y="430.9" width="2.2" height="5" fill="#fff" />
<rect x="628.11" y="437.1" width="4" height="5.9" fill="#fff" />
<rect x="632.51" y="443.8" width="1.1" height="0.8" fill="#fff" />
<rect x="634.9" y="430.9" width="2.2" height="5" fill="#fff" />
<rect x="634" y="437.1" width="4" height="5.9" fill="#fff" />
<rect x="638.4" y="443.8" width="1.1" height="0.8" fill="#fff" />
<rect x="640.79" y="430.9" width="2.2" height="5" fill="#fff" />
<rect x="639.89" y="437.1" width="4" height="5.9" fill="#fff" />
<rect x="644.29" y="443.8" width="1.1" height="0.8" fill="#fff" />
<rect x="646.68" y="430.9" width="2.2" height="5" fill="#fff" />
<rect x="645.78" y="437.1" width="4" height="5.9" fill="#fff" />
<rect x="650.18" y="443.8" width="1.1" height="0.8" fill="#fff" />
<rect x="652.57" y="430.9" width="2.2" height="5" fill="#fff" />
<rect x="651.67" y="437.1" width="4" height="5.9" fill="#fff" />
<rect x="656.07" y="443.8" width="1.1" height="0.8" fill="#fff" />
<rect x="658.46" y="430.9" width="2.2" height="5" fill="#fff" />
<rect x="657.56" y="437.1" width="4" height="5.9" fill="#fff" />
<rect x="661.96" y="443.8" width="1.1" height="0.8" fill="#fff" />
<rect x="664.35" y="430.9" width="2.2" height="5" fill="#fff" />
<rect x="663.45" y="437.1" width="4" height="5.9" fill="#fff" />
<rect x="667.85" y="443.8" width="1.1" height="0.8" fill="#fff" />
<rect x="670.24" y="430.9" width="2.2" height="5" fill="#fff" />
<rect x="669.34" y="437.1" width="4" height="5.9" fill="#fff" />
<rect x="673.74" y="443.8" width="1.1" height="0.8" fill="#fff" />
<rect x="676.12" y="430.9" width="2.2" height="5" fill="#fff" />
<rect x="675.23" y="437.1" width="4" height="5.9" fill="#fff" />
<rect x="679.62" y="443.8" width="1.1" height="0.8" fill="#fff" />
<rect x="682.01" y="430.9" width="2.2" height="5" fill="#fff" />
<rect x="681.11" y="437.1" width="4" height="5.9" fill="#fff" />
<rect x="685.51" y="443.8" width="1.1" height="0.8" fill="#fff" />
<rect x="687.9" y="430.9" width="2.2" height="5" fill="#fff" />
<rect x="687" y="437.1" width="4" height="5.9" fill="#fff" />
<rect x="691.4" y="443.8" width="1.1" height="0.8" fill="#fff" />
<rect x="693.79" y="430.9" width="2.2" height="5" fill="#fff" />
<rect x="692.89" y="437.1" width="4" height="5.9" fill="#fff" />
<rect x="500" y="448" width="226" height="19" fill="#000" />
<rect x="501" y="449" width="224" height="16.9" fill="#fff" />
<rect x="501" y="455" width="6" height="1" fill="#000" />
<rect x="718" y="455" width="6" height="1" fill="#000" />
<rect x="501" y="462" width="6" height="1" fill="#000" />
<rect x="718" y="462" width="6" height="1" fill="#000" />
<rect x="507" y="449" width="4" height="15.6" fill="#000" />
<rect x="714" y="449" width="4" height="15.6" fill="#000" />
<rect x="511" y="449" width="8" height="1" fill="#000" />
<rect x="706" y="449" width="8" height="1" fill="#000" />
<rect x="518" y="450" width="1" height="4" fill="#000" />
<rect x="706" y="450" width="1" height="4" fill="#000" />
<rect x="511" y="453" width="3" height="1" fill="#000" />
<rect x="711" y="453" width="3" height="1" fill="#000" />
<rect x="519" y="454" width="2" height="1" fill="#000" />
<rect x="704" y="454" width="2" height="1" fill="#000" />
<rect x="512" y="454" width="1" height="10" fill="#000" />
<rect x="712" y="454" width="1" height="10" fill="#000" />
<rect x="520" y="454" width="1" height="10" fill="#000" />
<rect x="704" y="454" width="1" height="10" fill="#000" />
<rect x="512" y="463" width="9" height="1" fill="#000" />
<rect x="704" y="463" width="9" height="1" fill="#000" />
<rect x="513" y="456" width="6" height="1" fill="#000" />
<rect x="706" y="456" width="6" height="1" fill="#000" />
<rect x="525.9" y="450" width="173.9" height="14.6" fill="#000" />
<rect x="528.9" y="450.9" width="2.2" height="5" fill="#fff" />
<rect x="528" y="457.1" width="4" height="5.9" fill="#fff" />
<rect x="532.4" y="463.8" width="1.1" height="0.8" fill="#fff" />
<rect x="534.79" y="450.9" width="2.2" height="5" fill="#fff" />
<rect x="533.89" y="457.1" width="4" height="5.9" fill="#fff" />
<rect x="538.29" y="463.8" width="1.1" height="0.8" fill="#fff" />
<rect x="540.68" y="450.9" width="2.2" height="5" fill="#fff" />
<rect x="539.78" y="457.1" width="4" height="5.9" fill="#fff" />
<rect x="544.18" y="463.8" width="1.1" height="0.8" fill="#fff" />
<rect x="546.57" y="450.9" width="2.2" height="5" fill="#fff" />
<rect x="545.67" y="457.1" width="4" height="5.9" fill="#fff" />
<rect x="550.07" y="463.8" width="1.1" height="0.8" fill="#fff" />
<rect x="552.46" y="450.9" width="2.2" height="5" fill="#fff" />
<rect x="551.56" y="457.1" width="4" height="5.9" fill="#fff" />
<rect x="555.96" y="463.8" width="1.1" height="0.8" fill="#fff" />
<rect x="558.35" y="450.9" width="2.2" height="5" fill="#fff" />
<rect x="557.45" y="457.1" width="4" height="5.9" fill="#fff" />
<rect x="561.85" y="463.8" width="1.1" height="0.8" fill="#fff" />
<rect x="564.23" y="450.9" width="2.2" height="5" fill="#fff" />
<rect x="563.33" y="457.1" width="4" height="5.9" fill="#fff" />
<rect x="567.73" y="463.8" width="1.1" height="0.8" fill="#fff" />
<rect x="570.12" y="450.9" width="2.2" height="5" fill="#fff" />
<rect x="569.22" y="457.1" width="4" height="5.9" fill="#fff" />
<rect x="573.62" y="463.8" width="1.1" height="0.8" fill="#fff" />
<rect x="576.01" y="450.9" width="2.2" height="5" fill="#fff" />
<rect x="575.11" y="457.1" width="4" height="5.9" fill="#fff" />
<rect x="579.51" y="463.8" width="1.1" height="0.8" fill="#fff" />
<rect x="581.9" y="450.9" width="2.2" height="5" fill="#fff" />
<rect x="581" y="457.1" width="4" height="5.9" fill="#fff" />
<rect x="585.4" y="463.8" width="1.1" height="0.8" fill="#fff" />
<rect x="587.79" y="450.9" width="2.2" height="5" fill="#fff" />
<rect x="586.89" y="457.1" width="4" height="5.9" fill="#fff" />
<rect x="591.29" y="463.8" width="1.1" height="0.8" fill="#fff" />
<rect x="593.68" y="450.9" width="2.2" height="5" fill="#fff" />
<rect x="592.78" y="457.1" width="4" height="5.9" fill="#fff" />
<rect x="597.18" y="463.8" width="1.1" height="0.8" fill="#fff" />
<rect x="599.57" y="450.9" width="2.2" height="5" fill="#fff" />
<rect x="598.67" y="457.1" width="4" height="5.9" fill="#fff" />
<rect x="603.07" y="463.8" width="1.1" height="0.8" fill="#fff" />
<rect x="605.46" y="450.9" width="2.2" height="5" fill="#fff" />
<rect x="604.56" y="457.1" width="4" height="5.9" fill="#fff" />
<rect x="608.96" y="463.8" width="1.1" height="0.8" fill="#fff" />
<rect x="611.35" y="450.9" width="2.2" height="5" fill="#fff" />
<rect x="610.45" y="457.1" width="4" height="5.9" fill="#fff" />
<rect x="614.85" y="463.8" width="1.1" height="0.8" fill="#fff" />
<rect x="617.24" y="450.9" width="2.2" height="5" fill="#fff" />
<rect x="616.34" y="457.1" width="4" height="5.9" fill="#fff" />
<rect x="620.74" y="463.8" width="1.1" height="0.8" fill="#fff" />
<rect x="623.12" y="450.9" width="2.2" height="5" fill="#fff" />
<rect x="622.22" y="457.1" width="4" height="5.9" fill="#fff" />
<rect x="626.62" y="463.8" width="1.1" height="0.8" fill="#fff" />
<rect x="629.01" y="450.9" width="2.2" height="5" fill="#fff" />
<rect x="628.11" y="457.1" width="4" height="5.9" fill="#fff" />
<rect x="632.51" y="463.8" width="1.1" height="0.8" fill="#fff" />
<rect x="634.9" y="450.9" width="2.2" height="5" fill="#fff" />
<rect x="634" y="457.1" width="4" height="5.9" fill="#fff" />
<rect x="638.4" y="463.8" width="1.1" height="0.8" fill="#fff" />
<rect x="640.79" y="450.9" width="2.2" height="5" fill="#fff" />
<rect x="639.89" y="457.1" width="4" height="5.9" fill="#fff" />
<rect x="644.29" y="463.8" width="1.1" height="0.8" fill="#fff" />
<rect x="646.68" y="450.9" width="2.2" height="5" fill="#fff" />
<rect x="645.78" y="457.1" width="4" height="5.9" fill="#fff" />
<rect x="650.18" y="463.8" width="1.1" height="0.8" fill="#fff" />
<rect x="652.57" y="450.9" width="2.2" height="5" fill="#fff" />
<rect x="651.67" y="457.1" width="4" height="5.9" fill="#fff" />
<rect x="656.07" y="463.8" width="1.1" height="0.8" fill="#fff" />
<rect x="658.46" y="450.9" width="2.2" height="5" fill="#fff" />
<rect x="657.56" y="457.1" width="4" height="5.9" fill="#fff" />
<rect x="661.96" y="463.8" width="1.1" height="0.8" fill="#fff" />
<rect x="664.35" y="450.9" width="2.2" height="5" fill="#fff" />
<rect x="663.45" y="457.1" width="4" height="5.9" fill="#fff" />
<rect x="667.85" y="463.8" width="1.1" height="0.8" fill="#fff" />
<rect x="670.24" y="450.9" width="2.2" height="5" fill="#fff" />
<rect x="669.34" y="457.1" width="4" height="5.9" fill="#fff" />
<rect x="673.74" y="463.8" width="1.1" height="0.8" fill="#fff" />
<rect x="676.12" y="450.9" width="2.2" height="5" fill="#fff" />
<rect x="675.23" y="457.1" width="4" height="5.9" fill="#fff" />
<rect x="679.62" y="463.8" width="1.1" height="0.8" fill="#fff" />
<rect x="682.01" y="450.9" width="2.2" height="5" fill="#fff" />
<rect x="681.11" y="457.1" width="4" height="5.9" fill="#fff" />
<rect x="685.51" y="463.8" width="1.1" height="0.8" fill="#fff" />
<rect x="687.9" y="450.9" width="2.2" height="5" fill="#fff" />
<rect x="687" y="457.1" width="4" height="5.9" fill="#fff" />
<rect x="691.4" y="463.8" width="1.1" height="0.8" fill="#fff" />
<rect x="693.79" y="450.9" width="2.2" height="5" fill="#fff" />
<rect x="692.89" y="457.1" width="4" height="5.9" fill="#fff" />
<rect x="500" y="468" width="226" height="18.5" fill="#000" />
<rect x="501" y="469" width="224" height="16.4" fill="#fff" />
<rect x="501" y="475" width="6" height="1" fill="#000" />
<rect x="718" y="475" width="6" height="1" fill="#000" />
<rect x="501" y="482" width="6" height="1" fill="#000" />
<rect x="718" y="482" width="6" height="1" fill="#000" />
<rect x="507" y="469" width="4" height="15.6" fill="#000" />
<rect x="714" y="469" width="4" height="15.6" fill="#000" />
<rect x="511" y="469" width="8" height="1" fill="#000" />
<rect x="706" y="469" width="8" height="1" fill="#000" />
<rect x="518" y="470" width="1" height="4" fill="#000" />
<rect x="706" y="470" width="1" height="4" fill="#000" />
<rect x="511" y="473" width="3" height="1" fill="#000" />
<rect x="711" y="473" width="3" height="1" fill="#000" />
<rect x="519" y="474" width="2" height="1" fill="#000" />
<rect x="704" y="474" width="2" height="1" fill="#000" />
<rect x="512" y="474" width="1" height="10" fill="#000" />
<rect x="712" y="474" width="1" height="10" fill="#000" />
<rect x="520" y="474" width="1" height="10" fill="#000" />
<rect x="704" y="474" width="1" height="10" fill="#000" />
<rect x="512" y="483" width="9" height="1" fill="#000" />
<rect x="704" y="483" width="9" height="1" fill="#000" />
<rect x="513" y="476" width="6" height="1" fill="#000" />
<rect x="706" y="476" width="6" height="1" fill="#000" />
<rect x="525.9" y="470" width="173.9" height="14.6" fill="#000" />
<rect x="528.9" y="470.9" width="2.2" height="5" fill="#fff" />
<rect x="528" y="477.1" width="4" height="5.9" fill="#fff" />
<rect x="532.4" y="483.8" width="1.1" height="0.8" fill="#fff" />
<rect x="534.79" y="470.9" width="2.2" height="5" fill="#fff" />
<rect x="533.89" y="477.1" width="4" height="5.9" fill="#fff" />
<rect x="538.29" y="483.8" width="1.1" height="0.8" fill="#fff" />
<rect x="540.68" y="470.9" width="2.2" height="5" fill="#fff" />
<rect x="539.78" y="477.1" width="4" height="5.9" fill="#fff" />
<rect x="544.18" y="483.8" width="1.1" height="0.8" fill="#fff" />
<rect x="546.57" y="470.9" width="2.2" height="5" fill="#fff" />
<rect x="545.67" y="477.1" width="4" height="5.9" fill="#fff" />
<rect x="550.07" y="483.8" width="1.1" height="0.8" fill="#fff" />
<rect x="552.46" y="470.9" width="2.2" height="5" fill="#fff" />
<rect x="551.56" y="477.1" width="4" height="5.9" fill="#fff" />
<rect x="555.96" y="483.8" width="1.1" height="0.8" fill="#fff" />
<rect x="558.35" y="470.9" width="2.2" height="5" fill="#fff" />
<rect x="557.45" y="477.1" width="4" height="5.9" fill="#fff" />
<rect x="561.85" y="483.8" width="1.1" height="0.8" fill="#fff" />
<rect x="564.23" y="470.9" width="2.2" height="5" fill="#fff" />
<rect x="563.33" y="477.1" width="4" height="5.9" fill="#fff" />
<rect x="567.73" y="483.8" width="1.1" height="0.8" fill="#fff" />
<rect x="570.12" y="470.9" width="2.2" height="5" fill="#fff" />
<rect x="569.22" y="477.1" width="4" height="5.9" fill="#fff" />
<rect x="573.62" y="483.8" width="1.1" height="0.8" fill="#fff" />
<rect x="576.01" y="470.9" width="2.2" height="5" fill="#fff" />
<rect x="575.11" y="477.1" width="4" height="5.9" fill="#fff" />
<rect x="579.51" y="483.8" width="1.1" height="0.8" fill="#fff" />
<rect x="581.9" y="470.9" width="2.2" height="5" fill="#fff" />
<rect x="581" y="477.1" width="4" height="5.9" fill="#fff" />
<rect x="585.4" y="483.8" width="1.1" height="0.8" fill="#fff" />
<rect x="587.79" y="470.9" width="2.2" height="5" fill="#fff" />
<rect x="586.89" y="477.1" width="4" height="5.9" fill="#fff" />
<rect x="591.29" y="483.8" width="1.1" height="0.8" fill="#fff" />
<rect x="593.68" y="470.9" width="2.2" height="5" fill="#fff" />
<rect x="592.78" y="477.1" width="4" height="5.9" fill="#fff" />
<rect x="597.18" y="483.8" width="1.1" height="0.8" fill="#fff" />
<rect x="599.57" y="470.9" width="2.2" height="5" fill="#fff" />
<rect x="598.67" y="477.1" width="4" height="5.9" fill="#fff" />
<rect x="603.07" y="483.8" width="1.1" height="0.8" fill="#fff" />
<rect x="605.46" y="470.9" width="2.2" height="5" fill="#fff" />
<rect x="604.56" y="477.1" width="4" height="5.9" fill="#fff" />
<rect x="608.96" y="483.8" width="1.1" height="0.8" fill="#fff" />
<rect x="611.35" y="470.9" width="2.2" height="5" fill="#fff" />
<rect x="610.45" y="477.1" width="4" height="5.9" fill="#fff" />
<rect x="614.85" y="483.8" width="1.1" height="0.8" fill="#fff" />
<rect x="617.24" y="470.9" width="2.2" height="5" fill="#fff" />
<rect x="616.34" y="477.1" width="4" height="5.9" fill="#fff" />
<rect x="620.74" y="483.8" width="1.1" height="0.8" fill="#fff" />
<rect x="623.12" y="470.9" width="2.2" height="5" fill="#fff" />
<rect x="622.22" y="477.1" width="4" height="5.9" fill="#fff" />
<rect x="626.62" y="483.8" width="1.1" height="0.8" fill="#fff" />
<rect x="629.01" y="470.9" width="2.2" height="5" fill="#fff" />
<rect x="628.11" y="477.1" width="4" height="5.9" fill="#fff" />
<rect x="632.51" y="483.8" width="1.1" height="0.8" fill="#fff" />
<rect x="634.9" y="470.9" width="2.2" height="5" fill="#fff" />
<rect x="634" y="477.1" width="4" height="5.9" fill="#fff" />
<rect x="638.4" y="483.8" width="1.1" height="0.8" fill="#fff" />
<rect x="640.79" y="470.9" width="2.2" height="5" fill="#fff" />
<rect x="639.89" y="477.1" width="4" height="5.9" fill="#fff" />
<rect x="644.29" y="483.8" width="1.1" height="0.8" fill="#fff" />
<rect x="646.68" y="470.9" width="2.2" height="5" fill="#fff" />
<rect x="645.78" y="477.1" width="4" height="5.9" fill="#fff" />
<rect x="650.18" y="483.8" width="1.1" height="0.8" fill="#fff" />
<rect x="652.57" y="470.9" width="2.2" height="5" fill="#fff" />
<rect x="651.67" y="477.1" width="4" height="5.9" fill="#fff" />
<rect x="656.07" y="483.8" width="1.1" height="0.8" fill="#fff" />
<rect x="658.46" y="470.9" width="2.2" height="5" fill="#fff" />
<rect x="657.56" y="477.1" width="4" height="5.9" fill="#fff" />
<rect x="661.96" y="483.8" width="1.1" height="0.8" fill="#fff" />
<rect x="664.35" y="470.9" width="2.2" height="5" fill="#fff" />
<rect x="663.45" y="477.1" width="4" height="5.9" fill="#fff" />
<rect x="667.85" y="483.8" width="1.1" height="0.8" fill="#fff" />
<rect x="670.24" y="470.9" width="2.2" height="5" fill="#fff" />
<rect x="669.34" y="477.1" width="4" height="5.9" fill="#fff" />
<rect x="673.74" y="483.8" width="1.1" height="0.8" fill="#fff" />
<rect x="676.12" y="470.9" width="2.2" height="5" fill="#fff" />
<rect x="675.23" y="477.1" width="4" height="5.9" fill="#fff" />
<rect x="679.62" y="483.8" width="1.1" height="0.8" fill="#fff" />
<rect x="682.01" y="470.9" width="2.2" height="5" fill="#fff" />
<rect x="681.11" y="477.1" width="4" height="5.9" fill="#fff" />
<rect x="685.51" y="483.8" width="1.1" height="0.8" fill="#fff" />
<rect x="687.9" y="470.9" width="2.2" height="5" fill="#fff" />
<rect x="687" y="477.1" width="4" height="5.9" fill="#fff" />
<rect x="691.4" y="483.8" width="1.1" height="0.8" fill="#fff" />
<rect x="693.79" y="470.9" width="2.2" height="5" fill="#fff" />
<rect x="692.89" y="477.1" width="4" height="5.9" fill="#fff" />
<rect x="500" y="488" width="226" height="19.1" fill="#000" />
<rect x="501" y="489" width="224" height="17" fill="#fff" />
<rect x="501" y="495" width="6" height="1" fill="#000" />
<rect x="718" y="495" width="6" height="1" fill="#000" />
<rect x="501" y="502" width="6" height="1" fill="#000" />
<rect x="718" y="502" width="6" height="1" fill="#000" />
<rect x="507" y="489" width="4" height="15.6" fill="#000" />
<rect x="714" y="489" width="4" height="15.6" fill="#000" />
<rect x="511" y="489" width="8" height="1" fill="#000" />
<rect x="706" y="489" width="8" height="1" fill="#000" />
<rect x="518" y="490" width="1" height="4" fill="#000" />
<rect x="706" y="490" width="1" height="4" fill="#000" />
<rect x="511" y="493" width="3" height="1" fill="#000" />
<rect x="711" y="493" width="3" height="1" fill="#000" />
<rect x="519" y="494" width="2" height="1" fill="#000" />
<rect x="704" y="494" width="2" height="1" fill="#000" />
<rect x="512" y="494" width="1" height="10" fill="#000" />
<rect x="712" y="494" width="1" height="10" fill="#000" />
<rect x="520" y="494" width="1" height="10" fill="#000" />
<rect x="704" y="494" width="1" height="10" fill="#000" />
<rect x="512" y="503" width="9" height="1" fill="#000" />
<rect x="704" y="503" width="9" height="1" fill="#000" />
<rect x="513" y="496" width="6" height="1" fill="#000" />
<rect x="706" y="496" width="6" height="1" fill="#000" />
<rect x="525.9" y="490" width="173.9" height="14.6" fill="#000" />
<rect x="528.9" y="490.9" width="2.2" height="5" fill="#fff" />
<rect x="528" y="497.1" width="4" height="5.9" fill="#fff" />
<rect x="532.4" y="503.8" width="1.1" height="0.8" fill="#fff" />
<rect x="534.79" y="490.9" width="2.2" height="5" fill="#fff" />
<rect x="533.89" y="497.1" width="4" height="5.9" fill="#fff" />
<rect x="538.29" y="503.8" width="1.1" height="0.8" fill="#fff" />
<rect x="540.68" y="490.9" width="2.2" height="5" fill="#fff" />
<rect x="539.78" y="497.1" width="4" height="5.9" fill="#fff" />
<rect x="544.18" y="503.8" width="1.1" height="0.8" fill="#fff" />
<rect x="546.57" y="490.9" width="2.2" height="5" fill="#fff" />
<rect x="545.67" y="497.1" width="4" height="5.9" fill="#fff" />
<rect x="550.07" y="503.8" width="1.1" height="0.8" fill="#fff" />
<rect x="552.46" y="490.9" width="2.2" height="5" fill="#fff" />
<rect x="551.56" y="497.1" width="4" height="5.9" fill="#fff" />
<rect x="555.96" y="503.8" width="1.1" height="0.8" fill="#fff" />
<rect x="558.35" y="490.9" width="2.2" height="5" fill="#fff" />
<rect x="557.45" y="497.1" width="4" height="5.9" fill="#fff" />
<rect x="561.85" y="503.8" width="1.1" height="0.8" fill="#fff" />
<rect x="564.23" y="490.9" width="2.2" height="5" fill="#fff" />
<rect x="563.33" y="497.1" width="4" height="5.9" fill="#fff" />
<rect x="567.73" y="503.8" width="1.1" height="0.8" fill="#fff" />
<rect x="570.12" y="490.9" width="2.2" height="5" fill="#fff" />
<rect x="569.22" y="497.1" width="4" height="5.9" fill="#fff" />
<rect x="573.62" y="503.8" width="1.1" height="0.8" fill="#fff" />
<rect x="576.01" y="490.9" width="2.2" height="5" fill="#fff" />
<rect x="575.11" y="497.1" width="4" height="5.9" fill="#fff" />
<rect x="579.51" y="503.8" width="1.1" height="0.8" fill="#fff" />
<rect x="581.9" y="490.9" width="2.2" height="5" fill="#fff" />
<rect x="581" y="497.1" width="4" height="5.9" fill="#fff" />
<rect x="585.4" y="503.8" width="1.1" height="0.8" fill="#fff" />
<rect x="587.79" y="490.9" width="2.2" height="5" fill="#fff" />
<rect x="586.89" y="497.1" width="4" height="5.9" fill="#fff" />
<rect x="591.29" y="503.8" width="1.1" height="0.8" fill="#fff" />
<rect x="593.68" y="490.9" width="2.2" height="5" fill="#fff" />
<rect x="592.78" y="497.1" width="4" height="5.9" fill="#fff" />
<rect x="597.18" y="503.8" width="1.1" height="0.8" fill="#fff" />
<rect x="599.57" y="490.9" width="2.2" height="5" fill="#fff" />
<rect x="598.67" y="497.1" width="4" height="5.9" fill="#fff" />
<rect x="603.07" y="503.8" width="1.1" height="0.8" fill="#fff" />
<rect x="605.46" y="490.9" width="2.2" height="5" fill="#fff" />
<rect x="604.56" y="497.1" width="4" height="5.9" fill="#fff" />
<rect x="608.96" y="503.8" width="1.1" height="0.8" fill="#fff" />
<rect x="611.35" y="490.9" width="2.2" height="5" fill="#fff" />
<rect x="610.45" y="497.1" width="4" height="5.9" fill="#fff" />
<rect x="614.85" y="503.8" width="1.1" height="0.8" fill="#fff" />
<rect x="617.24" y="490.9" width="2.2" height="5" fill="#fff" />
<rect x="616.34" y="497.1" width="4" height="5.9" fill="#fff" />
<rect x="620.74" y="503.8" width="1.1" height="0.8" fill="#fff" />
<rect x="623.12" y="490.9" width="2.2" height="5" fill="#fff" />
<rect x="622.22" y="497.1" width="4" height="5.9" fill="#fff" />
<rect x="626.62" y="503.8" width="1.1" height="0.8" fill="#fff" />
<rect x="629.01" y="490.9" width="2.2" height="5" fill="#fff" />
<rect x="628.11" y="497.1" width="4" height="5.9" fill="#fff" />
<rect x="632.51" y="503.8" width="1.1" height="0.8" fill="#fff" />
<rect x="634.9" y="490.9" width="2.2" height="5" fill="#fff" />
<rect x="634" y="497.1" width="4" height="5.9" fill="#fff" />
<rect x="638.4" y="503.8" width="1.1" height="0.8" fill="#fff" />
<rect x="640.79" y="490.9" width="2.2" height="5" fill="#fff" />
<rect x="639.89" y="497.1" width="4" height="5.9" fill="#fff" />
<rect x="644.29" y="503.8" width="1.1" height="0.8" fill="#fff" />
<rect x="646.68" y="490.9" width="2.2" height="5" fill="#fff" />
<rect x="645.78" y="497.1" width="4" height="5.9" fill="#fff" />
<rect x="650.18" y="503.8" width="1.1" height="0.8" fill="#fff" />
<rect x="652.57" y="490.9" width="2.2" height="5" fill="#fff" />
<rect x="651.67" y="497.1" width="4" height="5.9" fill="#fff" />
<rect x="656.07" y="503.8" width="1.1" height="0.8" fill="#fff" />
<rect x="658.46" y="490.9" width="2.2" height="5" fill="#fff" />
<rect x="657.56" y="497.1" width="4" height="5.9" fill="#fff" />
<rect x="661.96" y="503.8" width="1.1" height="0.8" fill="#fff" />
<rect x="664.35" y="490.9" width="2.2" height="5" fill="#fff" />
<rect x="663.45" y="497.1" width="4" height="5.9" fill="#fff" />
<rect x="667.85" y="503.8" width="1.1" height="0.8" fill="#fff" />
<rect x="670.24" y="490.9" width="2.2" height="5" fill="#fff" />
<rect x="669.34" y="497.1" width="4" height="5.9" fill="#fff" />
<rect x="673.74" y="503.8" width="1.1" height="0.8" fill="#fff" />
<rect x="676.12" y="490.9" width="2.2" height="5" fill="#fff" />
<rect x="675.23" y="497.1" width="4" height="5.9" fill="#fff" />
<rect x="679.62" y="503.8" width="1.1" height="0.8" fill="#fff" />
<rect x="682.01" y="490.9" width="2.2" height="5" fill="#fff" />
<rect x="681.11" y="497.1" width="4" height="5.9" fill="#fff" />
<rect x="685.51" y="503.8" width="1.1" height="0.8" fill="#fff" />
<rect x="687.9" y="490.9" width="2.2" height="5" fill="#fff" />
<rect x="687" y="497.1" width="4" height="5.9" fill="#fff" />
<rect x="691.4" y="503.8" width="1.1" height="0.8" fill="#fff" />
<rect x="693.79" y="490.9" width="2.2" height="5" fill="#fff" />
<rect x="692.89" y="497.1" width="4" height="5.9" fill="#fff" />
<rect x="582.5" y="375.9" width="61" height="20" fill="#000" />
<rect x="584.9" y="379.9" width="56.1" height="13.8" fill="#fff"  rx="1"/>
<path d="M0.5 0.5 H3.5 L4.5 1.5 V3.5 L3.5 4.5 H0.5 M3.5 4.5 L4.5 5.5 V8.5 L3.5 9.5 H0.5 V0.5" transform="translate(590 381) scale(1)" fill="none" stroke="#000" stroke-width="1" stroke-linecap="butt" stroke-linejoin="miter"/>
<path d="M0 9.5 H1.5 M1 9.5 L3.5 0.3 L6 9.5 M5.5 9.5 H7 M1.8 6.5 H5.2" transform="translate(598 381) scale(1)" fill="none" stroke="#000" stroke-width="1" stroke-linecap="butt" stroke-linejoin="miter"/>
<path d="M0.5 10 V0 M0.5 0.5 L5.5 9.5 M5.5 10 V0" transform="translate(607 381) scale(1)" fill="none" stroke="#000" stroke-width="1" stroke-linecap="butt" stroke-linejoin="miter"/>
<path d="M0.5 0 V10 M5.5 0.3 L0.5 6.2 M2.3 4.2 L5.7 10" transform="translate(617 381) scale(1)" fill="none" stroke="#000" stroke-width="1" stroke-linecap="butt" stroke-linejoin="miter"/>
<path d="M0 2.5 H2 M2.5 1 V10" transform="translate(630 381) scale(1)" fill="none" stroke="#000" stroke-width="1" stroke-linecap="butt" stroke-linejoin="miter"/>
<rect x="582.5" y="455.9" width="61" height="20" fill="#000" />
<rect x="584.9" y="459.9" width="56.1" height="13.8" fill="#fff"  rx="1"/>
<path d="M0.5 0.5 H3.5 L4.5 1.5 V3.5 L3.5 4.5 H0.5 M3.5 4.5 L4.5 5.5 V8.5 L3.5 9.5 H0.5 V0.5" transform="translate(590 461) scale(1)" fill="none" stroke="#000" stroke-width="1" stroke-linecap="butt" stroke-linejoin="miter"/>
<path d="M0 9.5 H1.5 M1 9.5 L3.5 0.3 L6 9.5 M5.5 9.5 H7 M1.8 6.5 H5.2" transform="translate(598 461) scale(1)" fill="none" stroke="#000" stroke-width="1" stroke-linecap="butt" stroke-linejoin="miter"/>
<path d="M0.5 10 V0 M0.5 0.5 L5.5 9.5 M5.5 10 V0" transform="translate(607 461) scale(1)" fill="none" stroke="#000" stroke-width="1" stroke-linecap="butt" stroke-linejoin="miter"/>
<path d="M0.5 0 V10 M5.5 0.3 L0.5 6.2 M2.3 4.2 L5.7 10" transform="translate(617 461) scale(1)" fill="none" stroke="#000" stroke-width="1" stroke-linecap="butt" stroke-linejoin="miter"/>
<path d="M2.5 0.3 L4.5 3 V7 L2.5 9.7 L0.5 7 V3 Z" transform="translate(630 461) scale(1)" fill="none" stroke="#000" stroke-width="1" stroke-linecap="butt" stroke-linejoin="miter"/>
<rect x="736.5" y="374.5" width="23" height="111" fill="#fff" stroke="#000" stroke-width="1.1"/>
<rect x="736" y="374" width="24" height="2.4" fill="#000" />
<rect x="739.3" y="375.2" width="1.1" height="1.2" fill="#fff" />
<rect x="744.2" y="375.2" width="1.2" height="1.2" fill="#fff" />
<rect x="736" y="483.6" width="24" height="2.4" fill="#000" />
<rect x="739.3" y="483.6" width="1.1" height="1.2" fill="#fff" />
<rect x="744.2" y="483.6" width="1.2" height="1.2" fill="#fff" />
<rect x="739" y="381" width="8" height="7" fill="#000" />
<rect x="740.2" y="382.2" width="5.6" height="4.6" fill="#fff" />
<rect x="739" y="390" width="8" height="7" fill="#000" />
<rect x="740.2" y="391.2" width="5.6" height="4.6" fill="#fff" />
<rect x="739" y="399" width="8" height="7" fill="#000" />
<rect x="740.2" y="400.2" width="5.6" height="4.6" fill="#fff" />
<rect x="739" y="408" width="8" height="7" fill="#000" />
<rect x="740.2" y="409.2" width="5.6" height="4.6" fill="#fff" />
<rect x="739" y="417" width="8" height="7" fill="#000" />
<rect x="740.2" y="418.2" width="5.6" height="4.6" fill="#fff" />
<rect x="739" y="427" width="8" height="7" fill="#000" />
<rect x="740.2" y="428.2" width="5.6" height="4.6" fill="#fff" />
<rect x="739" y="436" width="8" height="7" fill="#000" />
<rect x="740.2" y="437.2" width="5.6" height="4.6" fill="#fff" />
<rect x="739" y="445" width="8" height="7" fill="#000" />
<rect x="740.2" y="446.2" width="5.6" height="4.6" fill="#fff" />
<rect x="739" y="454" width="8" height="7" fill="#000" />
<rect x="740.2" y="455.2" width="5.6" height="4.6" fill="#fff" />
<rect x="739" y="463" width="8" height="7" fill="#000" />
<rect x="740.2" y="464.2" width="5.6" height="4.6" fill="#fff" />
<rect x="739" y="473" width="8" height="7" fill="#000" />
<rect x="740.2" y="474.2" width="5.6" height="4.6" fill="#fff" />
<rect x="748" y="376" width="2" height="6" fill="#000" />
<rect x="748" y="386" width="2" height="6" fill="#000" />
<rect x="748" y="395" width="2" height="6" fill="#000" />
<rect x="748" y="404" width="2" height="6" fill="#000" />
<rect x="748" y="413" width="2" height="6" fill="#000" />
<rect x="748" y="422" width="2" height="6" fill="#000" />
<rect x="748" y="432" width="2" height="6" fill="#000" />
<rect x="748" y="441" width="2" height="6" fill="#000" />
<rect x="748" y="450" width="2" height="6" fill="#000" />
<rect x="748" y="459" width="2" height="6" fill="#000" />
<rect x="748" y="468" width="2" height="6" fill="#000" />
<rect x="748" y="478" width="2" height="6" fill="#000" />
<rect x="753" y="375" width="1" height="110.5" fill="#000" />
<rect x="754.5" y="377.5" width="2" height="5" fill="none" stroke="#000" stroke-width="1"/>
<rect x="753" y="383" width="2" height="1.5" fill="#000" />
<rect x="754.5" y="386.5" width="2" height="5" fill="none" stroke="#000" stroke-width="1"/>
<rect x="753" y="392" width="2" height="1.5" fill="#000" />
<rect x="754.5" y="395.5" width="2" height="5" fill="none" stroke="#000" stroke-width="1"/>
<rect x="753" y="401" width="2" height="1.5" fill="#000" />
<rect x="754.5" y="405.5" width="2" height="5" fill="none" stroke="#000" stroke-width="1"/>
<rect x="753" y="411" width="2" height="1.5" fill="#000" />
<rect x="754.5" y="414.5" width="2" height="5" fill="none" stroke="#000" stroke-width="1"/>
<rect x="753" y="420" width="2" height="1.5" fill="#000" />
<rect x="754.5" y="423.5" width="2" height="5" fill="none" stroke="#000" stroke-width="1"/>
<rect x="753" y="429" width="2" height="1.5" fill="#000" />
<rect x="754.5" y="432.5" width="2" height="5" fill="none" stroke="#000" stroke-width="1"/>
<rect x="753" y="438" width="2" height="1.5" fill="#000" />
<rect x="754.5" y="441.5" width="2" height="5" fill="none" stroke="#000" stroke-width="1"/>
<rect x="753" y="447" width="2" height="1.5" fill="#000" />
<rect x="754.5" y="451.5" width="2" height="5" fill="none" stroke="#000" stroke-width="1"/>
<rect x="753" y="457" width="2" height="1.5" fill="#000" />
<rect x="754.5" y="460.5" width="2" height="5" fill="none" stroke="#000" stroke-width="1"/>
<rect x="753" y="466" width="2" height="1.5" fill="#000" />
<rect x="754.5" y="469.5" width="2" height="5" fill="none" stroke="#000" stroke-width="1"/>
<rect x="753" y="475" width="2" height="1.5" fill="#000" />
<rect x="754.5" y="478.5" width="2" height="5" fill="none" stroke="#000" stroke-width="1"/>
<rect x="753" y="484" width="2" height="1.5" fill="#000" />
<path d="M775.2 439.8 L777.9 439.8 L777.9 433.8 L801.9 433.8 L801.9 428.7 L804.5 428.7 L804.5 426.9 L809 426.9 L809 476.5 L804.5 476.5 L804.5 474.8 L801.9 474.8 L801.9 470.7 L777.9 470.7 L777.9 463.8 L775.2 463.8 Z" fill="#000"/>
<rect x="771.5" y="442.6" width="3.7" height="7.2" fill="#fff" stroke="#000" stroke-width="1.1"/>
<rect x="771.5" y="453.9" width="3.7" height="7.2" fill="#fff" stroke="#000" stroke-width="1.1"/>
<rect x="776.5" y="450.2" width="1.4" height="3.8" fill="#fff" />
</svg>
</body></html>
